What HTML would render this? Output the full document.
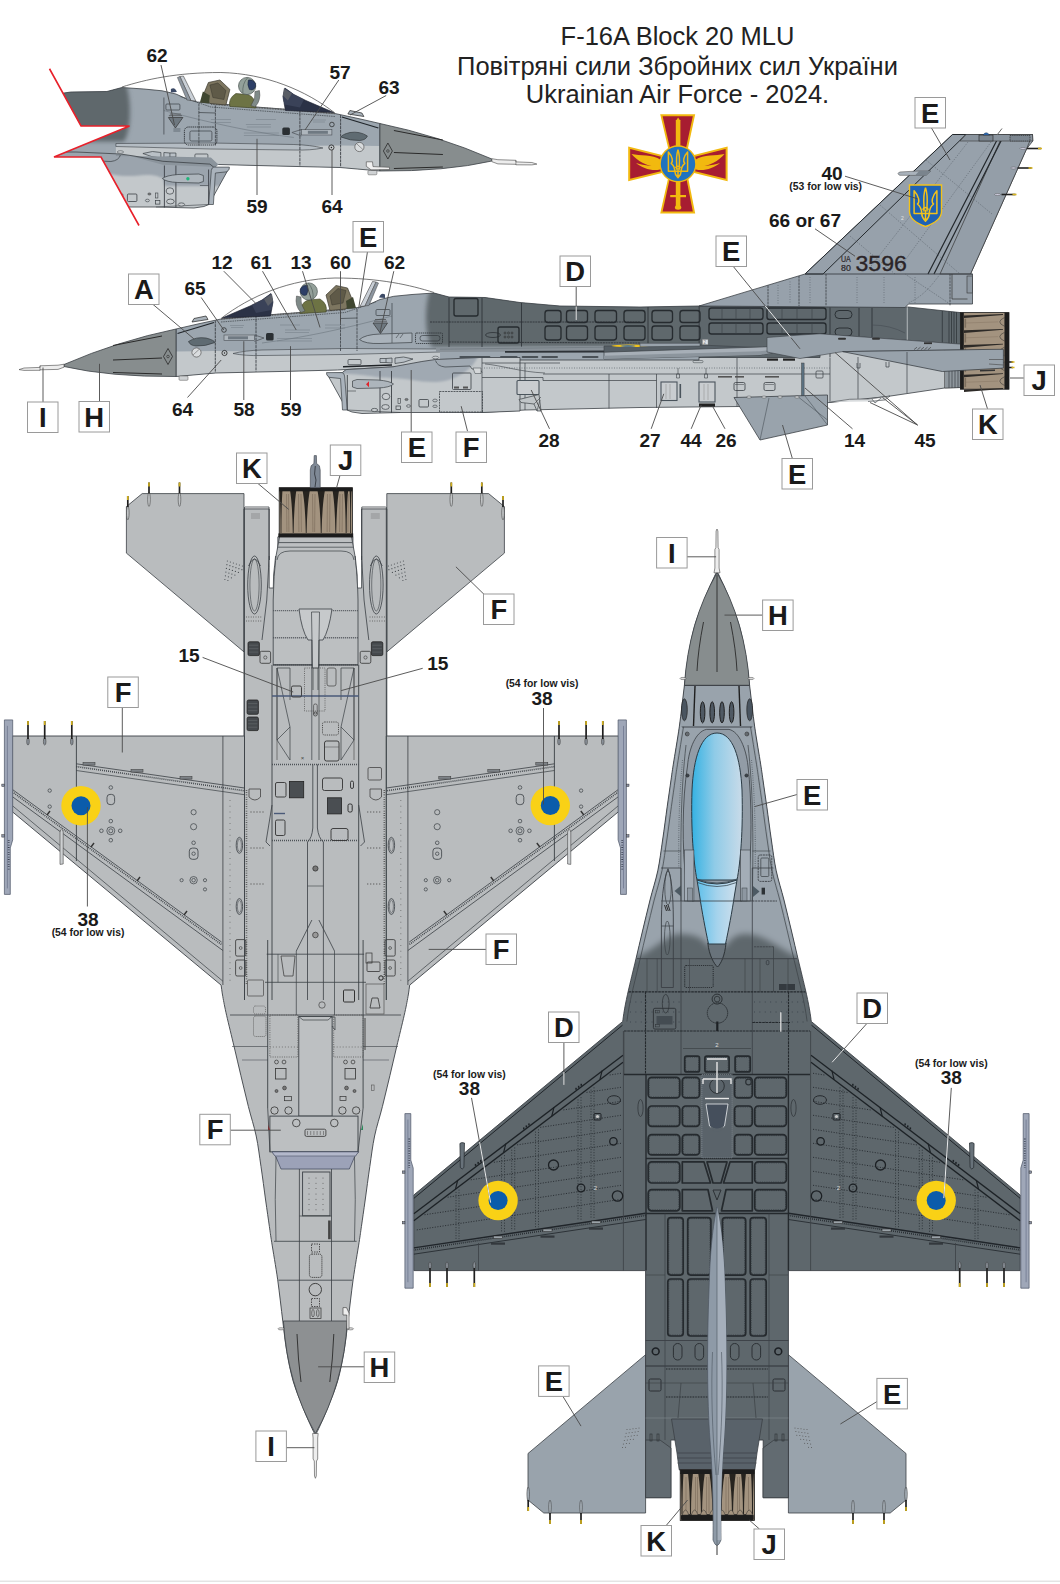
<!DOCTYPE html>
<html><head><meta charset="utf-8"><title>F-16A Block 20 MLU</title>
<style>html,body{margin:0;padding:0;background:#fff}svg{display:block;font-family:"Liberation Sans",sans-serif}</style></head><body>
<svg width="1060" height="1584" viewBox="0 0 1060 1584">
<rect width="1060" height="1584" fill="#fff"/>
<rect x="0" y="1580.6" width="1060" height="1.2" fill="#dedede"/>
<text x="677.5" y="45" font-size="25.5" text-anchor="middle" fill="#222">F-16A Block 20 MLU</text>
<text x="677.5" y="74.8" font-size="25.5" text-anchor="middle" fill="#222">Повітряні сили Збройних сил України</text>
<text x="677.5" y="102.8" font-size="25.5" text-anchor="middle" fill="#222">Ukrainian Air Force - 2024.</text>
<g id="emblem">
<polygon points="660.2,114.3 695.2,114.3 687.6,150.0 668.6,150.0" fill="#f2b90f" stroke="none" stroke-width="0.7" />
<polygon points="662.6,116.3 692.8,116.3 685.6,150.0 670.4,150.0" fill="#a71d31" stroke="none" stroke-width="0.7" />
<polygon points="660.2,213.6 695.2,213.6 688.2,178.0 668.2,178.0" fill="#f2b90f" stroke="none" stroke-width="0.7" />
<polygon points="662.6,211.6 692.8,211.6 686.3,178.0 669.9,178.0" fill="#a71d31" stroke="none" stroke-width="0.7" />
<polygon points="628.2,146.5 628.2,181.2 664.0,172.5 664.0,155.5" fill="#f2b90f" stroke="none" stroke-width="0.7" />
<polygon points="630.2,149.0 630.2,178.7 664.0,170.5 664.0,157.4" fill="#a71d31" stroke="none" stroke-width="0.7" />
<polygon points="727.6,146.5 727.6,181.2 692.0,172.5 692.0,155.5" fill="#f2b90f" stroke="none" stroke-width="0.7" />
<polygon points="725.6,149.0 725.6,178.7 692.0,170.5 692.0,157.4" fill="#a71d31" stroke="none" stroke-width="0.7" />
<rect x="675.8" y="120.0" width="4.6" height="86.0" rx="0" fill="#f2b90f" stroke="none" stroke-width="0.7" />
<polygon points="675.8,121.0 678.1,117.5 680.4,121.0" fill="#f2b90f" stroke="none" stroke-width="0.7" />
<rect x="670.2" y="195.0" width="15.8" height="2.2" rx="0" fill="#f2b90f" stroke="none" stroke-width="0.7" />
<ellipse cx="678.1" cy="207.5" rx="3.2" ry="2.2" fill="#f2b90f" stroke="none" stroke-width="0.7" />
<path d="M660,166 C650,168 638,162 631.5,154 C640,156 652,154 661,160 Z" fill="#f2b90f" stroke="none" stroke-width="0.7" />
<path d="M660,169.5 C652,171.5 642,168 636,163 C645,166 654,166 660,166 Z" fill="#f2b90f" stroke="none" stroke-width="0.7" />
<path d="M696,166 C706,168 718,162 724.5,154 C716,156 704,154 695,160 Z" fill="#f2b90f" stroke="none" stroke-width="0.7" />
<path d="M696,169.5 C704,171.5 714,168 720,163 C711,166 702,166 696,166 Z" fill="#f2b90f" stroke="none" stroke-width="0.7" />
<circle cx="678.0" cy="163.9" r="18.6" fill="#f2b90f" stroke="none" stroke-width="0.7" />
<circle cx="678.0" cy="163.9" r="17.2" fill="#2173bf" stroke="none" stroke-width="0.7" />
<g transform="translate(678.0,163.3) scale(0.8)" fill="none" stroke="#f2b90f" stroke-width="1.88" stroke-linejoin="round">
<path d="M0,-17 C-1.6,-12 -2.2,-6 -1.6,2 L-1.6,8 M0,-17 C1.6,-12 2.2,-6 1.6,2 L1.6,8"/>
<path d="M-12,-14 L-12,10 L-4,10 C-4,5 -6,2 -8.5,0 C-6,-2 -6.5,-8 -12,-14 Z"/>
<path d="M12,-14 L12,10 L4,10 C4,5 6,2 8.5,0 C6,-2 6.5,-8 12,-14 Z"/>
<path d="M-4,10 C-4,14 -2,16 0,18 C2,16 4,14 4,10 M0,6 L0,18 M-5,10 L5,10 M-3,6 C-2,3 2,3 3,6"/>
</g>
</g>
<defs>
<filter id="blur2" x="-30%" y="-30%" width="160%" height="160%"><feGaussianBlur stdDeviation="2.2"/></filter>
<filter id="blur1" x="-30%" y="-30%" width="160%" height="160%"><feGaussianBlur stdDeviation="1.2"/></filter>
<clipPath id="fbody"><path d="M176.0,329.0 L200.0,323.5 L221.0,319.0 L260.0,315.5 L300.0,312.5 L340.0,309.0 L358.5,307.5 L370.0,304.0 L380.0,299.5 L393.8,296.3 L412.0,294.5 L434.0,293.0 L449.0,297.0 L485.0,297.5 L520.0,302.5 L560.0,306.0 L640.0,307.0 L699.0,306.0 L699.0,360.0 L640.0,360.0 L520.0,360.0 L337.5,370.0 L280.0,371.5 L215.8,373.0 L176.0,376.5 Z"/></clipPath>
<g id="sidefront">
<path d="M176.0,329.0 L200.0,323.5 L221.0,319.0 L260.0,315.5 L300.0,312.5 L340.0,309.0 L358.5,307.5 L370.0,304.0 L380.0,299.5 L393.8,296.3 L412.0,294.5 L434.0,293.0 L449.0,297.0 L485.0,297.5 L520.0,302.5 L560.0,306.0 L640.0,307.0 L699.0,306.0 L699.0,360.0 L640.0,360.0 L520.0,360.0 L337.5,370.0 L280.0,371.5 L215.8,373.0 L176.0,376.5 Z" fill="#9ca6af" stroke="none"/>
<g clip-path="url(#fbody)">
<path d="M170,351.5 L215,351 C260,351.5 300,352.5 345,352 L440,351.5 L440,380 L170,380 Z" fill="#c3c8cb"/>
<path d="M432,285 C424,300 424,335 432,347 L705,347 L705,285 Z" fill="#5e676c" filter="url(#blur2)"/>
</g>
<path d="M233,353.5 Q245,350.5 262,350 L345,348.5 L440,349 L440,352 L345,354.5 L262,355.5 Q245,356 233,353.5 Z" fill="#b4bcc3" stroke="#3b4045" stroke-width="0.6"/>
<path d="M176.0,329.0 L200.0,323.5 L221.0,319.0 L260.0,315.5 L300.0,312.5 L340.0,309.0 L358.5,307.5 L370.0,304.0 L380.0,299.5 L393.8,296.3 L412.0,294.5 L434.0,293.0 L449.0,297.0 L485.0,297.5 L520.0,302.5 L560.0,306.0 L640.0,307.0 L699.0,306.0 L699.0,360.0 L640.0,360.0 L520.0,360.0 L337.5,370.0 L280.0,371.5 L215.8,373.0 L176.0,376.5 Z" fill="none" stroke="#3b4045" stroke-width="0.8"/>
<path d="M64,364.5 Q118,341 176,329 L176,376.5 Q110,377 64,366.5 Z" fill="#878d8e" stroke="#3b4045" stroke-width="0.8"/>
<path d="M113,345.5 L162,336" stroke="#2a2a2a" stroke-width="1" fill="none"/>
<path d="M113,360 L162,358" stroke="#2a2a2a" stroke-width="1" fill="none"/>
<path d="M113,372.5 L162,374" stroke="#2a2a2a" stroke-width="1" fill="none"/>
<path d="M163.5,356.5 L168,348.5 L172.5,356.5 L168,364.5 Z" fill="none" stroke="#2a2a2a" stroke-width="0.8"/><circle cx="168" cy="356.5" r="1.3" fill="none" stroke="#2a2a2a" stroke-width="0.6"/>
<path d="M19,369.6 L24,368 L40,367.4 L40,365.8 L58,365.2 L64,364.2 L64,367.2 L58,369.4 L40,369.8 L40,370.3 L24,370.4 Z" fill="#ededed" stroke="#444" stroke-width="0.6"/><path d="M40,365.8 L40,370.3" stroke="#444" stroke-width="0.5"/>
<path d="M177.5,333.5 L214,322.5" stroke="#20252a" stroke-width="1.3" fill="none"/>
<path d="M215.3,320.5 L215.3,372.5 M256,315.5 L256,371.5" stroke="#3b4045" stroke-width="0.9" stroke-dasharray="3,0.7" fill="none"/>
<path d="M192,322 L194,318.5 L206,316 L208,319.5 Z" fill="#aab3bb" stroke="#222" stroke-width="0.7"/>
<path d="M188.5,341.5 Q196,336.5 206,338 Q214,340 215,342.5 Q205,346.5 196,346 Q190,345.5 188.5,341.5 Z" fill="#5f6b72" stroke="#2a2f33" stroke-width="0.6"/>
<circle cx="196.5" cy="352.5" r="4.6" fill="#d9dcde" stroke="#555" stroke-width="0.7"/><path d="M193,355 L199.5,349" stroke="#777" stroke-width="0.7"/>
<rect x="179" y="376" width="9" height="4.3" rx="1" fill="#cfd2d4" stroke="#555" stroke-width="0.5"/>
<circle cx="224" cy="330" r="2.3" fill="none" stroke="#222" stroke-width="0.7"/><circle cx="224.5" cy="353" r="2.6" fill="none" stroke="#222" stroke-width="0.8"/><circle cx="224.5" cy="353" r="0.7" fill="#222"/>
<rect x="224" y="335" width="30.5" height="5.5" fill="#aeb6bd" stroke="#4a4f55" stroke-width="0.6"/><path d="M254.5,335 L264,338 L254.5,341.5" fill="none" stroke="#4a4f55" stroke-width="0.7"/>
<rect x="266" y="333" width="7.6" height="7.6" rx="1.5" fill="#2a2f33"/>
<rect x="228" y="336.3" width="20" height="3" fill="#6f7982"/>
<line x1="230" y1="325.5" x2="244" y2="325.5" stroke="#7e8891" stroke-width="0.7"/>
<line x1="231" y1="327.5" x2="243" y2="327.5" stroke="#7e8891" stroke-width="0.7"/>
<line x1="280" y1="325" x2="300" y2="325" stroke="#7e8891" stroke-width="0.7"/>
<line x1="285" y1="330" x2="310" y2="330" stroke="#7e8891" stroke-width="0.7"/>
<line x1="285" y1="332.5" x2="309" y2="332.5" stroke="#7e8891" stroke-width="0.7"/>
<line x1="277" y1="338.5" x2="312" y2="338.5" stroke="#7e8891" stroke-width="0.7"/>
<line x1="277" y1="341" x2="312" y2="341" stroke="#7e8891" stroke-width="0.7"/>
<line x1="325" y1="325" x2="345" y2="325" stroke="#7e8891" stroke-width="0.7"/>
<line x1="325" y1="328" x2="345" y2="328" stroke="#7e8891" stroke-width="0.7"/>
<path d="M221,322 L345,312.5 L376,302" stroke="#3b4045" stroke-width="0.7" stroke-dasharray="1.5,0.8" fill="none"/>
<path d="M221,319 L345,309.5" stroke="#555" stroke-width="1.6" stroke-dasharray="0.8,0.8" fill="none"/>
<path d="M262,343 C300,338 340,330 392,316" stroke="#6c757d" stroke-width="0.6" fill="none"/>
<path d="M340.5,311 L340.5,351 M357,309 L357,351" stroke="#3b4045" stroke-width="0.8" stroke-dasharray="3,0.7" fill="none"/>
<path d="M340.5,318.5 L357,318 M392,303 L392,340" stroke="#3b4045" stroke-width="0.7" fill="none"/>
<path d="M373,323 L387.5,323 L380.5,333.5 Z" fill="#6e7880" stroke="#333" stroke-width="0.7"/><path d="M375,319.5 L386,319.5 M374,321.2 L387,321.2" stroke="#333" stroke-width="0.6"/>
<rect x="376" y="309.5" width="14" height="6" rx="1" fill="none" stroke="#3b4045" stroke-width="0.7"/>
<path d="M222,318 L250,306 L262,300 L271,293.5 L273,302 L270.5,316 Z" fill="#2b3246" stroke="#1b1f2b" stroke-width="0.6"/>
<path d="M252,305 L262,300 L271,293.5 L273,302 L271.5,310 L256,313 Z" fill="#3a4258" stroke="none"/><path d="M264,299 L272,294 L273,301 L268,306 Z" fill="#5a5e66"/>
<path d="M326,295 L336,285.5 L347.5,288 L352,299 L346,309 L330,310.5 Z" fill="#7d7660" stroke="#3b382e" stroke-width="0.7"/><path d="M330,296 L338,288.5 L346,290.5 L343,303 L332,305 Z" fill="#5f5a48" stroke="#3b382e" stroke-width="0.5"/>
<path d="M346,301 L353,297 L356,308 L347,309 Z" fill="#3f4630"/>
<path d="M300,313.5 Q300,303 308,300 L320,299 Q328,304 326,312 Z" fill="#6d7344" stroke="#3c4024" stroke-width="0.6"/>
<path d="M296.5,296 Q294.5,306 301,312.5 L305,311 Q300,304 301,297 Z" fill="#7f8a88" stroke="#444" stroke-width="0.5"/>
<circle cx="308.8" cy="291.5" r="8.6" fill="#93a09a" stroke="#4b5551" stroke-width="0.7"/><path d="M300.3,289 Q303,284.5 307.5,285.5 Q309,290 306.5,295 Q302,296.5 300.3,292 Z" fill="#2c3e66" stroke="#1c2438" stroke-width="0.5"/>
<path d="M308,283 Q314,289 313,299" stroke="#5d6a66" stroke-width="0.8" fill="none"/>
<path d="M360,306.5 L372.5,281.5 L376,282 L365,306 Z" fill="#c9cfd6" stroke="#444" stroke-width="0.6"/><path d="M365,306 L376,282 L378.5,283 L369,305.5 Z" fill="#8d96a0" stroke="#444" stroke-width="0.5"/>
<path d="M379,297.5 Q381,292 385,294.5 L385,298 Z" fill="#3c4a66"/>
<path d="M221,318.5 C250,296 290,279 335,278 C380,278 410,285 434,292.5" fill="none" stroke="#555" stroke-width="0.8"/>
<rect x="348" y="359.5" width="13" height="5.2" rx="1" fill="none" stroke="#3b4045" stroke-width="0.7"/>
<path d="M380,358.5 L386,358.5 L386,362.5 L380,362.5 Z M386,358.5 L392,358 L392,363 L386,362.5 M395,358 Q403,355.5 413,359 Q404,363 395,363.5 Z" fill="#b9c0c6" stroke="#3b4045" stroke-width="0.7"/>
<path d="M343,366.8 L392,365" stroke="#1f2327" stroke-width="1.6" fill="none"/>
</g>
<clipPath id="iclip"><path d="M327.0,373.8 L342.0,372.8 L346.0,369.6 L393.0,366.8 L421.9,361.5 L435.5,359.5 L480.0,357.5 L520.0,357.5 L520.0,411.0 L482.0,412.5 L400.0,412.5 L362.0,413.5 L352.0,412.0 L347.0,410.0 Z"/></clipPath>
<g id="intakebase2">
<path d="M327.0,373.8 L342.0,372.8 L346.0,369.6 L393.0,366.8 L421.9,361.5 L435.5,359.5 L480.0,357.5 L520.0,357.5 L520.0,411.0 L482.0,412.5 L400.0,412.5 L362.0,413.5 L352.0,412.0 L347.0,410.0 Z" fill="#c3c8cb" stroke="none"/>
<g clip-path="url(#iclip)">
<path d="M320,355 L478,355 C476,364 466,374 450,379.5 C430,386 410,378 392,378 C370,378 360,372 320,374 Z" fill="#a0a9b2" filter="url(#blur1)"/>
</g></g>
<g id="intakebase1">
<path d="M327.0,373.8 L342.0,372.8 L346.0,369.6 L393.0,366.8 L421.9,361.5 L435.5,359.5 L480.0,357.5 L520.0,357.5 L520.0,411.0 L482.0,412.5 L400.0,412.5 L362.0,413.5 L352.0,412.0 L347.0,410.0 Z" fill="#c3c8cb" stroke="none"/>
<g clip-path="url(#iclip)">
<path d="M320,355 L525,355 L525,376 C500,378 470,377 443,380 C430,383 420,381 410,380.5 C400,380 396,383 393,383.5 L391,391.5 L339,391.5 L320,391.5 Z" fill="#9ba4ad" filter="url(#blur1)"/>
</g>
<path d="M337.5,370 L345,363 L392,362 L440,361.5 L440,360 L435.5,360 L421.9,362.5 L393,370.2 L340,372.6 Z" fill="#8b949c" stroke="none"/>
</g>
<g id="sideintake">
<path d="M327.0,373.8 L342.0,372.8 L346.0,369.6 L393.0,366.8 L421.9,361.5 L435.5,359.5 L480.0,357.5 L520.0,357.5 L520.0,411.0 L482.0,412.5 L400.0,412.5 L362.0,413.5 L352.0,412.0 L347.0,410.0 Z" fill="none" stroke="#3b4045" stroke-width="0.8"/>
<path d="M326.5,372.6 L342,372.6 Q344,372.6 344.6,376 L347.3,410 L342.5,410 L340.5,378.5 L329,377.3 Q326,375 326.5,372.6 Z" fill="#aab3bc" stroke="#3b4045" stroke-width="0.7"/>
<path d="M347.3,375 L347.3,410 M380,371 L380,413 M391.5,371 L391.5,413" stroke="#3b4045" stroke-width="0.9" fill="none"/>
<path d="M347.3,391 L356,391 M347.3,410 L400,412.5" stroke="#3b4045" stroke-width="0.6" fill="none"/>
<path d="M352.5,381 L357,379.5 L378,380 Q390,381 393.5,384 Q390,387.5 378,388 L357,388.5 L352.5,387 Z" fill="#adb5bc" stroke="#3b4045" stroke-width="0.7"/>
<ellipse cx="386" cy="396.5" rx="3.8" ry="3.2" fill="#c9cdd0" stroke="#3b4045" stroke-width="0.7"/>
<ellipse cx="385.5" cy="407" rx="3.8" ry="2.4" fill="#c9cdd0" stroke="#3b4045" stroke-width="0.7"/>
<ellipse cx="374.5" cy="410" rx="3.2" ry="1.6" fill="#c9cdd0" stroke="#3b4045" stroke-width="0.7"/>
<rect x="398" y="398.5" width="2.6" height="5" fill="none" stroke="#3b4045" stroke-width="0.6"/><rect x="396" y="406" width="4.5" height="3.6" fill="none" stroke="#3b4045" stroke-width="0.7"/>
<ellipse cx="406.5" cy="399.5" rx="1.6" ry="1.1" fill="#777" stroke="#3b4045" stroke-width="0.5"/><ellipse cx="408.5" cy="406" rx="2" ry="1.3" fill="none" stroke="#3b4045" stroke-width="0.6"/>
<rect x="419" y="399.5" width="9.5" height="7.5" rx="1" fill="none" stroke="#3b4045" stroke-width="0.8"/><ellipse cx="435" cy="400.5" rx="2.2" ry="1.4" fill="none" stroke="#3b4045" stroke-width="0.6"/><ellipse cx="435" cy="406.3" rx="2.2" ry="1.2" fill="none" stroke="#3b4045" stroke-width="0.6"/>
<rect x="439.5" y="391.5" width="43" height="20.5" fill="none" stroke="#3b4045" stroke-width="0.8" stroke-dasharray="2,0.8"/>
<rect x="452.5" y="373" width="18.5" height="16.5" rx="1" fill="none" stroke="#3b4045" stroke-width="0.8"/><rect x="454" y="386.5" width="5" height="2" fill="#555"/><rect x="463" y="386.5" width="5" height="2" fill="#555"/>
<path d="M435.5,360.5 Q437,366 445,367 L470,366 L472,369 L480,369.5 L482,372.5" fill="none" stroke="#3b4045" stroke-width="0.7"/>
<ellipse cx="435.5" cy="357.5" rx="3.2" ry="1.3" fill="#c9cdd0" stroke="#3b4045" stroke-width="0.5"/>
<path d="M473,368 L481,368 L481,373.5 L475,373.5 Z" fill="#d4d7d9" stroke="#3b4045" stroke-width="0.5"/>
</g>
<g id="gunL">
<path d="M359.5,339.5 Q365,334.5 380,334 L412,333 L412,342.5 L380,343.5 Q365,344 359.5,339.5 Z" fill="#aab3bb" stroke="#3b4045" stroke-width="0.7"/>
<path d="M392,334 L392,343 M396,338 L399,334 M400,338 L403,334" stroke="#3b4045" stroke-width="0.6" fill="none"/>
<rect x="415.5" y="333" width="27" height="10.5" rx="1" fill="none" stroke="#2c3135" stroke-width="0.8" stroke-dasharray="1.4,0.7"/><rect x="420" y="335.5" width="20" height="5.5" rx="2.5" fill="none" stroke="#2c3135" stroke-width="0.6"/>
</g>
<g id="panelR">
<rect x="339" y="332.5" width="32.5" height="18" rx="4" fill="none" stroke="#2c3135" stroke-width="0.9" stroke-dasharray="1.4,0.7"/><rect x="344" y="336.5" width="22" height="10" rx="1.5" fill="none" stroke="#3b4045" stroke-width="0.7"/>
<rect x="375.5" y="333.5" width="7" height="4" fill="#7f8992" stroke="none"/>
</g>
</defs>
<g id="view2">
<path d="M482.0,357.5 L560.0,357.5 L700.0,357.5 L700.0,340.0 L960.4,343.0 L960.4,387.5 L944.5,388.0 L888.0,396.4 L830.0,402.5 L740.0,406.5 L640.0,407.5 L525.0,410.0 L482.0,412.5 Z" fill="#c3c8cb" stroke="#3b4045" stroke-width="0.8"/>
<path d="M944.5,350 L960.4,345 L960.4,387.5 L944.5,388 Z" fill="#8f979d" stroke="#333" stroke-width="0.5"/>
<path d="M949,348 L949,388 M952,347 L952,388 M955,346 L955,388 M958,346 L958,388" stroke="#3a4045" stroke-width="0.7"/>
<path d="M699.0,306.0 L908.3,307.0 L960.4,312.6 L960.4,344.3 L820.0,334.0 L820.0,357.5 L699.0,357.5 Z" fill="#5e676c" stroke="#3b4045" stroke-width="0.8"/>
<path d="M699.0,306.0 L805.0,274.0 L952.5,134.5 L1032.5,134.5 L1032.8,141.0 L1026.5,149.0 L970.5,274.0 L972.5,274.0 L972.5,304.0 L967.0,304.0 L908.5,304.0 L905.0,307.5 Z" fill="#97a1ab" stroke="#3b4045" stroke-width="0.8"/>
<path d="M805,274 L952.5,134.5 L966,134.5 L823,274 Z" fill="#96a0aa" stroke="#23282c" stroke-width="1.0"/>
<path d="M1003,134.5 L1032.5,134.5 L1026.5,149 L970.5,274 L940,274 Z" fill="#949ea8" stroke="#333" stroke-width="0.7"/>
<path d="M997,140 L928,274 M1001.5,140 L934,274" stroke="#23282c" stroke-width="1.2" fill="none"/>
<path d="M966,134.5 L1032.5,134.5 L1032.8,141 L960,141 Z" fill="#8a949e" stroke="#333" stroke-width="0.6"/>
<rect x="979" y="135" width="14" height="6" fill="#7b858f" stroke="#222" stroke-width="0.6"/><rect x="1010" y="135.5" width="20" height="5.5" fill="#7b858f" stroke="#222" stroke-width="0.6" stroke-dasharray="1.5,0.6"/>
<path d="M983,135 Q986,130.5 989.5,135 Z" fill="#2d6fc0" stroke="#234" stroke-width="0.5"/><path d="M997,135 L1002,128.5" stroke="#666" stroke-width="1"/>
<path d="M968,142 L868,270" stroke="#5a636b" stroke-width="0.7" stroke-dasharray="1,1.4" fill="none"/>
<path d="M991,142 L898,270" stroke="#5a636b" stroke-width="0.7" stroke-dasharray="1,1.4" fill="none"/>
<path d="M926,160 L992,214" stroke="#5a636b" stroke-width="0.7" stroke-dasharray="1,1.4" fill="none"/>
<path d="M880,205 L960,274" stroke="#5a636b" stroke-width="0.7" stroke-dasharray="1,1.4" fill="none"/>
<path d="M850,236 L895,274" stroke="#5a636b" stroke-width="0.7" stroke-dasharray="1,1.4" fill="none"/>
<path d="M805,274 L972.5,274" stroke="#3b4045" stroke-width="0.9" fill="none"/>
<line x1="768" y1="285.5" x2="768" y2="306" stroke="#3b4045" stroke-width="0.8" stroke-dasharray="2.5,0.7"/>
<line x1="799" y1="276" x2="799" y2="306" stroke="#3b4045" stroke-width="0.8" stroke-dasharray="2.5,0.7"/>
<line x1="826" y1="274" x2="826" y2="306" stroke="#3b4045" stroke-width="0.8" stroke-dasharray="2.5,0.7"/>
<line x1="950" y1="274" x2="950" y2="306" stroke="#3b4045" stroke-width="0.8" stroke-dasharray="2.5,0.7"/>
<line x1="778" y1="285.1" x2="778" y2="304" stroke="#5a636b" stroke-width="0.7" stroke-dasharray="0.9,1.6"/>
<line x1="790" y1="281.5" x2="790" y2="304" stroke="#5a636b" stroke-width="0.7" stroke-dasharray="0.9,1.6"/>
<line x1="810" y1="277.0" x2="810" y2="304" stroke="#5a636b" stroke-width="0.7" stroke-dasharray="0.9,1.6"/>
<line x1="857" y1="277.0" x2="857" y2="304" stroke="#5a636b" stroke-width="0.7" stroke-dasharray="0.9,1.6"/>
<line x1="884" y1="277.0" x2="884" y2="304" stroke="#5a636b" stroke-width="0.7" stroke-dasharray="0.9,1.6"/>
<line x1="915" y1="277.0" x2="915" y2="304" stroke="#5a636b" stroke-width="0.7" stroke-dasharray="0.9,1.6"/>
<path d="M905,274 L950,304 M940,274 Q925,296 908,303" stroke="#5a636b" stroke-width="0.7" stroke-dasharray="1,1.2" fill="none"/>
<path d="M952,274 L952,299 L967.5,299" stroke="#333" stroke-width="0.7" fill="none"/><rect x="967" y="276" width="5.5" height="17" fill="#8e98a2" stroke="#333" stroke-width="0.6"/>
<text x="855.5" y="270.9" font-size="21.4" fill="#2b2528" stroke="#2b2528" stroke-width="0.35" textLength="51.3" lengthAdjust="spacingAndGlyphs">3596</text>
<text x="841" y="261.6" font-size="8.4" fill="#2b2528" stroke="#2b2528" stroke-width="0.2" textLength="9.8" lengthAdjust="spacingAndGlyphs">UA</text><text x="841" y="270.9" font-size="8.4" fill="#2b2528" stroke="#2b2528" stroke-width="0.2" textLength="9.8" lengthAdjust="spacingAndGlyphs">80</text>
<path d="M909.5,185 L941.5,185 L941.5,212 Q941,221 925.5,226.5 Q910,221 909.5,212 Z" fill="#1f62b4" stroke="#f3c21b" stroke-width="1.4"/>
<g transform="translate(925.5,204.0) scale(0.95)" fill="none" stroke="#f3c21b" stroke-width="1.58" stroke-linejoin="round">
<path d="M0,-17 C-1.6,-12 -2.2,-6 -1.6,2 L-1.6,8 M0,-17 C1.6,-12 2.2,-6 1.6,2 L1.6,8"/>
<path d="M-12,-14 L-12,10 L-4,10 C-4,5 -6,2 -8.5,0 C-6,-2 -6.5,-8 -12,-14 Z"/>
<path d="M12,-14 L12,10 L4,10 C4,5 6,2 8.5,0 C6,-2 6.5,-8 12,-14 Z"/>
<path d="M-4,10 C-4,14 -2,16 0,18 C2,16 4,14 4,10 M0,6 L0,18 M-5,10 L5,10 M-3,6 C-2,3 2,3 3,6"/>
</g>
<text x="901" y="220" font-size="5" fill="#e5e5e5">2</text>
<path d="M899.5,175.3 Q896.5,173.5 899.5,172 L918,171 L931,171 L926,175.5 Z" fill="#aab3bc" stroke="#444" stroke-width="0.5"/><path d="M919,171 L931,171 L926,175.5 L915,175.5 Z" fill="#7a848d"/>
<ellipse cx="1023" cy="148.5" rx="3" ry="1" fill="#ccd" stroke="#444" stroke-width="0.4"/><line x1="1027" y1="148.5" x2="1041" y2="148.5" stroke="#222" stroke-width="1.6"/><line x1="1038" y1="148.5" x2="1042" y2="148.5" stroke="#d8b420" stroke-width="1.6"/>
<ellipse cx="1013.5" cy="168" rx="3" ry="1" fill="#ccd" stroke="#444" stroke-width="0.4"/><line x1="1017.5" y1="168" x2="1031.5" y2="168" stroke="#222" stroke-width="1.6"/><line x1="1028.5" y1="168" x2="1032.5" y2="168" stroke="#d8b420" stroke-width="1.6"/>
<ellipse cx="997.5" cy="194.5" rx="3" ry="1" fill="#ccd" stroke="#444" stroke-width="0.4"/><line x1="1001.5" y1="194.5" x2="1015.5" y2="194.5" stroke="#222" stroke-width="1.6"/><line x1="1012.5" y1="194.5" x2="1016.5" y2="194.5" stroke="#d8b420" stroke-width="1.6"/>
<use href="#sidefront"/><use href="#gunL"/><use href="#intakebase2"/><use href="#sideintake"/>
<path d="M369,381.2 L366,384.2 L369,387.2 Z" fill="#e0252c"/>
<rect x="545.0" y="310.5" width="16.0" height="12.0" rx="2.8" fill="none" stroke="#262b2f" stroke-width="1.35"/>
<rect x="545.0" y="326.0" width="16.0" height="14.0" rx="2.8" fill="none" stroke="#262b2f" stroke-width="1.35"/>
<rect x="566.5" y="310.5" width="21.0" height="12.0" rx="2.8" fill="none" stroke="#262b2f" stroke-width="1.35"/>
<rect x="566.5" y="326.0" width="21.0" height="14.0" rx="2.8" fill="none" stroke="#262b2f" stroke-width="1.35"/>
<rect x="595.0" y="310.5" width="21.5" height="12.0" rx="2.8" fill="none" stroke="#262b2f" stroke-width="1.35"/>
<rect x="595.0" y="326.0" width="21.5" height="14.0" rx="2.8" fill="none" stroke="#262b2f" stroke-width="1.35"/>
<rect x="624.0" y="310.5" width="21.0" height="12.0" rx="2.8" fill="none" stroke="#262b2f" stroke-width="1.35"/>
<rect x="624.0" y="326.0" width="21.0" height="14.0" rx="2.8" fill="none" stroke="#262b2f" stroke-width="1.35"/>
<rect x="652.0" y="310.5" width="20.5" height="12.0" rx="2.8" fill="none" stroke="#262b2f" stroke-width="1.35"/>
<rect x="652.0" y="326.0" width="20.5" height="14.0" rx="2.8" fill="none" stroke="#262b2f" stroke-width="1.35"/>
<rect x="680.0" y="310.5" width="20.0" height="12.0" rx="2.8" fill="none" stroke="#262b2f" stroke-width="1.35"/>
<rect x="680.0" y="326.0" width="20.0" height="14.0" rx="2.8" fill="none" stroke="#262b2f" stroke-width="1.35"/>
<rect x="454.0" y="298.5" width="24.0" height="17.5" rx="2" fill="none" stroke="#262b2f" stroke-width="1.35"/>
<rect x="709.0" y="308.0" width="54.0" height="11.5" rx="2.5" fill="none" stroke="#262b2f" stroke-width="1.35"/>
<rect x="709.0" y="323.0" width="54.0" height="11.0" rx="2.5" fill="none" stroke="#262b2f" stroke-width="1.35"/>
<rect x="767.0" y="308.0" width="59.0" height="11.5" rx="2.5" fill="none" stroke="#262b2f" stroke-width="1.35"/>
<rect x="767.0" y="323.0" width="59.0" height="11.0" rx="2.5" fill="none" stroke="#262b2f" stroke-width="1.35"/>
<path d="M722,308 L722,319.5 M722,323 L722,334" stroke="#3a4146" stroke-width="0.6"/>
<path d="M736,308 L736,319.5 M736,323 L736,334" stroke="#3a4146" stroke-width="0.6"/>
<path d="M750,308 L750,319.5 M750,323 L750,334" stroke="#3a4146" stroke-width="0.6"/>
<path d="M782,308 L782,319.5 M782,323 L782,334" stroke="#3a4146" stroke-width="0.6"/>
<path d="M797,308 L797,319.5 M797,323 L797,334" stroke="#3a4146" stroke-width="0.6"/>
<path d="M812,308 L812,319.5 M812,323 L812,334" stroke="#3a4146" stroke-width="0.6"/>
<rect x="835" y="310.5" width="17" height="8" rx="4" fill="none" stroke="#262b2f" stroke-width="0.9"/>
<rect x="835" y="328.0" width="17" height="8" rx="4" fill="none" stroke="#262b2f" stroke-width="0.9"/>
<path d="M449,297.5 L449,347 M482,298 L482,347 M521.5,303 L521.5,347 M648,307 L648,346 M830,307.5 L830,357 M859,308 L859,352 M872,308 L872,350" stroke="#2a2f33" stroke-width="0.8" fill="none"/>
<path d="M430,322 L640,322 M449,342 L640,343" stroke="#2a2f33" stroke-width="0.8" stroke-dasharray="2,0.7" fill="none"/>
<rect x="498.0" y="327.0" width="21.0" height="16.0" rx="2" fill="none" stroke="#262b2f" stroke-width="1.35"/>
<circle cx="505.0" cy="333" r="1" fill="none" stroke="#222" stroke-width="0.5"/>
<circle cx="505.0" cy="337" r="1" fill="none" stroke="#222" stroke-width="0.5"/>
<circle cx="508.5" cy="333" r="1" fill="none" stroke="#222" stroke-width="0.5"/>
<circle cx="508.5" cy="337" r="1" fill="none" stroke="#222" stroke-width="0.5"/>
<circle cx="512.0" cy="333" r="1" fill="none" stroke="#222" stroke-width="0.5"/>
<circle cx="512.0" cy="337" r="1" fill="none" stroke="#222" stroke-width="0.5"/>
<ellipse cx="493" cy="335" rx="7.5" ry="2.5" fill="none" stroke="#262b2f" stroke-width="0.7"/>
<path d="M942.3,311 L942.3,343 M949,311.5 L949,343.5 M951.5,312 L951.5,343.7 M954,312 L954,344 M956.5,312.3 L956.5,344" stroke="#2a2f33" stroke-width="0.7" fill="none"/>
<path d="M872,325 Q890,325 905,333" stroke="#454c52" stroke-width="0.6" fill="none"/>
<rect x="906.8" y="307.2" width="0.8" height="33.5" fill="#c8cdd0"/>
<path d="M436,347.5 L604,346 L604,351.4 L436,352 Z" fill="#899198" stroke="none"/>
<path d="M440,349.2 L520,348.2 L604,347.2" fill="none" stroke="#6a737a" stroke-width="0.6"/>
<path d="M505,350.9 L604,350.5 L604,352.5 L505,352.7 Z" fill="#2e3338"/>
<path d="M604,346 L700,345 L790,349 L790,352.5 L760,351 L604,352.6 Z" fill="#565f66" stroke="#3b4045" stroke-width="0.6"/>
<ellipse cx="630" cy="345.8" rx="18.5" ry="1.3" fill="#f1c31c"/><ellipse cx="628" cy="346" rx="7.5" ry="0.8" fill="#2a62b0"/>
<path d="M604,352.2 L760,347 L776,346.3 L776.6,352 L760,355 L604,359 Z" fill="#a7afb7" stroke="#3b4045" stroke-width="0.7"/>
<path d="M604,355.8 L760,351.2 L776.3,349.4 L776.6,352 L760,355 L604,359 Z" fill="#8c959d"/>
<path d="M640,343.3 L700,343.3 L700,346 L640,346.8 Z" fill="#99a3ac" stroke="#3b4045" stroke-width="0.5"/>
<rect x="459.4" y="356" width="31" height="2" rx="1" fill="#4a5157"/>
<rect x="500" y="356" width="17.6" height="2" rx="1" fill="#4a5157"/>
<rect x="521.7" y="356" width="16.6" height="2" rx="1" fill="#4a5157"/>
<rect x="541.4" y="356" width="16.6" height="2" rx="1" fill="#4a5157"/>
<rect x="582" y="356" width="16.5" height="2" rx="1" fill="#4a5157"/>
<rect x="702.5" y="339.5" width="5.5" height="5" fill="#dfe3e6" stroke="#888" stroke-width="0.4"/><text x="703.6" y="344" font-size="4.6" fill="#888">2</text>
<path d="M767,337.5 L800,335 L820,333.8 L960.4,344.1 L990,346.6 L990,349.5 L842.6,351.6 L800,358.5 L767,352 Z" fill="#98a2ab" stroke="#3b4045" stroke-width="0.6"/>
<rect x="838" y="337.8" width="8" height="2" rx="1" fill="#333"/>
<rect x="872" y="337.8" width="8" height="2" rx="1" fill="#333"/>
<rect x="924" y="342.3" width="8" height="1.8" fill="#333"/>
<rect x="960.4" y="312.6" width="48.6" height="76.6" fill="#a3937f" stroke="#1c1c1c" stroke-width="0.8"/>
<rect x="960.4" y="312.6" width="3.4" height="76.6" fill="#1c1c1c"/><rect x="1004.5" y="312.6" width="4.5" height="76.6" fill="#1c1c1c"/>
<path d="M964,315.5 L1003,314.1 L1003,314.9 L964,318.1 Z" fill="#2d2a27"/>
<path d="M1004.5,317.5 Q995,321.9 1004.5,326.3 Z" fill="#a3937f" stroke="#2a2a2a" stroke-width="0.5"/>
<line x1="966" y1="323.0" x2="998" y2="321.9" stroke="#8b7b68" stroke-width="0.6"/>
<rect x="964.5" y="318.7" width="1.6" height="9" fill="#7d6f5e"/>
<path d="M964,330.3 L1003,328.9 L1003,329.7 L964,332.9 Z" fill="#2d2a27"/>
<path d="M1004.5,332.3 Q995,336.7 1004.5,341.1 Z" fill="#a3937f" stroke="#2a2a2a" stroke-width="0.5"/>
<line x1="966" y1="337.8" x2="998" y2="336.7" stroke="#8b7b68" stroke-width="0.6"/>
<rect x="964.5" y="333.5" width="1.6" height="9" fill="#7d6f5e"/>
<path d="M964,345.1 L1003,343.7 L1003,344.5 L964,347.7 Z" fill="#2d2a27"/>
<path d="M1004.5,347.1 Q995,351.5 1004.5,355.9 Z" fill="#a3937f" stroke="#2a2a2a" stroke-width="0.5"/>
<line x1="966" y1="352.6" x2="998" y2="351.5" stroke="#8b7b68" stroke-width="0.6"/>
<rect x="964.5" y="348.3" width="1.6" height="9" fill="#7d6f5e"/>
<path d="M964,359.9 L1003,358.5 L1003,359.3 L964,362.5 Z" fill="#2d2a27"/>
<path d="M1004.5,361.9 Q995,366.3 1004.5,370.7 Z" fill="#a3937f" stroke="#2a2a2a" stroke-width="0.5"/>
<line x1="966" y1="367.4" x2="998" y2="366.3" stroke="#8b7b68" stroke-width="0.6"/>
<rect x="964.5" y="363.1" width="1.6" height="9" fill="#7d6f5e"/>
<path d="M964,374.7 L1003,373.3 L1003,374.1 L964,377.3 Z" fill="#2d2a27"/>
<path d="M1004.5,376.7 Q995,381.1 1004.5,385.5 Z" fill="#a3937f" stroke="#2a2a2a" stroke-width="0.5"/>
<line x1="966" y1="382.2" x2="998" y2="381.1" stroke="#8b7b68" stroke-width="0.6"/>
<rect x="964.5" y="377.9" width="1.6" height="9" fill="#7d6f5e"/>
<path d="M964,389.5 L1003,388.1 L1003,388.9 L964,392.1 Z" fill="#2d2a27"/>
<path d="M1009,362 L1013,362 M1009,367.5 L1013,367.5" stroke="#222" stroke-width="1.6"/><path d="M1011.5,362 L1014.5,362 M1011.5,367.5 L1014.5,367.5" stroke="#d8b420" stroke-width="1.6"/>
<path d="M842.6,351.6 L990,349.4 L1003.4,349.3 L1003.4,368.1 L942.3,371.5 Z" fill="#98a2ab" stroke="#3b4045" stroke-width="0.8"/>
<path d="M989,359.5 L1003.4,359.5 M989,364 L1003.4,365" stroke="#444" stroke-width="0.6"/>
<line x1="914.0" y1="349.6" x2="917.0" y2="347.2" stroke="#333" stroke-width="0.6"/>
<line x1="917.5" y1="349.6" x2="920.5" y2="347.2" stroke="#333" stroke-width="0.6"/>
<line x1="921.0" y1="349.6" x2="924.0" y2="347.2" stroke="#333" stroke-width="0.6"/>
<line x1="924.5" y1="349.6" x2="927.5" y2="347.2" stroke="#333" stroke-width="0.6"/>
<line x1="928.0" y1="349.6" x2="931.0" y2="347.2" stroke="#333" stroke-width="0.6"/>
<path d="M980,370 L995,369.5 L995,371 L980,371.5 Z" fill="#333"/>
<path d="M482,357.5 L482,412.5 M525,363 L525,410 M609,374 L609,408.5 M656.5,374 L656.5,408 M737,358 L737,406.5 M830,357.5 L830,402.5 M858,357 L858,399.5 M907,352 L907,393" stroke="#3b4045" stroke-width="0.7" fill="none"/>
<path d="M482,377.5 L543,377.5 L543,380.5 L656.5,380.5 M543,374 L830,374 M482,363 L560,363" stroke="#3b4045" stroke-width="0.7" fill="none"/>
<path d="M484,368 L830,368" stroke="#596168" stroke-width="0.7" stroke-dasharray="1,1.5" fill="none"/>
<path d="M485,364 C500,365 520,372 545,373" stroke="#3b4045" stroke-width="0.6" fill="none"/>
<rect x="517" y="380.5" width="22" height="14" rx="1" fill="#c9cdd0" stroke="#4a545c" stroke-width="1.1"/>
<path d="M519,399.5 L539,394.5 L541,411 L537,411 L534,404 L521,402.5 Z" fill="#c0c5c8" stroke="#3b4045" stroke-width="0.7"/><path d="M534,404 L541,397 M537,411 L540,400" stroke="#3b4045" stroke-width="0.6"/>
<rect x="661" y="382" width="16" height="18.5" fill="#c9cdd0" stroke="#4a545c" stroke-width="1.1"/><path d="M666,384 L666,399 M670,384 L670,399" stroke="#888" stroke-width="0.5"/><rect x="679.5" y="384" width="1.6" height="14" fill="#4a545c"/>
<rect x="699" y="382" width="16" height="20" fill="#c9cdd0" stroke="#4a545c" stroke-width="1.1"/><path d="M704,384 L704,400 M708,384 L708,400" stroke="#888" stroke-width="0.5"/><rect x="699" y="403.5" width="16" height="3.2" fill="#222"/>
<rect x="734" y="382.5" width="11" height="8" rx="1.5" fill="none" stroke="#3b4045" stroke-width="0.8"/><line x1="735" y1="384.5" x2="744" y2="384.5" stroke="#3b4045" stroke-width="0.5"/>
<rect x="764" y="382.5" width="11" height="8" rx="1.5" fill="none" stroke="#3b4045" stroke-width="0.8"/><line x1="765" y1="384.5" x2="774" y2="384.5" stroke="#3b4045" stroke-width="0.5"/>
<rect x="816" y="371" width="7" height="7" rx="1" fill="none" stroke="#3b4045" stroke-width="0.7"/>
<path d="M678,368 L678,374 M676.5,374 L679.5,374 L679.5,378 L676.5,378 Z" stroke="#3b4045" stroke-width="0.6" fill="none"/>
<path d="M706,368 L706,374 M704.5,374 L707.5,374 L707.5,378 L704.5,378 Z" stroke="#3b4045" stroke-width="0.6" fill="none"/>
<rect x="693" y="360.5" width="10" height="2.2" rx="1" fill="none" stroke="#3b4045" stroke-width="0.5"/><rect x="718" y="376" width="14" height="1.6" fill="#555"/><rect x="735" y="376" width="9" height="1.6" fill="#555"/><rect x="765" y="376" width="14" height="1.6" fill="#555"/>
<rect x="767" y="358.5" width="11" height="2.2" fill="#222"/><rect x="783" y="358.5" width="12" height="2.2" fill="#222"/>
<rect x="801.5" y="363" width="2.6" height="33" fill="#5a7080" stroke="#333" stroke-width="0.4"/>
<path d="M857,363 L857,368 L860,368 L860,363 M886,362 L886,367 L889,367 L889,362" stroke="#3b4045" stroke-width="0.7" fill="none"/>
<path d="M831,402 Q850,398 868,399 L890,396 L885,400 L868,401.5 M872,399 L875,403 L881,398" stroke="#3b4045" stroke-width="0.6" fill="#d9dcde"/>
<path d="M734,397.5 L827.5,395 L827.5,425 L760,440 Z" fill="#99a3ac" stroke="#3b4045" stroke-width="0.8"/>
<path d="M769,398 L760,440 M805,396 L827.5,425 M797,396 L827.5,420" stroke="#4a5259" stroke-width="0.6" fill="none"/>
<rect x="747" y="396" width="4" height="2.2" rx="1" fill="#c9cdd0" stroke="#444" stroke-width="0.4"/>
<rect x="762" y="396" width="4" height="2.2" rx="1" fill="#c9cdd0" stroke="#444" stroke-width="0.4"/>
<rect x="778" y="396" width="4" height="2.2" rx="1" fill="#c9cdd0" stroke="#444" stroke-width="0.4"/>
<rect x="795" y="396" width="4" height="2.2" rx="1" fill="#c9cdd0" stroke="#444" stroke-width="0.4"/>
</g>
<g id="view1">
<clipPath id="v1clip"><polygon points="49.5,68.75 81,126 129.5,126 54,157 101,157 139,225.5 600,225.5 600,60 49.5,60"/></clipPath>
<g clip-path="url(#v1clip)"><g transform="translate(555.9,-205.5) scale(-1,1)">
<path d="M440,349 L520,347.5 L520,357.5 L482,357.5 L440,353 Z" fill="#7b858d" stroke="#3b4045" stroke-width="0.6"/>
<use href="#sidefront"/><use href="#panelR"/><use href="#intakebase1"/><use href="#sideintake"/>
<circle cx="368" cy="384.2" r="1.7" fill="#1fb57a"/>
</g></g>
<path d="M366.3,161.8 L372.5,161.8 L373,166.6 L389.5,167.3 L389.5,169.6 L371,169.8 L366.3,166.3 Z" fill="#f0f0f0" stroke="#444" stroke-width="0.6"/>
<polyline points="49.5,68.75 81,126 129.5,126 54,157 101,157 139,225.5" fill="none" stroke="#e8202a" stroke-width="1.6" stroke-linejoin="miter"/>
</g>
<g id="bottomview">
<polygon points="788.4,1354.7 906.0,1453.5 906.0,1500.0 890.2,1513.0 788.4,1513.0" fill="#b9bcbe" stroke="#3b4045" stroke-width="0.8" transform="translate(-401.6,2006.6) scale(1,-1)"/>
<polygon points="645.6,1354.7 528.0,1453.5 528.0,1500.0 543.8,1513.0 645.6,1513.0" fill="#b9bcbe" stroke="#3b4045" stroke-width="0.8" transform="translate(-401.6,2006.6) scale(1,-1)"/>
<ellipse cx="127.8" cy="512.9" rx="1.3" ry="7.0" fill="#c3c6c8" stroke="#333" stroke-width="0.5" />
<line x1="127.8" y1="507.0" x2="127.8" y2="496.0" stroke="#1f1f1f" stroke-width="1.7" />
<line x1="127.8" y1="500.0" x2="127.8" y2="496.0" stroke="#cfae1c" stroke-width="1.7" />
<ellipse cx="149.0" cy="499.4" rx="1.3" ry="7.0" fill="#c3c6c8" stroke="#333" stroke-width="0.5" />
<line x1="149.0" y1="493.5" x2="149.0" y2="482.5" stroke="#1f1f1f" stroke-width="1.7" />
<line x1="149.0" y1="486.5" x2="149.0" y2="482.5" stroke="#cfae1c" stroke-width="1.7" />
<ellipse cx="179.5" cy="499.4" rx="1.3" ry="7.0" fill="#c3c6c8" stroke="#333" stroke-width="0.5" />
<line x1="179.5" y1="493.5" x2="179.5" y2="482.5" stroke="#1f1f1f" stroke-width="1.7" />
<line x1="179.5" y1="486.5" x2="179.5" y2="482.5" stroke="#cfae1c" stroke-width="1.7" />
<ellipse cx="503.0" cy="512.9" rx="1.3" ry="7.0" fill="#c3c6c8" stroke="#333" stroke-width="0.5" />
<line x1="503.0" y1="507.0" x2="503.0" y2="496.0" stroke="#1f1f1f" stroke-width="1.7" />
<line x1="503.0" y1="500.0" x2="503.0" y2="496.0" stroke="#cfae1c" stroke-width="1.7" />
<ellipse cx="481.8" cy="499.4" rx="1.3" ry="7.0" fill="#c3c6c8" stroke="#333" stroke-width="0.5" />
<line x1="481.8" y1="493.5" x2="481.8" y2="482.5" stroke="#1f1f1f" stroke-width="1.7" />
<line x1="481.8" y1="486.5" x2="481.8" y2="482.5" stroke="#cfae1c" stroke-width="1.7" />
<ellipse cx="451.3" cy="499.4" rx="1.3" ry="7.0" fill="#c3c6c8" stroke="#333" stroke-width="0.5" />
<line x1="451.3" y1="493.5" x2="451.3" y2="482.5" stroke="#1f1f1f" stroke-width="1.7" />
<line x1="451.3" y1="486.5" x2="451.3" y2="482.5" stroke="#cfae1c" stroke-width="1.7" />
<circle cx="388.4" cy="566.0" r="0.6" fill="#4a4f54" stroke="none" stroke-width="0.7" />
<circle cx="388.9" cy="569.7" r="0.6" fill="#4a4f54" stroke="none" stroke-width="0.7" />
<circle cx="391.4" cy="565.0" r="0.6" fill="#4a4f54" stroke="none" stroke-width="0.7" />
<circle cx="391.9" cy="568.7" r="0.6" fill="#4a4f54" stroke="none" stroke-width="0.7" />
<circle cx="392.4" cy="572.4" r="0.6" fill="#4a4f54" stroke="none" stroke-width="0.7" />
<circle cx="394.4" cy="564.0" r="0.6" fill="#4a4f54" stroke="none" stroke-width="0.7" />
<circle cx="394.9" cy="567.7" r="0.6" fill="#4a4f54" stroke="none" stroke-width="0.7" />
<circle cx="395.4" cy="571.4" r="0.6" fill="#4a4f54" stroke="none" stroke-width="0.7" />
<circle cx="395.9" cy="575.1" r="0.6" fill="#4a4f54" stroke="none" stroke-width="0.7" />
<circle cx="397.4" cy="563.0" r="0.6" fill="#4a4f54" stroke="none" stroke-width="0.7" />
<circle cx="397.9" cy="566.7" r="0.6" fill="#4a4f54" stroke="none" stroke-width="0.7" />
<circle cx="398.4" cy="570.4" r="0.6" fill="#4a4f54" stroke="none" stroke-width="0.7" />
<circle cx="398.9" cy="574.1" r="0.6" fill="#4a4f54" stroke="none" stroke-width="0.7" />
<circle cx="399.4" cy="577.8" r="0.6" fill="#4a4f54" stroke="none" stroke-width="0.7" />
<circle cx="400.4" cy="562.0" r="0.6" fill="#4a4f54" stroke="none" stroke-width="0.7" />
<circle cx="400.9" cy="565.7" r="0.6" fill="#4a4f54" stroke="none" stroke-width="0.7" />
<circle cx="401.4" cy="569.4" r="0.6" fill="#4a4f54" stroke="none" stroke-width="0.7" />
<circle cx="401.9" cy="573.1" r="0.6" fill="#4a4f54" stroke="none" stroke-width="0.7" />
<circle cx="402.4" cy="576.8" r="0.6" fill="#4a4f54" stroke="none" stroke-width="0.7" />
<circle cx="402.9" cy="580.5" r="0.6" fill="#4a4f54" stroke="none" stroke-width="0.7" />
<circle cx="403.4" cy="561.0" r="0.6" fill="#4a4f54" stroke="none" stroke-width="0.7" />
<circle cx="403.9" cy="564.7" r="0.6" fill="#4a4f54" stroke="none" stroke-width="0.7" />
<circle cx="404.4" cy="568.4" r="0.6" fill="#4a4f54" stroke="none" stroke-width="0.7" />
<circle cx="404.9" cy="572.1" r="0.6" fill="#4a4f54" stroke="none" stroke-width="0.7" />
<circle cx="405.4" cy="575.8" r="0.6" fill="#4a4f54" stroke="none" stroke-width="0.7" />
<circle cx="405.9" cy="579.5" r="0.6" fill="#4a4f54" stroke="none" stroke-width="0.7" />
<circle cx="242.4" cy="566.0" r="0.6" fill="#4a4f54" stroke="none" stroke-width="0.7" />
<circle cx="241.9" cy="569.7" r="0.6" fill="#4a4f54" stroke="none" stroke-width="0.7" />
<circle cx="239.4" cy="565.0" r="0.6" fill="#4a4f54" stroke="none" stroke-width="0.7" />
<circle cx="238.9" cy="568.7" r="0.6" fill="#4a4f54" stroke="none" stroke-width="0.7" />
<circle cx="238.4" cy="572.4" r="0.6" fill="#4a4f54" stroke="none" stroke-width="0.7" />
<circle cx="236.4" cy="564.0" r="0.6" fill="#4a4f54" stroke="none" stroke-width="0.7" />
<circle cx="235.9" cy="567.7" r="0.6" fill="#4a4f54" stroke="none" stroke-width="0.7" />
<circle cx="235.4" cy="571.4" r="0.6" fill="#4a4f54" stroke="none" stroke-width="0.7" />
<circle cx="234.9" cy="575.1" r="0.6" fill="#4a4f54" stroke="none" stroke-width="0.7" />
<circle cx="233.4" cy="563.0" r="0.6" fill="#4a4f54" stroke="none" stroke-width="0.7" />
<circle cx="232.9" cy="566.7" r="0.6" fill="#4a4f54" stroke="none" stroke-width="0.7" />
<circle cx="232.4" cy="570.4" r="0.6" fill="#4a4f54" stroke="none" stroke-width="0.7" />
<circle cx="231.9" cy="574.1" r="0.6" fill="#4a4f54" stroke="none" stroke-width="0.7" />
<circle cx="231.4" cy="577.8" r="0.6" fill="#4a4f54" stroke="none" stroke-width="0.7" />
<circle cx="230.4" cy="562.0" r="0.6" fill="#4a4f54" stroke="none" stroke-width="0.7" />
<circle cx="229.9" cy="565.7" r="0.6" fill="#4a4f54" stroke="none" stroke-width="0.7" />
<circle cx="229.4" cy="569.4" r="0.6" fill="#4a4f54" stroke="none" stroke-width="0.7" />
<circle cx="228.9" cy="573.1" r="0.6" fill="#4a4f54" stroke="none" stroke-width="0.7" />
<circle cx="228.4" cy="576.8" r="0.6" fill="#4a4f54" stroke="none" stroke-width="0.7" />
<circle cx="227.9" cy="580.5" r="0.6" fill="#4a4f54" stroke="none" stroke-width="0.7" />
<circle cx="227.4" cy="561.0" r="0.6" fill="#4a4f54" stroke="none" stroke-width="0.7" />
<circle cx="226.9" cy="564.7" r="0.6" fill="#4a4f54" stroke="none" stroke-width="0.7" />
<circle cx="226.4" cy="568.4" r="0.6" fill="#4a4f54" stroke="none" stroke-width="0.7" />
<circle cx="225.9" cy="572.1" r="0.6" fill="#4a4f54" stroke="none" stroke-width="0.7" />
<circle cx="225.4" cy="575.8" r="0.6" fill="#4a4f54" stroke="none" stroke-width="0.7" />
<circle cx="224.9" cy="579.5" r="0.6" fill="#4a4f54" stroke="none" stroke-width="0.7" />
<path d="M717.8,572.8 C718.8,574.8 721.5,580.5 723.5,585.0 C725.5,589.5 727.2,593.2 729.8,600.0 C732.4,606.8 736.7,616.5 739.3,625.7 C741.9,634.9 743.9,645.0 745.6,655.0 C747.3,665.0 748.1,673.4 749.6,685.4 C751.1,697.4 752.9,713.6 754.7,726.8 C756.6,739.9 759.3,755.4 760.7,764.3 C762.1,773.2 762.0,773.0 763.0,780.0 C764.0,787.0 765.4,796.6 766.8,806.6 C768.2,816.6 769.8,829.3 771.4,840.0 C773.0,850.7 774.1,860.6 776.2,870.6 C778.3,880.6 781.5,889.9 784.0,900.0 C786.5,910.1 789.1,921.0 791.5,931.0 C793.9,941.0 795.9,950.0 798.3,960.0 C800.7,970.0 803.9,983.0 805.8,991.3 C807.7,999.6 808.7,1005.0 809.6,1010.0 C810.5,1015.0 811.0,1019.6 811.3,1021.5 L1020.2,1195.0 L1020.2,1270.6 L788.4,1270.6 L788.4,1497.7 L763.2,1497.7 L763.2,1440.0 L754.5,1440.0 L754.5,1469.8 L679.5,1469.8 L679.5,1440.0 L670.8,1440.0 L670.8,1497.7 L645.6,1497.7 L645.6,1270.6 L413.8,1270.6 L413.8,1195.0 L622.7,1021.5 C623.0,1019.6 623.5,1015.0 624.4,1010.0 C625.3,1005.0 626.3,999.6 628.2,991.3 C630.1,983.0 633.3,970.0 635.7,960.0 C638.1,950.0 640.1,941.0 642.5,931.0 C644.9,921.0 647.5,910.1 650.0,900.0 C652.5,889.9 655.7,880.6 657.8,870.6 C659.9,860.6 661.0,850.7 662.6,840.0 C664.2,829.3 665.8,816.6 667.2,806.6 C668.6,796.6 670.0,787.0 671.0,780.0 C672.0,773.0 671.9,773.2 673.3,764.3 C674.7,755.4 677.4,739.9 679.3,726.8 C681.1,713.6 682.9,697.4 684.4,685.4 C685.9,673.4 686.7,665.0 688.4,655.0 C690.1,645.0 692.1,634.9 694.7,625.7 C697.3,616.5 701.6,606.8 704.2,600.0 C706.8,593.2 708.5,589.5 710.5,585.0 C712.5,580.5 715.2,574.8 716.2,572.8 Z" fill="#b9bcbe" stroke="#3b4045" stroke-width="0.9" transform="translate(-401.6,2006.6) scale(1,-1)"/>
<path d="M283.4,1321 L347.4,1321 Q343.5,1384 315.4,1433.5 Q287.3,1384 283.4,1321 Z" fill="#8d9092" stroke="#3b4045" stroke-width="0.8" />
<path d="M297,1334 Q298,1360 301,1382 M333.8,1334 Q332.8,1360 329.8,1382" fill="none" stroke="#2a2a2a" stroke-width="0.9" />
<polygon points="312.6,1433.5 318.2,1433.5 317.7,1438.0 317.7,1459.0 316.5,1461.0 316.3,1476.0 315.4,1478.3 314.5,1476.0 314.3,1461.0 313.1,1459.0 313.1,1438.0" fill="#ededed" stroke="#444" stroke-width="0.6" />
<ellipse cx="281.0" cy="1328.8" rx="3.0" ry="1.1" fill="#ddd" stroke="#444" stroke-width="0.5" />
<ellipse cx="350.5" cy="1328.8" rx="3.0" ry="1.1" fill="#ddd" stroke="#444" stroke-width="0.5" />
<polygon points="343.0,1307.6 346.5,1307.6 349.0,1313.0 349.0,1329.0 346.8,1329.0 346.8,1315.0 343.0,1315.0" fill="#eee" stroke="#333" stroke-width="0.6" />
<line x1="76.4" y1="763.8" x2="244.5" y2="788.0" stroke="#3a3f44" stroke-width="0.8" />
<line x1="76.4" y1="766.6" x2="244.5" y2="790.8" stroke="#3d4247" stroke-width="1.6" stroke-dasharray="0.9,1.1"/>
<line x1="76.4" y1="770.5" x2="244.5" y2="794.7" stroke="#3a3f44" stroke-width="0.7" />
<line x1="76.4" y1="736.0" x2="76.4" y2="861.0" stroke="#3a3f44" stroke-width="0.9" />
<line x1="222.9" y1="736.0" x2="222.9" y2="985.0" stroke="#3a3f44" stroke-width="0.8" />
<line x1="244.5" y1="736.0" x2="244.5" y2="1000.0" stroke="#3a3f44" stroke-width="0.8" />
<line x1="12.2" y1="789.3" x2="221.6" y2="942.1" stroke="#3a3f44" stroke-width="0.8" />
<line x1="12.2" y1="791.8" x2="221.6" y2="944.6" stroke="#3d4247" stroke-width="1.6" stroke-dasharray="0.9,1.1"/>
<line x1="12.2" y1="796.5" x2="222.9" y2="950.5" stroke="#3a3f44" stroke-width="0.8" />
<line x1="12.2" y1="805.5" x2="222.9" y2="981.2" stroke="#3a3f44" stroke-width="0.7" />
<rect x="83.0" y="762.5" width="12.0" height="2.6" rx="0" fill="#7d8287" stroke="#333" stroke-width="0.5" />
<rect x="131.0" y="769.5" width="12.0" height="2.6" rx="0" fill="#7d8287" stroke="#333" stroke-width="0.5" />
<rect x="180.0" y="776.5" width="12.0" height="2.6" rx="0" fill="#7d8287" stroke="#333" stroke-width="0.5" />
<line x1="47.0" y1="815.0" x2="50.0" y2="811.0" stroke="#333" stroke-width="1.4" />
<line x1="91.0" y1="847.0" x2="94.0" y2="843.0" stroke="#333" stroke-width="1.4" />
<line x1="137.0" y1="881.0" x2="140.0" y2="877.0" stroke="#333" stroke-width="1.4" />
<line x1="184.0" y1="915.0" x2="187.0" y2="911.0" stroke="#333" stroke-width="1.4" />
<circle cx="110.8" cy="787.5" r="1.8" fill="none" stroke="#3a3f44" stroke-width="0.7" />
<circle cx="110.8" cy="821.1" r="1.8" fill="none" stroke="#3a3f44" stroke-width="0.7" />
<circle cx="101.4" cy="830.8" r="1.8" fill="none" stroke="#3a3f44" stroke-width="0.7" />
<circle cx="120.2" cy="830.8" r="1.8" fill="none" stroke="#3a3f44" stroke-width="0.7" />
<circle cx="110.8" cy="840.2" r="1.8" fill="none" stroke="#3a3f44" stroke-width="0.7" />
<circle cx="110.8" cy="830.8" r="4.0" fill="none" stroke="#3a3f44" stroke-width="0.7" />
<circle cx="110.8" cy="830.8" r="2.0" fill="none" stroke="#3a3f44" stroke-width="0.7" />
<circle cx="193.6" cy="812.2" r="2.6" fill="none" stroke="#3a3f44" stroke-width="0.7" />
<circle cx="193.6" cy="826.7" r="3.1" fill="none" stroke="#3a3f44" stroke-width="0.7" />
<circle cx="193.6" cy="842.8" r="1.8" fill="none" stroke="#3a3f44" stroke-width="0.7" />
<circle cx="193.6" cy="880.2" r="3.7" fill="none" stroke="#3a3f44" stroke-width="0.7" />
<circle cx="193.6" cy="880.2" r="1.8" fill="none" stroke="#3a3f44" stroke-width="0.7" />
<circle cx="181.6" cy="880.2" r="1.6" fill="none" stroke="#3a3f44" stroke-width="0.7" />
<circle cx="205.0" cy="880.2" r="1.6" fill="none" stroke="#3a3f44" stroke-width="0.7" />
<circle cx="205.0" cy="889.4" r="1.6" fill="none" stroke="#3a3f44" stroke-width="0.7" />
<circle cx="49.7" cy="790.6" r="1.7" fill="none" stroke="#3a3f44" stroke-width="0.7" />
<circle cx="49.7" cy="806.6" r="1.7" fill="none" stroke="#3a3f44" stroke-width="0.7" />
<circle cx="193.6" cy="853.7" r="1.7" fill="none" stroke="#3a3f44" stroke-width="0.7" />
<rect x="107.0" y="794.4" width="7.6" height="10.2" rx="3" fill="none" stroke="#3a3f44" stroke-width="0.8" />
<rect x="189.3" y="848.1" width="8.7" height="11.2" rx="3" fill="none" stroke="#3a3f44" stroke-width="0.8" />
<ellipse cx="239.4" cy="845.3" rx="3.2" ry="8.0" fill="none" stroke="#3a3f44" stroke-width="0.8" />
<ellipse cx="239.4" cy="845.3" rx="2.0" ry="6.3" fill="none" stroke="#3a3f44" stroke-width="0.5" />
<ellipse cx="239.4" cy="906.5" rx="3.2" ry="8.0" fill="none" stroke="#3a3f44" stroke-width="0.8" />
<ellipse cx="239.4" cy="906.5" rx="2.0" ry="6.3" fill="none" stroke="#3a3f44" stroke-width="0.5" />
<line x1="230.0" y1="800.0" x2="230.0" y2="985.0" stroke="#555" stroke-width="0.8" stroke-dasharray="0.8,5"/>
<line x1="246.5" y1="790.0" x2="246.5" y2="985.0" stroke="#444" stroke-width="1.6" stroke-dasharray="0.7,1.6"/>
<path d="M60.0,832 Q61.6,826 63.2,832 L63.2,864 L60.0,864.4 Z" fill="#cdd0d2" stroke="#444" stroke-width="0.6" />
<rect x="235.6" y="939.6" width="10.2" height="16.5" rx="1.5" fill="none" stroke="#333" stroke-width="0.8" />
<rect x="235.6" y="960.0" width="10.2" height="16.0" rx="1.5" fill="none" stroke="#333" stroke-width="0.8" />
<circle cx="240.7" cy="948.0" r="1.4" fill="none" stroke="#333" stroke-width="0.6" />
<circle cx="240.7" cy="968.0" r="1.4" fill="none" stroke="#333" stroke-width="0.6" />
<polygon points="4.4,719.9 12.7,719.9 12.7,839.9 10.3,847.9 10.3,894.4 4.4,894.4" fill="#9fa7b8" stroke="#4c5566" stroke-width="0.7" />
<line x1="7.4" y1="725.9" x2="7.4" y2="888.4" stroke="#68718a" stroke-width="0.7" />
<line x1="8.7" y1="839.9" x2="8.7" y2="869.4" stroke="#3b4252" stroke-width="1.8" stroke-dasharray="0.8,1.6"/>
<rect x="1.8" y="784.1" width="2.6" height="2.4" rx="0" fill="#8a92a6" stroke="#333" stroke-width="0.5" />
<rect x="1.8" y="834.7" width="2.6" height="2.4" rx="0" fill="#8a92a6" stroke="#333" stroke-width="0.5" />
<ellipse cx="28.0" cy="741.5" rx="1.3" ry="3.6" fill="#8a9199" stroke="#333" stroke-width="0.5" />
<line x1="28.0" y1="739.0" x2="28.0" y2="721.0" stroke="#1f1f1f" stroke-width="1.7" />
<line x1="28.0" y1="725.0" x2="28.0" y2="721.0" stroke="#cfae1c" stroke-width="1.7" />
<ellipse cx="44.7" cy="741.5" rx="1.3" ry="3.6" fill="#8a9199" stroke="#333" stroke-width="0.5" />
<line x1="44.7" y1="739.0" x2="44.7" y2="721.0" stroke="#1f1f1f" stroke-width="1.7" />
<line x1="44.7" y1="725.0" x2="44.7" y2="721.0" stroke="#cfae1c" stroke-width="1.7" />
<ellipse cx="71.8" cy="741.5" rx="1.3" ry="3.6" fill="#8a9199" stroke="#333" stroke-width="0.5" />
<line x1="71.8" y1="739.0" x2="71.8" y2="721.0" stroke="#1f1f1f" stroke-width="1.7" />
<line x1="71.8" y1="725.0" x2="71.8" y2="721.0" stroke="#cfae1c" stroke-width="1.7" />
<line x1="554.4" y1="763.8" x2="386.3" y2="788.0" stroke="#3a3f44" stroke-width="0.8" />
<line x1="554.4" y1="766.6" x2="386.3" y2="790.8" stroke="#3d4247" stroke-width="1.6" stroke-dasharray="0.9,1.1"/>
<line x1="554.4" y1="770.5" x2="386.3" y2="794.7" stroke="#3a3f44" stroke-width="0.7" />
<line x1="554.4" y1="736.0" x2="554.4" y2="861.0" stroke="#3a3f44" stroke-width="0.9" />
<line x1="407.9" y1="736.0" x2="407.9" y2="985.0" stroke="#3a3f44" stroke-width="0.8" />
<line x1="386.3" y1="736.0" x2="386.3" y2="1000.0" stroke="#3a3f44" stroke-width="0.8" />
<line x1="618.6" y1="789.3" x2="409.2" y2="942.1" stroke="#3a3f44" stroke-width="0.8" />
<line x1="618.6" y1="791.8" x2="409.2" y2="944.6" stroke="#3d4247" stroke-width="1.6" stroke-dasharray="0.9,1.1"/>
<line x1="618.6" y1="796.5" x2="407.9" y2="950.5" stroke="#3a3f44" stroke-width="0.8" />
<line x1="618.6" y1="805.5" x2="407.9" y2="981.2" stroke="#3a3f44" stroke-width="0.7" />
<rect x="535.8" y="762.5" width="12.0" height="2.6" rx="0" fill="#7d8287" stroke="#333" stroke-width="0.5" />
<rect x="487.8" y="769.5" width="12.0" height="2.6" rx="0" fill="#7d8287" stroke="#333" stroke-width="0.5" />
<rect x="438.8" y="776.5" width="12.0" height="2.6" rx="0" fill="#7d8287" stroke="#333" stroke-width="0.5" />
<line x1="583.8" y1="815.0" x2="580.8" y2="811.0" stroke="#333" stroke-width="1.4" />
<line x1="539.8" y1="847.0" x2="536.8" y2="843.0" stroke="#333" stroke-width="1.4" />
<line x1="493.8" y1="881.0" x2="490.8" y2="877.0" stroke="#333" stroke-width="1.4" />
<line x1="446.8" y1="915.0" x2="443.8" y2="911.0" stroke="#333" stroke-width="1.4" />
<circle cx="520.0" cy="787.5" r="1.8" fill="none" stroke="#3a3f44" stroke-width="0.7" />
<circle cx="520.0" cy="821.1" r="1.8" fill="none" stroke="#3a3f44" stroke-width="0.7" />
<circle cx="529.4" cy="830.8" r="1.8" fill="none" stroke="#3a3f44" stroke-width="0.7" />
<circle cx="510.6" cy="830.8" r="1.8" fill="none" stroke="#3a3f44" stroke-width="0.7" />
<circle cx="520.0" cy="840.2" r="1.8" fill="none" stroke="#3a3f44" stroke-width="0.7" />
<circle cx="520.0" cy="830.8" r="4.0" fill="none" stroke="#3a3f44" stroke-width="0.7" />
<circle cx="520.0" cy="830.8" r="2.0" fill="none" stroke="#3a3f44" stroke-width="0.7" />
<circle cx="437.2" cy="812.2" r="2.6" fill="none" stroke="#3a3f44" stroke-width="0.7" />
<circle cx="437.2" cy="826.7" r="3.1" fill="none" stroke="#3a3f44" stroke-width="0.7" />
<circle cx="437.2" cy="842.8" r="1.8" fill="none" stroke="#3a3f44" stroke-width="0.7" />
<circle cx="437.2" cy="880.2" r="3.7" fill="none" stroke="#3a3f44" stroke-width="0.7" />
<circle cx="437.2" cy="880.2" r="1.8" fill="none" stroke="#3a3f44" stroke-width="0.7" />
<circle cx="449.2" cy="880.2" r="1.6" fill="none" stroke="#3a3f44" stroke-width="0.7" />
<circle cx="425.8" cy="880.2" r="1.6" fill="none" stroke="#3a3f44" stroke-width="0.7" />
<circle cx="425.8" cy="889.4" r="1.6" fill="none" stroke="#3a3f44" stroke-width="0.7" />
<circle cx="581.1" cy="790.6" r="1.7" fill="none" stroke="#3a3f44" stroke-width="0.7" />
<circle cx="581.1" cy="806.6" r="1.7" fill="none" stroke="#3a3f44" stroke-width="0.7" />
<circle cx="437.2" cy="853.7" r="1.7" fill="none" stroke="#3a3f44" stroke-width="0.7" />
<rect x="516.2" y="794.4" width="7.6" height="10.2" rx="3" fill="none" stroke="#3a3f44" stroke-width="0.8" />
<rect x="432.9" y="848.1" width="8.7" height="11.2" rx="3" fill="none" stroke="#3a3f44" stroke-width="0.8" />
<ellipse cx="391.4" cy="845.3" rx="3.2" ry="8.0" fill="none" stroke="#3a3f44" stroke-width="0.8" />
<ellipse cx="391.4" cy="845.3" rx="2.0" ry="6.3" fill="none" stroke="#3a3f44" stroke-width="0.5" />
<ellipse cx="391.4" cy="906.5" rx="3.2" ry="8.0" fill="none" stroke="#3a3f44" stroke-width="0.8" />
<ellipse cx="391.4" cy="906.5" rx="2.0" ry="6.3" fill="none" stroke="#3a3f44" stroke-width="0.5" />
<line x1="400.8" y1="800.0" x2="400.8" y2="985.0" stroke="#555" stroke-width="0.8" stroke-dasharray="0.8,5"/>
<line x1="384.3" y1="790.0" x2="384.3" y2="985.0" stroke="#444" stroke-width="1.6" stroke-dasharray="0.7,1.6"/>
<path d="M570.8,832 Q569.2,826 567.6,832 L567.6,864 L570.8,864.4 Z" fill="#cdd0d2" stroke="#444" stroke-width="0.6" />
<rect x="385.0" y="939.6" width="10.2" height="16.5" rx="1.5" fill="none" stroke="#333" stroke-width="0.8" />
<rect x="385.0" y="960.0" width="10.2" height="16.0" rx="1.5" fill="none" stroke="#333" stroke-width="0.8" />
<circle cx="390.1" cy="948.0" r="1.4" fill="none" stroke="#333" stroke-width="0.6" />
<circle cx="390.1" cy="968.0" r="1.4" fill="none" stroke="#333" stroke-width="0.6" />
<polygon points="626.4,719.9 618.1,719.9 618.1,839.9 620.5,847.9 620.5,894.4 626.4,894.4" fill="#9fa7b8" stroke="#4c5566" stroke-width="0.7" />
<line x1="623.5" y1="725.9" x2="623.5" y2="888.4" stroke="#68718a" stroke-width="0.7" />
<line x1="622.2" y1="839.9" x2="622.2" y2="869.4" stroke="#3b4252" stroke-width="1.8" stroke-dasharray="0.8,1.6"/>
<rect x="626.4" y="784.1" width="2.6" height="2.4" rx="0" fill="#8a92a6" stroke="#333" stroke-width="0.5" />
<rect x="626.4" y="834.7" width="2.6" height="2.4" rx="0" fill="#8a92a6" stroke="#333" stroke-width="0.5" />
<ellipse cx="602.8" cy="741.5" rx="1.3" ry="3.6" fill="#8a9199" stroke="#333" stroke-width="0.5" />
<line x1="602.8" y1="739.0" x2="602.8" y2="721.0" stroke="#1f1f1f" stroke-width="1.7" />
<line x1="602.8" y1="725.0" x2="602.8" y2="721.0" stroke="#cfae1c" stroke-width="1.7" />
<ellipse cx="586.1" cy="741.5" rx="1.3" ry="3.6" fill="#8a9199" stroke="#333" stroke-width="0.5" />
<line x1="586.1" y1="739.0" x2="586.1" y2="721.0" stroke="#1f1f1f" stroke-width="1.7" />
<line x1="586.1" y1="725.0" x2="586.1" y2="721.0" stroke="#cfae1c" stroke-width="1.7" />
<ellipse cx="559.0" cy="741.5" rx="1.3" ry="3.6" fill="#8a9199" stroke="#333" stroke-width="0.5" />
<line x1="559.0" y1="739.0" x2="559.0" y2="721.0" stroke="#1f1f1f" stroke-width="1.7" />
<line x1="559.0" y1="725.0" x2="559.0" y2="721.0" stroke="#cfae1c" stroke-width="1.7" />
<circle cx="81.0" cy="805.8" r="19.7" fill="#f9d116" stroke="none" stroke-width="0.7" />
<circle cx="81.0" cy="805.8" r="9.5" fill="#0b5cab" stroke="none" stroke-width="0.7" />
<circle cx="550.3" cy="805.5" r="19.7" fill="#f9d116" stroke="none" stroke-width="0.7" />
<circle cx="550.3" cy="805.5" r="9.5" fill="#0b5cab" stroke="none" stroke-width="0.7" />
<line x1="244.5" y1="507.0" x2="244.5" y2="1000.0" stroke="#3a3f44" stroke-width="0.8" />
<line x1="386.3" y1="507.0" x2="386.3" y2="1000.0" stroke="#3a3f44" stroke-width="0.8" />
<path d="M245.0,507 L269.0,507 L269.0,560 Q268.0,600 262.0,640" fill="none" stroke="#3a3f44" stroke-width="0.8" />
<ellipse cx="254.5" cy="585.0" rx="6.8" ry="29.0" fill="none" stroke="#3a3f44" stroke-width="0.8" />
<ellipse cx="254.5" cy="585.0" rx="4.6" ry="26.0" fill="none" stroke="#3a3f44" stroke-width="0.6" />
<path d="M248.5,566 Q254.5,552 260.5,566" fill="none" stroke="#3a3f44" stroke-width="0.8" />
<line x1="251.0" y1="514.0" x2="260.0" y2="514.0" stroke="#666" stroke-width="0.5" />
<line x1="251.0" y1="516.0" x2="260.0" y2="516.0" stroke="#666" stroke-width="0.5" />
<line x1="251.0" y1="518.0" x2="260.0" y2="518.0" stroke="#666" stroke-width="0.5" />
<line x1="246.0" y1="617.0" x2="262.0" y2="617.0" stroke="#555" stroke-width="1.2" stroke-dasharray="0.8,1.6"/>
<line x1="246.0" y1="621.0" x2="262.0" y2="621.0" stroke="#555" stroke-width="1.2" stroke-dasharray="0.8,1.6"/>
<rect x="248.0" y="641.8" width="11.4" height="13.8" rx="1.5" fill="#45494d" stroke="#222" stroke-width="0.8" />
<line x1="249.0" y1="645.2" x2="258.4" y2="645.2" stroke="#7a7e82" stroke-width="0.4" />
<line x1="249.0" y1="648.7" x2="258.4" y2="648.7" stroke="#7a7e82" stroke-width="0.4" />
<line x1="249.0" y1="652.1" x2="258.4" y2="652.1" stroke="#7a7e82" stroke-width="0.4" />
<rect x="260.0" y="651.3" width="10.6" height="12.0" rx="1.5" fill="none" stroke="#333" stroke-width="0.8" />
<circle cx="265.3" cy="657.5" r="1.6" fill="none" stroke="#333" stroke-width="0.6" />
<path d="M385.8,507 L361.8,507 L361.8,560 Q362.8,600 368.8,640" fill="none" stroke="#3a3f44" stroke-width="0.8" />
<ellipse cx="376.3" cy="585.0" rx="6.8" ry="29.0" fill="none" stroke="#3a3f44" stroke-width="0.8" />
<ellipse cx="376.3" cy="585.0" rx="4.6" ry="26.0" fill="none" stroke="#3a3f44" stroke-width="0.6" />
<path d="M382.3,566 Q376.3,552 370.3,566" fill="none" stroke="#3a3f44" stroke-width="0.8" />
<line x1="379.8" y1="514.0" x2="370.8" y2="514.0" stroke="#666" stroke-width="0.5" />
<line x1="379.8" y1="516.0" x2="370.8" y2="516.0" stroke="#666" stroke-width="0.5" />
<line x1="379.8" y1="518.0" x2="370.8" y2="518.0" stroke="#666" stroke-width="0.5" />
<line x1="384.8" y1="617.0" x2="368.8" y2="617.0" stroke="#555" stroke-width="1.2" stroke-dasharray="0.8,1.6"/>
<line x1="384.8" y1="621.0" x2="368.8" y2="621.0" stroke="#555" stroke-width="1.2" stroke-dasharray="0.8,1.6"/>
<rect x="371.4" y="641.8" width="11.4" height="13.8" rx="1.5" fill="#45494d" stroke="#222" stroke-width="0.8" />
<line x1="372.4" y1="645.2" x2="381.8" y2="645.2" stroke="#7a7e82" stroke-width="0.4" />
<line x1="372.4" y1="648.7" x2="381.8" y2="648.7" stroke="#7a7e82" stroke-width="0.4" />
<line x1="372.4" y1="652.1" x2="381.8" y2="652.1" stroke="#7a7e82" stroke-width="0.4" />
<rect x="360.2" y="651.3" width="10.6" height="12.0" rx="1.5" fill="none" stroke="#333" stroke-width="0.8" />
<circle cx="365.5" cy="657.5" r="1.6" fill="none" stroke="#333" stroke-width="0.6" />
<rect x="247.1" y="700.0" width="11.3" height="14.3" rx="1.5" fill="#45494d" stroke="#222" stroke-width="0.8" />
<line x1="248.1" y1="703.6" x2="257.4" y2="703.6" stroke="#7a7e82" stroke-width="0.4" />
<line x1="248.1" y1="707.1" x2="257.4" y2="707.1" stroke="#7a7e82" stroke-width="0.4" />
<line x1="248.1" y1="710.7" x2="257.4" y2="710.7" stroke="#7a7e82" stroke-width="0.4" />
<rect x="247.1" y="717.0" width="11.3" height="13.6" rx="1.5" fill="#45494d" stroke="#222" stroke-width="0.8" />
<line x1="248.1" y1="720.4" x2="257.4" y2="720.4" stroke="#7a7e82" stroke-width="0.4" />
<line x1="248.1" y1="723.8" x2="257.4" y2="723.8" stroke="#7a7e82" stroke-width="0.4" />
<line x1="248.1" y1="727.2" x2="257.4" y2="727.2" stroke="#7a7e82" stroke-width="0.4" />
<path d="M279.6,536.6 L351.5,536.6 L355,556 Q357.6,575 358,600 L358,664.9 L273.2,664.9 L273.2,600 Q273.6,575 276,556 Z" fill="#bcbfc1" stroke="#3a3f44" stroke-width="0.8" />
<line x1="279.0" y1="542.6" x2="352.0" y2="542.6" stroke="#3a3f44" stroke-width="0.8" />
<line x1="278.0" y1="547.2" x2="353.0" y2="547.2" stroke="#3a3f44" stroke-width="0.7" />
<path d="M277,560 Q278,551 290,551 L341,551 Q353,551 354,560" fill="none" stroke="#3a3f44" stroke-width="0.7" />
<line x1="273.2" y1="610.6" x2="358.0" y2="610.6" stroke="#4d5257" stroke-width="1.4" stroke-dasharray="1,1"/>
<line x1="273.2" y1="637.7" x2="358.0" y2="637.7" stroke="#4d5257" stroke-width="1.4" stroke-dasharray="1,1"/>
<line x1="273.2" y1="664.9" x2="358.0" y2="664.9" stroke="#4d5257" stroke-width="1.4" stroke-dasharray="1,1"/>
<line x1="273.2" y1="664.9" x2="358.0" y2="664.9" stroke="#3a3f44" stroke-width="0.8" />
<polygon points="269.2,560.0 275.2,560.0 273.6,575.0 273.3,588.0 269.2,588.0" fill="#fff" stroke="none" stroke-width="0.7" />
<polyline points="275.6,556.0 273.6,575.0 273.3,588.0 269.2,588.0 269.2,556.0" fill="none" stroke="#3a3f44" stroke-width="0.8" />
<polygon points="361.6,560.0 355.6,560.0 357.2,575.0 357.5,588.0 361.6,588.0" fill="#fff" stroke="none" stroke-width="0.7" />
<polyline points="355.2,556.0 357.2,575.0 357.5,588.0 361.6,588.0 361.6,556.0" fill="none" stroke="#3a3f44" stroke-width="0.8" />
<path d="M299,609 L332,609 Q329,630 323,640 L319,640 L318.6,668 L312.4,668 L312,640 L308,640 Q301.5,630 299,609 Z" fill="#c6c9cb" stroke="#3a3f44" stroke-width="0.8" />
<path d="M312,640 L311.5,612 L319.5,612 L319,640" fill="none" stroke="#3a3f44" stroke-width="0.7" />
<line x1="313.0" y1="668.0" x2="313.0" y2="690.0" stroke="#3a3f44" stroke-width="0.7" />
<line x1="318.0" y1="668.0" x2="318.0" y2="690.0" stroke="#3a3f44" stroke-width="0.7" />
<line x1="272.0" y1="664.9" x2="272.0" y2="1000.0" stroke="#3a3f44" stroke-width="0.9" />
<line x1="358.7" y1="664.9" x2="358.7" y2="1000.0" stroke="#3a3f44" stroke-width="0.9" />
<path d="M277,668 L277,760 M354,668 L354,760" fill="none" stroke="#555" stroke-width="0.7" />
<path d="M277,668 L290,668 L290,700 M341,700 L341,668 L354,668" fill="none" stroke="#3a3f44" stroke-width="0.7" />
<path d="M277,668 L290,727 L290,760 L277,740 Z M354,668 L341,727 L341,760 L354,740 Z" fill="none" stroke="#3a3f44" stroke-width="0.7" />
<path d="M277,740 L290,727 M354,740 L341,727" fill="none" stroke="#3a3f44" stroke-width="0.7" />
<rect x="304.5" y="668.0" width="20.5" height="43.0" rx="0" fill="none" stroke="#555" stroke-width="0.8" stroke-dasharray="1,1.2"/>
<line x1="272.0" y1="696.0" x2="358.7" y2="696.0" stroke="#4a5a78" stroke-width="1.3" />
<rect x="291.5" y="686.0" width="10.0" height="11.0" rx="1.5" fill="none" stroke="#333" stroke-width="0.9" />
<rect x="327.0" y="668.0" width="9.0" height="18.0" rx="2" fill="none" stroke="#444" stroke-width="0.7" />
<path d="M311.8,640 L311.8,760 M319,640 L319,760" fill="none" stroke="#3a3f44" stroke-width="0.7" />
<circle cx="315.4" cy="714.0" r="2.0" fill="none" stroke="#333" stroke-width="0.7" />
<rect x="313.6" y="704.0" width="3.6" height="10.0" rx="1.5" fill="none" stroke="#333" stroke-width="0.6" />
<rect x="322.5" y="722.0" width="16.0" height="13.0" rx="2" fill="none" stroke="#444" stroke-width="0.9" stroke-dasharray="1.2,1"/>
<rect x="324.5" y="741.0" width="14.5" height="20.0" rx="2" fill="none" stroke="#333" stroke-width="0.9" />
<line x1="324.5" y1="747.0" x2="339.0" y2="747.0" stroke="#444" stroke-width="0.5" />
<text x="302.5" y="760" font-size="6" fill="#444" text-anchor="middle">×</text>
<line x1="272.0" y1="764.5" x2="358.7" y2="764.5" stroke="#4d5257" stroke-width="1.5" stroke-dasharray="1,1"/>
<line x1="272.0" y1="840.4" x2="358.7" y2="840.4" stroke="#4d5257" stroke-width="1.5" stroke-dasharray="1,1"/>
<path d="M312.8,764.5 L312.8,828 Q312,838 307.5,842 L307.5,1000 M317.4,764.5 L317.4,828 Q318.5,838 323.4,842 L323.4,1000" fill="none" stroke="#3a3f44" stroke-width="0.8" />
<rect x="289.4" y="781.5" width="14.3" height="16.3" rx="0" fill="#4a4e52" stroke="#222" stroke-width="0.8" />
<rect x="327.5" y="797.8" width="14.0" height="16.1" rx="0" fill="#4a4e52" stroke="#222" stroke-width="0.8" />
<rect x="275.5" y="782.5" width="10.5" height="14.5" rx="1.5" fill="none" stroke="#333" stroke-width="0.9" />
<rect x="275.5" y="820.0" width="9.5" height="15.5" rx="1.5" fill="none" stroke="#333" stroke-width="0.9" />
<rect x="322.5" y="778.0" width="20.0" height="12.5" rx="2" fill="none" stroke="#333" stroke-width="0.9" />
<rect x="331.0" y="828.5" width="17.0" height="12.0" rx="2" fill="none" stroke="#333" stroke-width="0.9" />
<rect x="350.5" y="781.0" width="3.0" height="7.5" rx="1.5" fill="none" stroke="#222" stroke-width="0.8" />
<rect x="348.0" y="804.0" width="4.2" height="8.0" rx="1.5" fill="none" stroke="#222" stroke-width="0.9" />
<rect x="368.0" y="767.5" width="13.5" height="12.5" rx="1.5" fill="none" stroke="#444" stroke-width="0.8" />
<line x1="274.0" y1="813.5" x2="285.0" y2="813.5" stroke="#4a5a78" stroke-width="1.4" />
<path d="M249,789 L260.5,789 L260.5,797 Q255,803 249,797 Z M370,789 L381.5,789 L381.5,797 Q376,803 370,797 Z" fill="none" stroke="#444" stroke-width="0.8" />
<path d="M272,805 L266,842 L270,846 M358.7,805 L364.5,842 L360.5,846" fill="none" stroke="#3a3f44" stroke-width="0.8" />
<line x1="263.4" y1="812.0" x2="249.4" y2="812.0" stroke="#555" stroke-width="1.6" stroke-dasharray="0.8,2.2"/>
<line x1="367.4" y1="812.0" x2="381.4" y2="812.0" stroke="#555" stroke-width="1.6" stroke-dasharray="0.8,2.2"/>
<line x1="263.4" y1="848.0" x2="249.4" y2="848.0" stroke="#555" stroke-width="1.6" stroke-dasharray="0.8,2.2"/>
<line x1="367.4" y1="848.0" x2="381.4" y2="848.0" stroke="#555" stroke-width="1.6" stroke-dasharray="0.8,2.2"/>
<line x1="263.4" y1="884.0" x2="249.4" y2="884.0" stroke="#555" stroke-width="1.6" stroke-dasharray="0.8,2.2"/>
<line x1="367.4" y1="884.0" x2="381.4" y2="884.0" stroke="#555" stroke-width="1.6" stroke-dasharray="0.8,2.2"/>
<circle cx="315.4" cy="868.5" r="2.6" fill="#777" stroke="#333" stroke-width="0.8" />
<circle cx="315.4" cy="935.0" r="2.8" fill="#999" stroke="#333" stroke-width="0.7" />
<line x1="307.5" y1="886.0" x2="323.4" y2="886.0" stroke="#3a3f44" stroke-width="0.6" />
<path d="M311.9,920 L296.3,951 M318.9,920 L334.5,951" fill="none" stroke="#3a3f44" stroke-width="0.8" />
<line x1="266.7" y1="954.2" x2="364.1" y2="954.2" stroke="#3a3f44" stroke-width="0.8" />
<line x1="265.0" y1="982.3" x2="366.0" y2="982.3" stroke="#3a3f44" stroke-width="0.8" />
<line x1="230.0" y1="1015.0" x2="401.0" y2="1015.0" stroke="#3a3f44" stroke-width="0.8" />
<path d="M267.7,940 L267.7,1108 M363.1,940 L363.1,1108" fill="none" stroke="#3a3f44" stroke-width="0.9" />
<line x1="296.3" y1="951.0" x2="296.3" y2="1015.0" stroke="#3a3f44" stroke-width="0.7" />
<line x1="334.5" y1="951.0" x2="334.5" y2="1015.0" stroke="#3a3f44" stroke-width="0.7" />
<line x1="278.0" y1="954.2" x2="278.0" y2="982.3" stroke="#3a3f44" stroke-width="0.6" />
<path d="M281,956 L295,956 L293,976 L284,976 Z" fill="none" stroke="#444" stroke-width="0.8" />
<rect x="247.5" y="980.0" width="16.0" height="16.0" rx="1" fill="none" stroke="#555" stroke-width="0.8" />
<rect x="343.5" y="990.0" width="11.0" height="12.0" rx="1" fill="none" stroke="#333" stroke-width="1.0" />
<rect x="366.0" y="984.0" width="18.0" height="30.0" rx="0" fill="none" stroke="#555" stroke-width="0.7" />
<path d="M370,1008 L372,998 L378,998 L380,1008 Z" fill="none" stroke="#333" stroke-width="0.8" />
<circle cx="322.0" cy="1005.0" r="3.2" fill="none" stroke="#444" stroke-width="0.7" />
<circle cx="381.0" cy="978.0" r="2.2" fill="none" stroke="#222" stroke-width="1.0" />
<rect x="366.0" y="953.0" width="6.0" height="10.0" rx="0" fill="none" stroke="#333" stroke-width="0.7" />
<rect x="367.0" y="962.0" width="13.0" height="9.5" rx="1" fill="none" stroke="#333" stroke-width="0.8" />
<rect x="298.8" y="1016.5" width="33.3" height="99.6" rx="0" fill="#bdc0c2" stroke="#3a3f44" stroke-width="0.9" />
<path d="M298.8,1016.5 L303,1020 L328,1020 L332.1,1016.5 M330,1017 L335,1017 L335,1030 L332,1026" fill="none" stroke="#3a3f44" stroke-width="0.7" />
<rect x="269.9" y="1015.0" width="28.0" height="42.0" rx="0" fill="none" stroke="#555" stroke-width="0.8" stroke-dasharray="1,1.3"/>
<rect x="333.7" y="1015.0" width="29.4" height="42.0" rx="0" fill="none" stroke="#555" stroke-width="0.8" stroke-dasharray="1,1.3"/>
<line x1="269.9" y1="1047.0" x2="297.9" y2="1047.0" stroke="#666" stroke-width="0.8" stroke-dasharray="1,2"/>
<line x1="333.7" y1="1047.0" x2="363.0" y2="1047.0" stroke="#666" stroke-width="0.8" stroke-dasharray="1,2"/>
<rect x="253.5" y="1006.0" width="12.0" height="8.0" rx="2" fill="none" stroke="#555" stroke-width="0.7" stroke-dasharray="1,1"/>
<rect x="253.5" y="1016.0" width="12.5" height="20.5" rx="2" fill="none" stroke="#555" stroke-width="0.8" stroke-dasharray="1,1"/>
<line x1="232.0" y1="1046.5" x2="268.0" y2="1046.5" stroke="#3a3f44" stroke-width="0.6" />
<line x1="363.0" y1="1046.5" x2="398.0" y2="1046.5" stroke="#3a3f44" stroke-width="0.6" />
<line x1="365.0" y1="1018.0" x2="365.0" y2="1050.0" stroke="#444" stroke-width="1.0" />
<circle cx="276.5" cy="1062.0" r="1.9" fill="none" stroke="#333" stroke-width="0.7" />
<circle cx="284.0" cy="1062.0" r="1.9" fill="none" stroke="#333" stroke-width="0.7" />
<circle cx="345.5" cy="1062.0" r="1.9" fill="none" stroke="#333" stroke-width="0.7" />
<circle cx="353.0" cy="1062.0" r="1.9" fill="none" stroke="#333" stroke-width="0.7" />
<rect x="275.5" y="1068.5" width="10.5" height="10.5" rx="0" fill="none" stroke="#333" stroke-width="0.8" />
<rect x="345.0" y="1068.5" width="10.5" height="10.5" rx="0" fill="none" stroke="#333" stroke-width="0.8" />
<circle cx="284.5" cy="1088.0" r="1.9" fill="#777" stroke="#333" stroke-width="0.6" />
<circle cx="276.5" cy="1091.0" r="1.5" fill="#777" stroke="#333" stroke-width="0.6" />
<circle cx="346.5" cy="1088.0" r="1.9" fill="#777" stroke="#333" stroke-width="0.6" />
<circle cx="354.5" cy="1091.0" r="1.5" fill="#777" stroke="#333" stroke-width="0.6" />
<rect x="284.5" y="1096.5" width="7.0" height="4.2" rx="0" fill="none" stroke="#333" stroke-width="0.7" />
<rect x="340.0" y="1096.5" width="6.0" height="4.0" rx="0" fill="none" stroke="#333" stroke-width="0.7" />
<rect x="371.5" y="1085.0" width="2.6" height="5.5" rx="0" fill="none" stroke="#555" stroke-width="0.6" />
<line x1="242.0" y1="1060.0" x2="268.0" y2="1060.0" stroke="#3a3f44" stroke-width="0.5" />
<line x1="363.0" y1="1060.0" x2="389.0" y2="1060.0" stroke="#3a3f44" stroke-width="0.5" />
<rect x="269.9" y="1116.1" width="88.1" height="35.8" rx="0" fill="#bcbfc1" stroke="#3a3f44" stroke-width="0.9" />
<circle cx="274.5" cy="1110.5" r="3.7" fill="none" stroke="#333" stroke-width="0.8" />
<circle cx="288.5" cy="1110.5" r="3.7" fill="none" stroke="#333" stroke-width="0.8" />
<circle cx="342.4" cy="1110.5" r="3.7" fill="none" stroke="#333" stroke-width="0.8" />
<circle cx="356.1" cy="1110.5" r="3.7" fill="none" stroke="#333" stroke-width="0.8" />
<circle cx="296.3" cy="1123.0" r="3.8" fill="none" stroke="#333" stroke-width="0.8" />
<circle cx="334.3" cy="1123.0" r="3.8" fill="none" stroke="#333" stroke-width="0.8" />
<rect x="305.0" y="1129.2" width="20.9" height="7.2" rx="1.5" fill="none" stroke="#333" stroke-width="0.8" />
<line x1="307.5" y1="1131.0" x2="307.5" y2="1135.0" stroke="#555" stroke-width="0.6" />
<line x1="310.7" y1="1131.0" x2="310.7" y2="1135.0" stroke="#555" stroke-width="0.6" />
<line x1="313.9" y1="1131.0" x2="313.9" y2="1135.0" stroke="#555" stroke-width="0.6" />
<line x1="317.1" y1="1131.0" x2="317.1" y2="1135.0" stroke="#555" stroke-width="0.6" />
<line x1="320.3" y1="1131.0" x2="320.3" y2="1135.0" stroke="#555" stroke-width="0.6" />
<line x1="323.5" y1="1131.0" x2="323.5" y2="1135.0" stroke="#555" stroke-width="0.6" />
<polygon points="268.0,1124.0 270.0,1130.0 268.0,1130.0" fill="#c22" stroke="none" stroke-width="0.7" />
<polygon points="363.0,1124.0 361.0,1130.0 363.0,1130.0" fill="#2a8a5a" stroke="none" stroke-width="0.7" />
<path d="M267.7,1108 L270,1151.9 M363.1,1108 L358,1151.9" fill="none" stroke="#3a3f44" stroke-width="0.8" />
<polygon points="272.0,1151.9 358.5,1151.9 354.5,1157.0 349.3,1169.0 281.0,1169.0 276.0,1157.0" fill="#9ca2b8" stroke="#4a5064" stroke-width="0.8" />
<polygon points="272.0,1151.9 358.5,1151.9 355.5,1156.0 275.0,1156.0" fill="#b3b8cb" stroke="#4a5064" stroke-width="0.6" />
<path d="M276,1157 Q274.5,1200 276,1241 M354.5,1157 Q356,1200 354.5,1241" fill="none" stroke="#3a3f44" stroke-width="0.7" />
<rect x="302.6" y="1172.0" width="27.4" height="43.8" rx="0" fill="none" stroke="#3a3f44" stroke-width="0.9" />
<circle cx="309.0" cy="1178.0" r="0.5" fill="#555" stroke="none" stroke-width="0.7" />
<circle cx="309.0" cy="1183.3" r="0.5" fill="#555" stroke="none" stroke-width="0.7" />
<circle cx="309.0" cy="1188.6" r="0.5" fill="#555" stroke="none" stroke-width="0.7" />
<circle cx="309.0" cy="1193.9" r="0.5" fill="#555" stroke="none" stroke-width="0.7" />
<circle cx="309.0" cy="1199.2" r="0.5" fill="#555" stroke="none" stroke-width="0.7" />
<circle cx="309.0" cy="1204.5" r="0.5" fill="#555" stroke="none" stroke-width="0.7" />
<circle cx="309.0" cy="1209.8" r="0.5" fill="#555" stroke="none" stroke-width="0.7" />
<circle cx="316.0" cy="1178.0" r="0.5" fill="#555" stroke="none" stroke-width="0.7" />
<circle cx="316.0" cy="1183.3" r="0.5" fill="#555" stroke="none" stroke-width="0.7" />
<circle cx="316.0" cy="1188.6" r="0.5" fill="#555" stroke="none" stroke-width="0.7" />
<circle cx="316.0" cy="1193.9" r="0.5" fill="#555" stroke="none" stroke-width="0.7" />
<circle cx="316.0" cy="1199.2" r="0.5" fill="#555" stroke="none" stroke-width="0.7" />
<circle cx="316.0" cy="1204.5" r="0.5" fill="#555" stroke="none" stroke-width="0.7" />
<circle cx="316.0" cy="1209.8" r="0.5" fill="#555" stroke="none" stroke-width="0.7" />
<circle cx="323.0" cy="1178.0" r="0.5" fill="#555" stroke="none" stroke-width="0.7" />
<circle cx="323.0" cy="1183.3" r="0.5" fill="#555" stroke="none" stroke-width="0.7" />
<circle cx="323.0" cy="1188.6" r="0.5" fill="#555" stroke="none" stroke-width="0.7" />
<circle cx="323.0" cy="1193.9" r="0.5" fill="#555" stroke="none" stroke-width="0.7" />
<circle cx="323.0" cy="1199.2" r="0.5" fill="#555" stroke="none" stroke-width="0.7" />
<circle cx="323.0" cy="1204.5" r="0.5" fill="#555" stroke="none" stroke-width="0.7" />
<circle cx="323.0" cy="1209.8" r="0.5" fill="#555" stroke="none" stroke-width="0.7" />
<line x1="299.4" y1="1169.0" x2="299.4" y2="1321.0" stroke="#3a3f44" stroke-width="0.8" />
<line x1="331.5" y1="1169.0" x2="331.5" y2="1321.0" stroke="#3a3f44" stroke-width="0.8" />
<line x1="299.4" y1="1216.0" x2="331.5" y2="1216.0" stroke="#3a3f44" stroke-width="0.7" />
<line x1="274.0" y1="1241.3" x2="356.6" y2="1241.3" stroke="#3a3f44" stroke-width="0.8" />
<line x1="278.5" y1="1280.2" x2="352.2" y2="1280.2" stroke="#3a3f44" stroke-width="0.8" />
<rect x="328.1" y="1220.5" width="2.6" height="18.7" rx="0" fill="#444" stroke="none" stroke-width="0.7" />
<rect x="311.5" y="1244.0" width="8.0" height="8.0" rx="0" fill="none" stroke="#333" stroke-width="0.8" stroke-dasharray="1.5,1"/>
<rect x="309.4" y="1254.1" width="12.5" height="23.3" rx="2.5" fill="none" stroke="#333" stroke-width="0.9" stroke-dasharray="1.2,0.8"/>
<circle cx="315.3" cy="1289.6" r="6.2" fill="none" stroke="#333" stroke-width="0.9" />
<rect x="311.5" y="1298.5" width="8.0" height="8.0" rx="0" fill="none" stroke="#333" stroke-width="0.8" stroke-dasharray="1.5,1"/>
<rect x="310.0" y="1308.0" width="11.0" height="10.5" rx="0" fill="none" stroke="#333" stroke-width="0.7" />
<ellipse cx="313.0" cy="1313.2" rx="1.3" ry="3.8" fill="none" stroke="#333" stroke-width="0.6" />
<ellipse cx="317.8" cy="1313.2" rx="1.3" ry="3.8" fill="none" stroke="#333" stroke-width="0.6" />
<rect x="279.2" y="487.7" width="73.2" height="49.3" rx="0" fill="#a3937f" stroke="#1c1c1c" stroke-width="0.8" />
<path d="M279.5,490 Q280.6,505 280.6,533 L281.4,533 Q281.4,505 282.5,490 Z" fill="#26231f" stroke="none" stroke-width="0.7" />
<path d="M290.0,490 Q292.4,505 292.8,533 L293.6,533 Q294.0,505 296.4,490 Z" fill="#26231f" stroke="none" stroke-width="0.7" />
<path d="M302.5,490 Q305.3,505 305.8,533 L306.6,533 Q307.1,505 309.9,490 Z" fill="#26231f" stroke="none" stroke-width="0.7" />
<path d="M317.4,490 Q320.3,505 320.8,533 L321.6,533 Q322.1,505 325.0,490 Z" fill="#26231f" stroke="none" stroke-width="0.7" />
<path d="M332.5,490 Q335.0,505 335.4,533 L336.2,533 Q336.6,505 339.1,490 Z" fill="#26231f" stroke="none" stroke-width="0.7" />
<path d="M344.0,490 Q345.6,505 345.7,533 L346.6,533 Q346.6,505 348.2,490 Z" fill="#26231f" stroke="none" stroke-width="0.7" />
<path d="M349.6,490 Q350.4,505 350.2,533 L351.1,533 Q350.8,505 351.6,490 Z" fill="#26231f" stroke="none" stroke-width="0.7" />
<line x1="286.5" y1="494.0" x2="286.9" y2="532.0" stroke="#7f705e" stroke-width="0.7" />
<line x1="288.5" y1="494.0" x2="288.9" y2="532.0" stroke="#7f705e" stroke-width="0.7" />
<line x1="298.5" y1="494.0" x2="298.9" y2="532.0" stroke="#7f705e" stroke-width="0.7" />
<line x1="301.0" y1="494.0" x2="301.4" y2="532.0" stroke="#7f705e" stroke-width="0.7" />
<line x1="312.5" y1="494.0" x2="312.9" y2="532.0" stroke="#7f705e" stroke-width="0.7" />
<line x1="315.0" y1="494.0" x2="314.6" y2="532.0" stroke="#7f705e" stroke-width="0.7" />
<line x1="327.5" y1="494.0" x2="327.1" y2="532.0" stroke="#7f705e" stroke-width="0.7" />
<line x1="330.0" y1="494.0" x2="329.6" y2="532.0" stroke="#7f705e" stroke-width="0.7" />
<line x1="340.0" y1="494.0" x2="339.6" y2="532.0" stroke="#7f705e" stroke-width="0.7" />
<line x1="342.5" y1="494.0" x2="342.1" y2="532.0" stroke="#7f705e" stroke-width="0.7" />
<line x1="348.3" y1="494.0" x2="347.9" y2="532.0" stroke="#7f705e" stroke-width="0.7" />
<rect x="279.2" y="487.7" width="73.2" height="3.6" rx="0" fill="#1c1c1c" stroke="none" stroke-width="0.7" />
<rect x="278.4" y="533.4" width="74.8" height="3.6" rx="0" fill="#1c1c1c" stroke="none" stroke-width="0.7" />
<polygon points="314.2,455.6 316.4,455.6 316.6,463.5 319.4,465.8 320.2,470.0 320.2,487.7 310.3,487.7 310.3,470.0 311.1,465.8 313.9,463.5" fill="#7f8996" stroke="#3a3f48" stroke-width="0.6" />
<path d="M315.3,466 L314.6,474 L316,480 L315,487" fill="none" stroke="#2a2d33" stroke-width="0.8" />
</g>
<g id="topview">
<defs>
    <linearGradient id="can1" x1="0" x2="1" y1="0" y2="0"><stop offset="0" stop-color="#35b2e3"/><stop offset="0.45" stop-color="#8fcbe7"/><stop offset="1" stop-color="#c9dbe9"/></linearGradient>
    <linearGradient id="can2" x1="0" x2="1" y1="0" y2="0"><stop offset="0" stop-color="#5fc0ea"/><stop offset="0.5" stop-color="#a5d3ec"/><stop offset="1" stop-color="#cfdfec"/></linearGradient>
    <filter id="blur3" x="-20%" y="-20%" width="140%" height="140%"><feGaussianBlur stdDeviation="3"/></filter>
    <clipPath id="topclip"><path d="M717.8,572.8 C718.8,574.8 721.5,580.5 723.5,585.0 C725.5,589.5 727.2,593.2 729.8,600.0 C732.4,606.8 736.7,616.5 739.3,625.7 C741.9,634.9 743.9,645.0 745.6,655.0 C747.3,665.0 748.1,673.4 749.6,685.4 C751.1,697.4 752.9,713.6 754.7,726.8 C756.6,739.9 759.3,755.4 760.7,764.3 C762.1,773.2 762.0,773.0 763.0,780.0 C764.0,787.0 765.4,796.6 766.8,806.6 C768.2,816.6 769.8,829.3 771.4,840.0 C773.0,850.7 774.1,860.6 776.2,870.6 C778.3,880.6 781.5,889.9 784.0,900.0 C786.5,910.1 789.1,921.0 791.5,931.0 C793.9,941.0 795.9,950.0 798.3,960.0 C800.7,970.0 803.9,983.0 805.8,991.3 C807.7,999.6 808.7,1005.0 809.6,1010.0 C810.5,1015.0 811.0,1019.6 811.3,1021.5 L1020.2,1195.0 L1020.2,1270.6 L788.4,1270.6 L788.4,1497.7 L763.2,1497.7 L763.2,1440.0 L754.5,1440.0 L754.5,1469.8 L679.5,1469.8 L679.5,1440.0 L670.8,1440.0 L670.8,1497.7 L645.6,1497.7 L645.6,1270.6 L413.8,1270.6 L413.8,1195.0 L622.7,1021.5 C623.0,1019.6 623.5,1015.0 624.4,1010.0 C625.3,1005.0 626.3,999.6 628.2,991.3 C630.1,983.0 633.3,970.0 635.7,960.0 C638.1,950.0 640.1,941.0 642.5,931.0 C644.9,921.0 647.5,910.1 650.0,900.0 C652.5,889.9 655.7,880.6 657.8,870.6 C659.9,860.6 661.0,850.7 662.6,840.0 C664.2,829.3 665.8,816.6 667.2,806.6 C668.6,796.6 670.0,787.0 671.0,780.0 C672.0,773.0 671.9,773.2 673.3,764.3 C674.7,755.4 677.4,739.9 679.3,726.8 C681.1,713.6 682.9,697.4 684.4,685.4 C685.9,673.4 686.7,665.0 688.4,655.0 C690.1,645.0 692.1,634.9 694.7,625.7 C697.3,616.5 701.6,606.8 704.2,600.0 C706.8,593.2 708.5,589.5 710.5,585.0 C712.5,580.5 715.2,574.8 716.2,572.8 Z"/></clipPath>
    </defs>
<polygon points="788.4,1354.7 906.0,1453.5 906.0,1500.0 890.2,1513.0 788.4,1513.0" fill="#99a3ac" stroke="#3b4045" stroke-width="0.8" />
<polygon points="645.6,1354.7 528.0,1453.5 528.0,1500.0 543.8,1513.0 645.6,1513.0" fill="#99a3ac" stroke="#3b4045" stroke-width="0.8" />
<circle cx="795.0" cy="1428.0" r="0.5" fill="#555" stroke="none" stroke-width="0.7" />
<circle cx="795.9" cy="1431.6" r="0.5" fill="#555" stroke="none" stroke-width="0.7" />
<circle cx="796.8" cy="1435.2" r="0.5" fill="#555" stroke="none" stroke-width="0.7" />
<circle cx="798.0" cy="1428.4" r="0.5" fill="#555" stroke="none" stroke-width="0.7" />
<circle cx="798.9" cy="1432.0" r="0.5" fill="#555" stroke="none" stroke-width="0.7" />
<circle cx="799.8" cy="1435.6" r="0.5" fill="#555" stroke="none" stroke-width="0.7" />
<circle cx="800.7" cy="1439.2" r="0.5" fill="#555" stroke="none" stroke-width="0.7" />
<circle cx="801.0" cy="1428.8" r="0.5" fill="#555" stroke="none" stroke-width="0.7" />
<circle cx="801.9" cy="1432.4" r="0.5" fill="#555" stroke="none" stroke-width="0.7" />
<circle cx="802.8" cy="1436.0" r="0.5" fill="#555" stroke="none" stroke-width="0.7" />
<circle cx="803.7" cy="1439.6" r="0.5" fill="#555" stroke="none" stroke-width="0.7" />
<circle cx="804.6" cy="1443.2" r="0.5" fill="#555" stroke="none" stroke-width="0.7" />
<circle cx="804.0" cy="1429.2" r="0.5" fill="#555" stroke="none" stroke-width="0.7" />
<circle cx="804.9" cy="1432.8" r="0.5" fill="#555" stroke="none" stroke-width="0.7" />
<circle cx="805.8" cy="1436.4" r="0.5" fill="#555" stroke="none" stroke-width="0.7" />
<circle cx="806.7" cy="1440.0" r="0.5" fill="#555" stroke="none" stroke-width="0.7" />
<circle cx="807.6" cy="1443.6" r="0.5" fill="#555" stroke="none" stroke-width="0.7" />
<circle cx="808.5" cy="1447.2" r="0.5" fill="#555" stroke="none" stroke-width="0.7" />
<circle cx="807.0" cy="1429.6" r="0.5" fill="#555" stroke="none" stroke-width="0.7" />
<circle cx="807.9" cy="1433.2" r="0.5" fill="#555" stroke="none" stroke-width="0.7" />
<circle cx="808.8" cy="1436.8" r="0.5" fill="#555" stroke="none" stroke-width="0.7" />
<circle cx="809.7" cy="1440.4" r="0.5" fill="#555" stroke="none" stroke-width="0.7" />
<circle cx="810.6" cy="1444.0" r="0.5" fill="#555" stroke="none" stroke-width="0.7" />
<circle cx="811.5" cy="1447.6" r="0.5" fill="#555" stroke="none" stroke-width="0.7" />
<circle cx="639.0" cy="1428.0" r="0.5" fill="#555" stroke="none" stroke-width="0.7" />
<circle cx="638.1" cy="1431.6" r="0.5" fill="#555" stroke="none" stroke-width="0.7" />
<circle cx="637.2" cy="1435.2" r="0.5" fill="#555" stroke="none" stroke-width="0.7" />
<circle cx="636.0" cy="1428.4" r="0.5" fill="#555" stroke="none" stroke-width="0.7" />
<circle cx="635.1" cy="1432.0" r="0.5" fill="#555" stroke="none" stroke-width="0.7" />
<circle cx="634.2" cy="1435.6" r="0.5" fill="#555" stroke="none" stroke-width="0.7" />
<circle cx="633.3" cy="1439.2" r="0.5" fill="#555" stroke="none" stroke-width="0.7" />
<circle cx="633.0" cy="1428.8" r="0.5" fill="#555" stroke="none" stroke-width="0.7" />
<circle cx="632.1" cy="1432.4" r="0.5" fill="#555" stroke="none" stroke-width="0.7" />
<circle cx="631.2" cy="1436.0" r="0.5" fill="#555" stroke="none" stroke-width="0.7" />
<circle cx="630.3" cy="1439.6" r="0.5" fill="#555" stroke="none" stroke-width="0.7" />
<circle cx="629.4" cy="1443.2" r="0.5" fill="#555" stroke="none" stroke-width="0.7" />
<circle cx="630.0" cy="1429.2" r="0.5" fill="#555" stroke="none" stroke-width="0.7" />
<circle cx="629.1" cy="1432.8" r="0.5" fill="#555" stroke="none" stroke-width="0.7" />
<circle cx="628.2" cy="1436.4" r="0.5" fill="#555" stroke="none" stroke-width="0.7" />
<circle cx="627.3" cy="1440.0" r="0.5" fill="#555" stroke="none" stroke-width="0.7" />
<circle cx="626.4" cy="1443.6" r="0.5" fill="#555" stroke="none" stroke-width="0.7" />
<circle cx="625.5" cy="1447.2" r="0.5" fill="#555" stroke="none" stroke-width="0.7" />
<circle cx="627.0" cy="1429.6" r="0.5" fill="#555" stroke="none" stroke-width="0.7" />
<circle cx="626.1" cy="1433.2" r="0.5" fill="#555" stroke="none" stroke-width="0.7" />
<circle cx="625.2" cy="1436.8" r="0.5" fill="#555" stroke="none" stroke-width="0.7" />
<circle cx="624.3" cy="1440.4" r="0.5" fill="#555" stroke="none" stroke-width="0.7" />
<circle cx="623.4" cy="1444.0" r="0.5" fill="#555" stroke="none" stroke-width="0.7" />
<circle cx="622.5" cy="1447.6" r="0.5" fill="#555" stroke="none" stroke-width="0.7" />
<ellipse cx="528.2" cy="1494.1" rx="1.3" ry="7.0" fill="#a7b0b8" stroke="#333" stroke-width="0.5" />
<line x1="528.2" y1="1500.0" x2="528.2" y2="1511.0" stroke="#1f1f1f" stroke-width="1.7" />
<line x1="528.2" y1="1507.0" x2="528.2" y2="1511.0" stroke="#cfae1c" stroke-width="1.7" />
<ellipse cx="550.0" cy="1507.1" rx="1.3" ry="7.0" fill="#a7b0b8" stroke="#333" stroke-width="0.5" />
<line x1="550.0" y1="1513.0" x2="550.0" y2="1524.0" stroke="#1f1f1f" stroke-width="1.7" />
<line x1="550.0" y1="1520.0" x2="550.0" y2="1524.0" stroke="#cfae1c" stroke-width="1.7" />
<ellipse cx="581.0" cy="1507.1" rx="1.3" ry="7.0" fill="#a7b0b8" stroke="#333" stroke-width="0.5" />
<line x1="581.0" y1="1513.0" x2="581.0" y2="1524.0" stroke="#1f1f1f" stroke-width="1.7" />
<line x1="581.0" y1="1520.0" x2="581.0" y2="1524.0" stroke="#cfae1c" stroke-width="1.7" />
<ellipse cx="906.0" cy="1494.1" rx="1.3" ry="7.0" fill="#a7b0b8" stroke="#333" stroke-width="0.5" />
<line x1="906.0" y1="1500.0" x2="906.0" y2="1511.0" stroke="#1f1f1f" stroke-width="1.7" />
<line x1="906.0" y1="1507.0" x2="906.0" y2="1511.0" stroke="#cfae1c" stroke-width="1.7" />
<ellipse cx="884.0" cy="1507.1" rx="1.3" ry="7.0" fill="#a7b0b8" stroke="#333" stroke-width="0.5" />
<line x1="884.0" y1="1513.0" x2="884.0" y2="1524.0" stroke="#1f1f1f" stroke-width="1.7" />
<line x1="884.0" y1="1520.0" x2="884.0" y2="1524.0" stroke="#cfae1c" stroke-width="1.7" />
<ellipse cx="853.0" cy="1507.1" rx="1.3" ry="7.0" fill="#a7b0b8" stroke="#333" stroke-width="0.5" />
<line x1="853.0" y1="1513.0" x2="853.0" y2="1524.0" stroke="#1f1f1f" stroke-width="1.7" />
<line x1="853.0" y1="1520.0" x2="853.0" y2="1524.0" stroke="#cfae1c" stroke-width="1.7" />
<path d="M717.8,572.8 C718.8,574.8 721.5,580.5 723.5,585.0 C725.5,589.5 727.2,593.2 729.8,600.0 C732.4,606.8 736.7,616.5 739.3,625.7 C741.9,634.9 743.9,645.0 745.6,655.0 C747.3,665.0 748.1,673.4 749.6,685.4 C751.1,697.4 752.9,713.6 754.7,726.8 C756.6,739.9 759.3,755.4 760.7,764.3 C762.1,773.2 762.0,773.0 763.0,780.0 C764.0,787.0 765.4,796.6 766.8,806.6 C768.2,816.6 769.8,829.3 771.4,840.0 C773.0,850.7 774.1,860.6 776.2,870.6 C778.3,880.6 781.5,889.9 784.0,900.0 C786.5,910.1 789.1,921.0 791.5,931.0 C793.9,941.0 795.9,950.0 798.3,960.0 C800.7,970.0 803.9,983.0 805.8,991.3 C807.7,999.6 808.7,1005.0 809.6,1010.0 C810.5,1015.0 811.0,1019.6 811.3,1021.5 L1020.2,1195.0 L1020.2,1270.6 L788.4,1270.6 L788.4,1497.7 L763.2,1497.7 L763.2,1440.0 L754.5,1440.0 L754.5,1469.8 L679.5,1469.8 L679.5,1440.0 L670.8,1440.0 L670.8,1497.7 L645.6,1497.7 L645.6,1270.6 L413.8,1270.6 L413.8,1195.0 L622.7,1021.5 C623.0,1019.6 623.5,1015.0 624.4,1010.0 C625.3,1005.0 626.3,999.6 628.2,991.3 C630.1,983.0 633.3,970.0 635.7,960.0 C638.1,950.0 640.1,941.0 642.5,931.0 C644.9,921.0 647.5,910.1 650.0,900.0 C652.5,889.9 655.7,880.6 657.8,870.6 C659.9,860.6 661.0,850.7 662.6,840.0 C664.2,829.3 665.8,816.6 667.2,806.6 C668.6,796.6 670.0,787.0 671.0,780.0 C672.0,773.0 671.9,773.2 673.3,764.3 C674.7,755.4 677.4,739.9 679.3,726.8 C681.1,713.6 682.9,697.4 684.4,685.4 C685.9,673.4 686.7,665.0 688.4,655.0 C690.1,645.0 692.1,634.9 694.7,625.7 C697.3,616.5 701.6,606.8 704.2,600.0 C706.8,593.2 708.5,589.5 710.5,585.0 C712.5,580.5 715.2,574.8 716.2,572.8 Z" fill="#5e676c" stroke="none" stroke-width="0.7" />
<g clip-path="url(#topclip)">
<path d="M600,560 L840,560 L840,960 L800,958 C780,950 765,934 745.5,934 C735,934 730,940 726,946 L708,946 C704,940 699,934 677.3,934 C669,934 654,950 634,958 L594,960 Z" fill="#99a3ac" stroke="none" stroke-width="0.7" filter="url(#blur3)"/>
</g>
<path d="M717.8,572.8 C718.8,574.8 721.5,580.5 723.5,585.0 C725.5,589.5 727.2,593.2 729.8,600.0 C732.4,606.8 736.7,616.5 739.3,625.7 C741.9,634.9 743.9,645.0 745.6,655.0 C747.3,665.0 748.1,673.4 749.6,685.4 C751.1,697.4 752.9,713.6 754.7,726.8 C756.6,739.9 759.3,755.4 760.7,764.3 C762.1,773.2 762.0,773.0 763.0,780.0 C764.0,787.0 765.4,796.6 766.8,806.6 C768.2,816.6 769.8,829.3 771.4,840.0 C773.0,850.7 774.1,860.6 776.2,870.6 C778.3,880.6 781.5,889.9 784.0,900.0 C786.5,910.1 789.1,921.0 791.5,931.0 C793.9,941.0 795.9,950.0 798.3,960.0 C800.7,970.0 803.9,983.0 805.8,991.3 C807.7,999.6 808.7,1005.0 809.6,1010.0 C810.5,1015.0 811.0,1019.6 811.3,1021.5 L1020.2,1195.0 L1020.2,1270.6 L788.4,1270.6 L788.4,1497.7 L763.2,1497.7 L763.2,1440.0 L754.5,1440.0 L754.5,1469.8 L679.5,1469.8 L679.5,1440.0 L670.8,1440.0 L670.8,1497.7 L645.6,1497.7 L645.6,1270.6 L413.8,1270.6 L413.8,1195.0 L622.7,1021.5 C623.0,1019.6 623.5,1015.0 624.4,1010.0 C625.3,1005.0 626.3,999.6 628.2,991.3 C630.1,983.0 633.3,970.0 635.7,960.0 C638.1,950.0 640.1,941.0 642.5,931.0 C644.9,921.0 647.5,910.1 650.0,900.0 C652.5,889.9 655.7,880.6 657.8,870.6 C659.9,860.6 661.0,850.7 662.6,840.0 C664.2,829.3 665.8,816.6 667.2,806.6 C668.6,796.6 670.0,787.0 671.0,780.0 C672.0,773.0 671.9,773.2 673.3,764.3 C674.7,755.4 677.4,739.9 679.3,726.8 C681.1,713.6 682.9,697.4 684.4,685.4 C685.9,673.4 686.7,665.0 688.4,655.0 C690.1,645.0 692.1,634.9 694.7,625.7 C697.3,616.5 701.6,606.8 704.2,600.0 C706.8,593.2 708.5,589.5 710.5,585.0 C712.5,580.5 715.2,574.8 716.2,572.8 Z" fill="none" stroke="#3b4045" stroke-width="0.9" />
<path d="M717,572.8 Q745.5,622 749.6,685.4 L684.4,685.4 Q688.5,622 717,572.8 Z" fill="#878d8e" stroke="#3b4045" stroke-width="0.8" />
<line x1="717.0" y1="575.0" x2="717.0" y2="672.0" stroke="#2a2a2a" stroke-width="0.9" />
<path d="M703.5,622 Q698,650 697,671" fill="none" stroke="#2a2a2a" stroke-width="0.9" />
<path d="M730.5,622 Q736,650 737,671" fill="none" stroke="#2a2a2a" stroke-width="0.9" />
<polygon points="717.0,529.0 717.9,531.0 718.1,547.5 719.1,549.5 719.1,568.0 720.0,572.8 714.0,572.8 714.9,568.0 714.9,549.5 715.9,547.5 716.1,531.0" fill="#ededed" stroke="#444" stroke-width="0.6" />
<ellipse cx="683.0" cy="678.5" rx="3.0" ry="1.1" fill="#ddd" stroke="#444" stroke-width="0.5" />
<ellipse cx="751.0" cy="678.5" rx="3.0" ry="1.1" fill="#ddd" stroke="#444" stroke-width="0.5" />
<line x1="684.4" y1="685.4" x2="749.6" y2="685.4" stroke="#3b4045" stroke-width="0.9" />
<line x1="695.0" y1="686.0" x2="693.5" y2="726.0" stroke="#1f1f1f" stroke-width="1.4" />
<line x1="739.0" y1="686.0" x2="740.5" y2="726.0" stroke="#1f1f1f" stroke-width="1.4" />
<ellipse cx="702.6" cy="712.3" rx="2.3" ry="10.6" fill="#4f5963" stroke="#1f1f1f" stroke-width="1.0" />
<ellipse cx="712.2" cy="712.3" rx="2.3" ry="10.6" fill="#4f5963" stroke="#1f1f1f" stroke-width="1.0" />
<ellipse cx="722.0" cy="712.3" rx="2.3" ry="10.6" fill="#4f5963" stroke="#1f1f1f" stroke-width="1.0" />
<ellipse cx="731.6" cy="712.3" rx="2.3" ry="10.6" fill="#4f5963" stroke="#1f1f1f" stroke-width="1.0" />
<ellipse cx="684.4" cy="709.8" rx="2.9" ry="11.0" fill="#4a5560" stroke="#222" stroke-width="0.7" />
<ellipse cx="749.7" cy="709.8" rx="2.9" ry="11.0" fill="#4a5560" stroke="#222" stroke-width="0.7" />
<path d="M681.5,727 L752.5,727" fill="none" stroke="#3b4045" stroke-width="0.9" />
<path d="M687.5,766 C689,748 696,731.5 706.4,729.4 L729,729.4 C739,731.5 746,748 748,766 C752,800 752,850 748,880 L742,901 L692,901 L686,880 C682,850 682,800 687.5,766 Z" fill="#929ca6" stroke="#3b4045" stroke-width="0.8" />
<path d="M717,733 C701,733 693.5,758 692,790 C690.8,830 693.5,862 697,880 L737,880 C740.5,862 743.2,830 742,790 C740.5,758 733,733 717,733 Z" fill="url(#can1)" stroke="#2a3a44" stroke-width="1" />
<path d="M707.8,943 L726,943 C725,955 721,964 717.5,967 C714,964 709,955 707.8,943 Z" fill="#69737b" stroke="#262b2f" stroke-width="0.9" />
<path d="M697,880 Q717,888 737,880 L734.5,895 C732,912 728.5,930 725.5,944 L708.5,944 C705.5,930 702,912 699.5,895 Z" fill="url(#can2)" stroke="#2a3a44" stroke-width="1" />
<path d="M697,879 Q717,887 737,879 M697.5,882.5 Q717,890.5 736.5,882.5" fill="none" stroke="#3a4a54" stroke-width="0.8" />
<circle cx="687.2" cy="734.0" r="1.9" fill="none" stroke="#222" stroke-width="0.7" />
<circle cx="746.9" cy="734.0" r="1.9" fill="none" stroke="#222" stroke-width="0.7" />
<circle cx="687.2" cy="734.0" r="0.8" fill="none" stroke="#222" stroke-width="0.5" />
<circle cx="746.9" cy="734.0" r="0.8" fill="none" stroke="#222" stroke-width="0.5" />
<path d="M750.5,726.8 C751.5,733.0 755.1,755.4 756.5,764.3 C757.9,773.2 757.8,773.0 758.8,780.0 C759.8,787.0 761.2,796.6 762.6,806.6 C764.0,816.6 765.6,829.3 767.2,840.0 C768.8,850.7 769.9,860.6 772.0,870.6 C774.1,880.6 777.2,889.9 779.8,900.0 C782.3,910.1 784.9,921.0 787.3,931.0 C789.7,941.0 791.7,950.0 794.1,960.0 C796.5,970.0 799.7,983.0 801.6,991.3 C803.5,999.6 804.5,1005.0 805.4,1010.0 C806.3,1015.0 806.8,1019.6 807.1,1021.5" fill="none" stroke="#3b4045" stroke-width="0.7" />
<path d="M752.7,726.8 C753.7,733.0 757.3,755.4 758.7,764.3 C760.1,773.2 760.0,773.0 761.0,780.0 C762.0,787.0 763.4,796.6 764.8,806.6 C766.2,816.6 767.8,829.3 769.4,840.0 C771.0,850.7 772.1,860.6 774.2,870.6 C776.3,880.6 779.5,889.9 782.0,900.0 C784.5,910.1 788.2,925.8 789.5,931.0" fill="none" stroke="#a8b1ba" stroke-width="1.0" />
<path d="M683.5,726.8 C682.5,733.0 678.9,755.4 677.5,764.3 C676.1,773.2 676.2,773.0 675.2,780.0 C674.2,787.0 672.8,796.6 671.4,806.6 C670.0,816.6 668.4,829.3 666.8,840.0 C665.2,850.7 664.1,860.6 662.0,870.6 C659.9,880.6 656.8,889.9 654.2,900.0 C651.7,910.1 649.1,921.0 646.7,931.0 C644.3,941.0 642.3,950.0 639.9,960.0 C637.5,970.0 634.3,983.0 632.4,991.3 C630.5,999.6 629.5,1005.0 628.6,1010.0 C627.7,1015.0 627.2,1019.6 626.9,1021.5" fill="none" stroke="#3b4045" stroke-width="0.7" />
<path d="M681.3,726.8 C680.3,733.0 676.7,755.4 675.3,764.3 C673.9,773.2 674.0,773.0 673.0,780.0 C672.0,787.0 670.6,796.6 669.2,806.6 C667.8,816.6 666.2,829.3 664.6,840.0 C663.0,850.7 661.9,860.6 659.8,870.6 C657.7,880.6 654.5,889.9 652.0,900.0 C649.5,910.1 645.8,925.8 644.5,931.0" fill="none" stroke="#a8b1ba" stroke-width="1.0" />
<path d="M686,745 C681,790 680.5,830 681,901" fill="none" stroke="#3b4045" stroke-width="0.7" />
<path d="M748,745 C753,790 753.5,830 752.3,901" fill="none" stroke="#3b4045" stroke-width="0.7" />
<path d="M682.5,760 C679,800 678.5,830 678.8,868" fill="none" stroke="#5b646c" stroke-width="1.1" stroke-dasharray="0.8,1.4"/>
<path d="M751.5,760 C755,800 755.5,830 755.2,868" fill="none" stroke="#5b646c" stroke-width="1.1" stroke-dasharray="0.8,1.4"/>
<circle cx="746.5" cy="775.5" r="1.6" fill="#3b444c" stroke="#222" stroke-width="0.6" />
<circle cx="687.5" cy="775.5" r="1.6" fill="#3b444c" stroke="#222" stroke-width="0.6" />
<line x1="661.0" y1="868.0" x2="681.0" y2="868.0" stroke="#3b4045" stroke-width="0.8" />
<line x1="752.3" y1="868.0" x2="773.5" y2="868.0" stroke="#3b4045" stroke-width="0.8" />
<line x1="663.5" y1="851.0" x2="681.0" y2="851.0" stroke="#3b4045" stroke-width="0.6" />
<line x1="752.3" y1="851.0" x2="770.5" y2="851.0" stroke="#3b4045" stroke-width="0.6" />
<rect x="684.3" y="850.0" width="9.6" height="51.0" rx="0" fill="#a3adb7" stroke="#3b4045" stroke-width="0.6" />
<rect x="740.6" y="850.0" width="9.6" height="51.0" rx="0" fill="#a3adb7" stroke="#3b4045" stroke-width="0.6" />
<rect x="687.5" y="888.0" width="5.0" height="13.0" rx="0" fill="#8d97a1" stroke="#3b4045" stroke-width="0.5" />
<rect x="742.0" y="888.0" width="5.0" height="13.0" rx="0" fill="#8d97a1" stroke="#3b4045" stroke-width="0.5" />
<rect x="758.2" y="855.0" width="13.6" height="26.4" rx="2" fill="none" stroke="#3b4045" stroke-width="0.9" stroke-dasharray="2,0.7"/>
<rect x="760.8" y="858.0" width="8.0" height="18.5" rx="1" fill="none" stroke="#3b4045" stroke-width="0.7" />
<polygon points="674.5,891.0 681.0,885.5 681.0,896.5" fill="#4d5a63" stroke="none" stroke-width="0.7" />
<polygon points="759.5,891.6 753.0,886.0 753.0,897.0" fill="#4d5a63" stroke="none" stroke-width="0.7" />
<rect x="761.6" y="887.7" width="3.4" height="6.8" rx="0" fill="#2d3236" stroke="none" stroke-width="0.7" />
<line x1="681.0" y1="901.0" x2="752.3" y2="901.0" stroke="#3b4045" stroke-width="0.8" />
<line x1="752.3" y1="901.0" x2="777.0" y2="901.0" stroke="#3b4045" stroke-width="0.9" stroke-dasharray="2.2,0.7"/>
<line x1="661.0" y1="901.0" x2="681.0" y2="901.0" stroke="#3b4045" stroke-width="0.7" />
<line x1="681.0" y1="868.0" x2="681.0" y2="1075.0" stroke="#3b4045" stroke-width="0.8" />
<line x1="752.3" y1="868.0" x2="752.3" y2="1075.0" stroke="#3b4045" stroke-width="0.8" />
<path d="M661.4,926 L661.4,987.5 L673.3,987.5 L673.3,926 C673.5,905 672.5,880 668,868.7 C663,880 661.2,905 661.4,926 Z" fill="none" stroke="#3b4045" stroke-width="0.9" />
<ellipse cx="668.0" cy="888.0" rx="3.2" ry="17.0" fill="none" stroke="#3b4045" stroke-width="0.7" />
<ellipse cx="667.3" cy="938.0" rx="2.8" ry="17.0" fill="none" stroke="#3b4045" stroke-width="0.7" />
<line x1="661.4" y1="926.0" x2="673.3" y2="926.0" stroke="#3b4045" stroke-width="0.7" />
<line x1="664.5" y1="905.0" x2="666.5" y2="911.0" stroke="#222" stroke-width="0.9" />
<line x1="666.3" y1="905.0" x2="668.3" y2="911.0" stroke="#222" stroke-width="0.9" />
<line x1="668.1" y1="905.0" x2="670.1" y2="911.0" stroke="#222" stroke-width="0.9" />
<line x1="637.0" y1="958.7" x2="797.0" y2="958.7" stroke="#3b4045" stroke-width="0.9" />
<line x1="628.5" y1="991.8" x2="805.5" y2="991.8" stroke="#252a2e" stroke-width="1.3" stroke-dasharray="2.6,0.7"/>
<line x1="624.0" y1="1031.0" x2="810.0" y2="1031.0" stroke="#252a2e" stroke-width="1.2" stroke-dasharray="2.6,0.7"/>
<rect x="684.7" y="965.5" width="28.5" height="22.0" rx="1.5" fill="none" stroke="#2c3135" stroke-width="1.1" stroke-dasharray="1.2,0.9"/>
<line x1="647.0" y1="958.7" x2="647.0" y2="991.8" stroke="#3b4045" stroke-width="0.6" />
<line x1="657.2" y1="958.7" x2="657.2" y2="991.8" stroke="#3b4045" stroke-width="0.6" />
<line x1="689.5" y1="958.7" x2="689.5" y2="991.8" stroke="#3b4045" stroke-width="0.6" />
<line x1="745.0" y1="958.7" x2="745.0" y2="991.8" stroke="#3b4045" stroke-width="0.6" />
<line x1="760.0" y1="958.7" x2="760.0" y2="991.8" stroke="#3b4045" stroke-width="0.6" />
<line x1="788.0" y1="958.7" x2="788.0" y2="991.8" stroke="#3b4045" stroke-width="0.6" />
<line x1="773.5" y1="946.8" x2="773.5" y2="991.8" stroke="#3b4045" stroke-width="0.7" />
<line x1="754.0" y1="946.8" x2="773.5" y2="946.8" stroke="#3b4045" stroke-width="0.8" stroke-dasharray="2.2,0.7"/>
<rect x="766.3" y="960.5" width="2.6" height="4.2" rx="1" fill="none" stroke="#2c3135" stroke-width="0.6" />
<rect x="779.0" y="984.0" width="16.0" height="6.0" rx="0" fill="#343a3f" stroke="none" stroke-width="0.7" />
<line x1="787.0" y1="984.0" x2="787.0" y2="990.0" stroke="#59626a" stroke-width="0.6" />
<line x1="645.5" y1="991.8" x2="645.5" y2="1074.5" stroke="#252a2e" stroke-width="1.1" stroke-dasharray="2.6,0.7"/>
<line x1="788.5" y1="991.8" x2="788.5" y2="1074.5" stroke="#252a2e" stroke-width="1.1" stroke-dasharray="2.6,0.7"/>
<line x1="624.0" y1="1031.0" x2="624.0" y2="1075.0" stroke="#3b4045" stroke-width="0.6" />
<line x1="630.0" y1="1002.0" x2="680.0" y2="1002.0" stroke="#39414a" stroke-width="0.9" stroke-dasharray="0.9,4.5"/>
<line x1="754.0" y1="1002.0" x2="805.0" y2="1002.0" stroke="#39414a" stroke-width="0.9" stroke-dasharray="0.9,4.5"/>
<line x1="630.0" y1="1012.0" x2="680.0" y2="1012.0" stroke="#39414a" stroke-width="0.9" stroke-dasharray="0.9,4.5"/>
<line x1="754.0" y1="1012.0" x2="805.0" y2="1012.0" stroke="#39414a" stroke-width="0.9" stroke-dasharray="0.9,4.5"/>
<line x1="630.0" y1="1022.0" x2="680.0" y2="1022.0" stroke="#39414a" stroke-width="0.9" stroke-dasharray="0.9,4.5"/>
<line x1="754.0" y1="1022.0" x2="805.0" y2="1022.0" stroke="#39414a" stroke-width="0.9" stroke-dasharray="0.9,4.5"/>
<line x1="752.3" y1="1022.5" x2="790.0" y2="1022.5" stroke="#252a2e" stroke-width="1.2" stroke-dasharray="2.6,0.7"/>
<circle cx="717.5" cy="1013.0" r="10.2" fill="none" stroke="#2c3135" stroke-width="1.0" stroke-dasharray="1.6,0.5"/>
<circle cx="717.1" cy="999.1" r="5.0" fill="none" stroke="#2c3135" stroke-width="1.0" />
<circle cx="717.1" cy="999.1" r="2.8" fill="none" stroke="#2c3135" stroke-width="0.8" />
<line x1="717.3" y1="1021.5" x2="717.3" y2="1031.0" stroke="#1d2125" stroke-width="2.2" />
<rect x="653.4" y="1008.3" width="22.4" height="20.8" rx="1.5" fill="none" stroke="#2c3135" stroke-width="0.9" />
<ellipse cx="665.7" cy="1003.7" rx="3.4" ry="9.3" fill="none" stroke="#2c3135" stroke-width="0.7" />
<rect x="656.5" y="1016.0" width="16.0" height="8.5" rx="0" fill="#444c52" stroke="none" stroke-width="0.7" />
<rect x="655.5" y="1010.5" width="4.0" height="2.4" rx="0" fill="none" stroke="#2c3135" stroke-width="0.5" />
<rect x="655.5" y="1024.5" width="4.0" height="2.4" rx="0" fill="none" stroke="#2c3135" stroke-width="0.5" />
<line x1="780.8" y1="1012.2" x2="780.8" y2="1031.7" stroke="#e8e8e8" stroke-width="1.2" />
<text x="717" y="1046.5" font-size="6" fill="#ddd" text-anchor="middle">2</text>
<line x1="683.0" y1="1048.5" x2="751.0" y2="1048.5" stroke="#3b4045" stroke-width="0.7" />
<line x1="624.0" y1="1074.5" x2="810.0" y2="1074.5" stroke="#252a2e" stroke-width="1.3" />
<rect x="684.7" y="1056.2" width="14.8" height="15.7" rx="2" fill="none" stroke="#252a2e" stroke-width="1.7" />
<rect x="685.6" y="1057.1" width="13.0" height="13.9" rx="1.2" fill="none" stroke="#2e3439" stroke-width="1.0" stroke-dasharray="0.7,1.1"/>
<rect x="704.9" y="1056.2" width="24.2" height="15.7" rx="2" fill="none" stroke="#252a2e" stroke-width="1.7" />
<rect x="705.8" y="1057.1" width="22.4" height="13.9" rx="1.2" fill="none" stroke="#2e3439" stroke-width="1.0" stroke-dasharray="0.7,1.1"/>
<rect x="735.1" y="1056.2" width="15.1" height="15.7" rx="2" fill="none" stroke="#252a2e" stroke-width="1.7" />
<rect x="736.0" y="1057.1" width="13.3" height="13.9" rx="1.2" fill="none" stroke="#2e3439" stroke-width="1.0" stroke-dasharray="0.7,1.1"/>
<rect x="648.2" y="1077.4" width="31.6" height="20.5" rx="3.5" fill="none" stroke="#252a2e" stroke-width="1.7" />
<rect x="649.1" y="1078.3" width="29.8" height="18.7" rx="2.7" fill="none" stroke="#2e3439" stroke-width="1.0" stroke-dasharray="0.7,1.1"/>
<rect x="682.3" y="1077.4" width="17.2" height="20.5" rx="3.5" fill="none" stroke="#252a2e" stroke-width="1.7" />
<rect x="683.2" y="1078.3" width="15.4" height="18.7" rx="2.7" fill="none" stroke="#2e3439" stroke-width="1.0" stroke-dasharray="0.7,1.1"/>
<rect x="734.5" y="1077.4" width="17.8" height="20.5" rx="3.5" fill="none" stroke="#252a2e" stroke-width="1.7" />
<rect x="735.4" y="1078.3" width="16.0" height="18.7" rx="2.7" fill="none" stroke="#2e3439" stroke-width="1.0" stroke-dasharray="0.7,1.1"/>
<rect x="754.7" y="1077.4" width="31.7" height="20.5" rx="3.5" fill="none" stroke="#252a2e" stroke-width="1.7" />
<rect x="755.6" y="1078.3" width="29.9" height="18.7" rx="2.7" fill="none" stroke="#2e3439" stroke-width="1.0" stroke-dasharray="0.7,1.1"/>
<rect x="648.2" y="1106.0" width="31.6" height="20.3" rx="3.5" fill="none" stroke="#252a2e" stroke-width="1.7" />
<rect x="649.1" y="1106.9" width="29.8" height="18.5" rx="2.7" fill="none" stroke="#2e3439" stroke-width="1.0" stroke-dasharray="0.7,1.1"/>
<rect x="682.3" y="1106.0" width="17.2" height="20.3" rx="3.5" fill="none" stroke="#252a2e" stroke-width="1.7" />
<rect x="683.2" y="1106.9" width="15.4" height="18.5" rx="2.7" fill="none" stroke="#2e3439" stroke-width="1.0" stroke-dasharray="0.7,1.1"/>
<rect x="734.5" y="1106.0" width="17.8" height="20.3" rx="3.5" fill="none" stroke="#252a2e" stroke-width="1.7" />
<rect x="735.4" y="1106.9" width="16.0" height="18.5" rx="2.7" fill="none" stroke="#2e3439" stroke-width="1.0" stroke-dasharray="0.7,1.1"/>
<rect x="754.7" y="1106.0" width="31.7" height="20.3" rx="3.5" fill="none" stroke="#252a2e" stroke-width="1.7" />
<rect x="755.6" y="1106.9" width="29.9" height="18.5" rx="2.7" fill="none" stroke="#2e3439" stroke-width="1.0" stroke-dasharray="0.7,1.1"/>
<rect x="648.2" y="1134.7" width="31.6" height="20.2" rx="3.5" fill="none" stroke="#252a2e" stroke-width="1.7" />
<rect x="649.1" y="1135.6" width="29.8" height="18.4" rx="2.7" fill="none" stroke="#2e3439" stroke-width="1.0" stroke-dasharray="0.7,1.1"/>
<rect x="682.3" y="1134.7" width="17.2" height="20.2" rx="3.5" fill="none" stroke="#252a2e" stroke-width="1.7" />
<rect x="683.2" y="1135.6" width="15.4" height="18.4" rx="2.7" fill="none" stroke="#2e3439" stroke-width="1.0" stroke-dasharray="0.7,1.1"/>
<rect x="734.5" y="1134.7" width="17.8" height="20.2" rx="3.5" fill="none" stroke="#252a2e" stroke-width="1.7" />
<rect x="735.4" y="1135.6" width="16.0" height="18.4" rx="2.7" fill="none" stroke="#2e3439" stroke-width="1.0" stroke-dasharray="0.7,1.1"/>
<rect x="754.7" y="1134.7" width="31.7" height="20.2" rx="3.5" fill="none" stroke="#252a2e" stroke-width="1.7" />
<rect x="755.6" y="1135.6" width="29.9" height="18.4" rx="2.7" fill="none" stroke="#2e3439" stroke-width="1.0" stroke-dasharray="0.7,1.1"/>
<rect x="648.2" y="1161.9" width="31.6" height="21.1" rx="3.5" fill="none" stroke="#252a2e" stroke-width="1.7" />
<rect x="649.1" y="1162.8" width="29.8" height="19.3" rx="2.7" fill="none" stroke="#2e3439" stroke-width="1.0" stroke-dasharray="0.7,1.1"/>
<rect x="754.7" y="1161.9" width="31.7" height="21.1" rx="3.5" fill="none" stroke="#252a2e" stroke-width="1.7" />
<rect x="755.6" y="1162.8" width="29.9" height="19.3" rx="2.7" fill="none" stroke="#2e3439" stroke-width="1.0" stroke-dasharray="0.7,1.1"/>
<rect x="648.2" y="1189.7" width="31.6" height="21.1" rx="3.5" fill="none" stroke="#252a2e" stroke-width="1.7" />
<rect x="649.1" y="1190.6" width="29.8" height="19.3" rx="2.7" fill="none" stroke="#2e3439" stroke-width="1.0" stroke-dasharray="0.7,1.1"/>
<rect x="754.7" y="1189.7" width="31.7" height="21.1" rx="3.5" fill="none" stroke="#252a2e" stroke-width="1.7" />
<rect x="755.6" y="1190.6" width="29.9" height="19.3" rx="2.7" fill="none" stroke="#2e3439" stroke-width="1.0" stroke-dasharray="0.7,1.1"/>
<polygon points="682.3,1161.9 704.0,1161.9 710.5,1183.0 682.3,1183.0" fill="none" stroke="#252a2e" stroke-width="1.7" stroke-linejoin="round"/>
<polygon points="752.3,1161.9 730.0,1161.9 723.5,1183.0 752.3,1183.0" fill="none" stroke="#252a2e" stroke-width="1.7" stroke-linejoin="round"/>
<polygon points="707.0,1161.9 727.0,1161.9 721.0,1183.0 713.0,1183.0" fill="none" stroke="#252a2e" stroke-width="1.7" stroke-linejoin="round"/>
<polygon points="682.3,1189.7 708.0,1189.7 712.5,1210.8 682.3,1210.8" fill="none" stroke="#252a2e" stroke-width="1.7" stroke-linejoin="round"/>
<polygon points="752.3,1189.7 726.0,1189.7 721.5,1210.8 752.3,1210.8" fill="none" stroke="#252a2e" stroke-width="1.7" stroke-linejoin="round"/>
<polygon points="713.0,1190.0 721.0,1190.0 717.0,1200.0" fill="none" stroke="#2c3135" stroke-width="1.0" />
<line x1="646.0" y1="1158.5" x2="788.0" y2="1158.5" stroke="#252a2e" stroke-width="1.3" />
<rect x="701.9" y="1074.5" width="30.2" height="83.5" rx="0" fill="#5a636a" stroke="#8f979d" stroke-width="0.6" stroke-dasharray="1,1"/>
<circle cx="717.0" cy="1086.0" r="7.3" fill="none" stroke="#2c3135" stroke-width="1.0" />
<path d="M703,1079 L731,1079 L731,1084 M703,1079 L703,1084 M717,1062 L717,1093 M707,1059 L727,1059" fill="none" stroke="#e6e6e6" stroke-width="1.4" />
<path d="M705,1098.5 L729,1098.5" fill="none" stroke="#e6e6e6" stroke-width="1.4" />
<circle cx="748.5" cy="1082.0" r="2.8" fill="none" stroke="#2c3135" stroke-width="1.2" />
<path d="M706,1104 L728,1104 L724.5,1126 Q717,1134 709.5,1126 Z" fill="#454f5c" stroke="#d9dde0" stroke-width="0.9" />
<path d="M710.5,1126 Q717,1131 723.5,1126 L722,1130 Q717,1134 712,1130 Z" fill="#5a636a" stroke="none" stroke-width="0.7" />
<ellipse cx="640.5" cy="1108.0" rx="2.6" ry="8.5" fill="none" stroke="#2c3135" stroke-width="0.7" />
<ellipse cx="793.5" cy="1108.0" rx="2.6" ry="8.5" fill="none" stroke="#2c3135" stroke-width="0.7" />
<line x1="646.0" y1="1074.5" x2="646.0" y2="1270.6" stroke="#252a2e" stroke-width="1.4" />
<line x1="788.4" y1="1074.5" x2="788.4" y2="1270.6" stroke="#252a2e" stroke-width="1.4" />
<line x1="646.0" y1="1213.5" x2="788.0" y2="1213.5" stroke="#252a2e" stroke-width="1.6" />
<rect x="667.8" y="1217.7" width="15.4" height="57.4" rx="3" fill="none" stroke="#252a2e" stroke-width="1.7" />
<rect x="668.7" y="1218.6" width="13.6" height="55.6" rx="2.2" fill="none" stroke="#2e3439" stroke-width="1.0" stroke-dasharray="0.7,1.1"/>
<rect x="667.8" y="1279.0" width="15.4" height="57.0" rx="3" fill="none" stroke="#252a2e" stroke-width="1.7" />
<rect x="668.7" y="1279.9" width="13.6" height="55.2" rx="2.2" fill="none" stroke="#2e3439" stroke-width="1.0" stroke-dasharray="0.7,1.1"/>
<rect x="687.7" y="1217.7" width="23.2" height="57.4" rx="3" fill="none" stroke="#252a2e" stroke-width="1.7" />
<rect x="688.6" y="1218.6" width="21.4" height="55.6" rx="2.2" fill="none" stroke="#2e3439" stroke-width="1.0" stroke-dasharray="0.7,1.1"/>
<rect x="687.7" y="1279.0" width="23.2" height="57.0" rx="3" fill="none" stroke="#252a2e" stroke-width="1.7" />
<rect x="688.6" y="1279.9" width="21.4" height="55.2" rx="2.2" fill="none" stroke="#2e3439" stroke-width="1.0" stroke-dasharray="0.7,1.1"/>
<rect x="722.4" y="1217.7" width="23.3" height="57.4" rx="3" fill="none" stroke="#252a2e" stroke-width="1.7" />
<rect x="723.3" y="1218.6" width="21.5" height="55.6" rx="2.2" fill="none" stroke="#2e3439" stroke-width="1.0" stroke-dasharray="0.7,1.1"/>
<rect x="722.4" y="1279.0" width="23.3" height="57.0" rx="3" fill="none" stroke="#252a2e" stroke-width="1.7" />
<rect x="723.3" y="1279.9" width="21.5" height="55.2" rx="2.2" fill="none" stroke="#2e3439" stroke-width="1.0" stroke-dasharray="0.7,1.1"/>
<rect x="750.2" y="1217.7" width="16.0" height="57.4" rx="3" fill="none" stroke="#252a2e" stroke-width="1.7" />
<rect x="751.1" y="1218.6" width="14.2" height="55.6" rx="2.2" fill="none" stroke="#2e3439" stroke-width="1.0" stroke-dasharray="0.7,1.1"/>
<rect x="750.2" y="1279.0" width="16.0" height="57.0" rx="3" fill="none" stroke="#252a2e" stroke-width="1.7" />
<rect x="751.1" y="1279.9" width="14.2" height="55.2" rx="2.2" fill="none" stroke="#2e3439" stroke-width="1.0" stroke-dasharray="0.7,1.1"/>
<line x1="665.0" y1="1213.5" x2="665.0" y2="1340.0" stroke="#3b4045" stroke-width="0.7" />
<line x1="769.0" y1="1213.5" x2="769.0" y2="1340.0" stroke="#3b4045" stroke-width="0.7" />
<line x1="646.0" y1="1275.0" x2="665.0" y2="1275.0" stroke="#3b4045" stroke-width="0.6" />
<line x1="769.0" y1="1275.0" x2="788.0" y2="1275.0" stroke="#3b4045" stroke-width="0.6" />
<line x1="645.6" y1="1340.5" x2="788.4" y2="1340.5" stroke="#3b4045" stroke-width="0.9" />
<line x1="645.6" y1="1366.0" x2="788.4" y2="1366.0" stroke="#3b4045" stroke-width="0.9" />
<circle cx="655.7" cy="1351.4" r="3.4" fill="none" stroke="#1d2125" stroke-width="1.6" />
<circle cx="778.3" cy="1351.4" r="3.4" fill="none" stroke="#1d2125" stroke-width="1.6" />
<rect x="673.4" y="1343.5" width="8.6" height="16.5" rx="4.2" fill="none" stroke="#2c3135" stroke-width="1.0" />
<rect x="695.0" y="1343.5" width="8.6" height="16.5" rx="4.2" fill="none" stroke="#2c3135" stroke-width="1.0" />
<rect x="730.4" y="1343.5" width="8.6" height="16.5" rx="4.2" fill="none" stroke="#2c3135" stroke-width="1.0" />
<rect x="752.0" y="1343.5" width="8.6" height="16.5" rx="4.2" fill="none" stroke="#2c3135" stroke-width="1.0" />
<line x1="665.0" y1="1340.5" x2="665.0" y2="1440.0" stroke="#3b4045" stroke-width="0.7" />
<line x1="769.0" y1="1340.5" x2="769.0" y2="1440.0" stroke="#3b4045" stroke-width="0.7" />
<line x1="666.0" y1="1369.0" x2="768.0" y2="1369.0" stroke="#2e3338" stroke-width="1.6" stroke-dasharray="0.8,0.8"/>
<line x1="666.0" y1="1397.0" x2="768.0" y2="1397.0" stroke="#2e3338" stroke-width="1.6" stroke-dasharray="0.8,0.8"/>
<line x1="645.6" y1="1366.0" x2="788.4" y2="1366.0" stroke="#3b4045" stroke-width="0.7" />
<rect x="649.0" y="1379.0" width="12.0" height="12.0" rx="1.5" fill="none" stroke="#2c3135" stroke-width="1.0" />
<rect x="773.0" y="1379.0" width="12.0" height="12.0" rx="1.5" fill="none" stroke="#2c3135" stroke-width="1.0" />
<line x1="645.6" y1="1383.0" x2="788.4" y2="1383.0" stroke="#3b4045" stroke-width="0.6" />
<line x1="645.6" y1="1418.0" x2="788.4" y2="1418.0" stroke="#7d858b" stroke-width="0.7" />
<path d="M681,1383 L678,1418 M753,1383 L756,1418" fill="none" stroke="#3b4045" stroke-width="0.7" />
<polygon points="671.5,1419.0 762.5,1419.0 757.0,1453.0 754.8,1469.8 679.2,1469.8 677.0,1453.0" fill="#59626a" stroke="#3b4045" stroke-width="0.8" />
<line x1="677.5" y1="1453.0" x2="756.5" y2="1453.0" stroke="#3b4045" stroke-width="0.7" />
<line x1="677.5" y1="1458.0" x2="756.5" y2="1458.0" stroke="#3b4045" stroke-width="0.7" />
<line x1="677.5" y1="1463.0" x2="756.5" y2="1463.0" stroke="#3b4045" stroke-width="0.7" />
<polygon points="645.6,1440.0 660.0,1440.0 671.0,1448.0 671.0,1497.7 645.6,1497.7" fill="#626b71" stroke="#3b4045" stroke-width="0.8" />
<polygon points="788.4,1440.0 774.0,1440.0 763.0,1448.0 763.0,1497.7 788.4,1497.7" fill="#626b71" stroke="#3b4045" stroke-width="0.8" />
<rect x="650.0" y="1434.0" width="2.0" height="7.0" rx="0" fill="none" stroke="#2c3135" stroke-width="0.6" />
<rect x="657.0" y="1434.0" width="2.0" height="7.0" rx="0" fill="none" stroke="#2c3135" stroke-width="0.6" />
<rect x="775.0" y="1434.0" width="2.0" height="7.0" rx="0" fill="none" stroke="#2c3135" stroke-width="0.6" />
<rect x="782.0" y="1434.0" width="2.0" height="7.0" rx="0" fill="none" stroke="#2c3135" stroke-width="0.6" />
<rect x="680.2" y="1469.8" width="74.3" height="50.6" rx="0" fill="#a3937f" stroke="#1c1c1c" stroke-width="0.8" />
<path d="M680.5,1473 Q681.6,1490 681.5,1514 L682.5,1514 Q682.4,1490 683.5,1473 Z" fill="#26231f" stroke="none" stroke-width="0.7" />
<path d="M688.0,1473 Q689.9,1490 690.0,1514 L691.0,1514 Q691.1,1490 693.0,1473 Z" fill="#26231f" stroke="none" stroke-width="0.7" />
<path d="M698.2,1473 Q700.7,1490 701.0,1514 L702.0,1514 Q702.3,1490 704.8,1473 Z" fill="#26231f" stroke="none" stroke-width="0.7" />
<path d="M709.4,1473 Q712.1,1490 712.5,1514 L713.5,1514 Q713.9,1490 716.6,1473 Z" fill="#26231f" stroke="none" stroke-width="0.7" />
<path d="M717.4,1473 Q720.1,1490 720.5,1514 L721.5,1514 Q721.9,1490 724.6,1473 Z" fill="#26231f" stroke="none" stroke-width="0.7" />
<path d="M729.2,1473 Q731.7,1490 732.0,1514 L733.0,1514 Q733.3,1490 735.8,1473 Z" fill="#26231f" stroke="none" stroke-width="0.7" />
<path d="M741.0,1473 Q742.9,1490 743.0,1514 L744.0,1514 Q744.1,1490 746.0,1473 Z" fill="#26231f" stroke="none" stroke-width="0.7" />
<path d="M751.0,1473 Q752.1,1490 752.0,1514 L753.0,1514 Q752.9,1490 754.0,1473 Z" fill="#26231f" stroke="none" stroke-width="0.7" />
<line x1="686.0" y1="1477.0" x2="686.0" y2="1513.0" stroke="#7f705e" stroke-width="0.7" />
<line x1="695.5" y1="1477.0" x2="695.5" y2="1513.0" stroke="#7f705e" stroke-width="0.7" />
<line x1="697.5" y1="1477.0" x2="697.5" y2="1513.0" stroke="#7f705e" stroke-width="0.7" />
<line x1="706.5" y1="1477.0" x2="706.5" y2="1513.0" stroke="#7f705e" stroke-width="0.7" />
<line x1="709.0" y1="1477.0" x2="709.0" y2="1513.0" stroke="#7f705e" stroke-width="0.7" />
<line x1="726.0" y1="1477.0" x2="726.0" y2="1513.0" stroke="#7f705e" stroke-width="0.7" />
<line x1="728.5" y1="1477.0" x2="728.5" y2="1513.0" stroke="#7f705e" stroke-width="0.7" />
<line x1="737.5" y1="1477.0" x2="737.5" y2="1513.0" stroke="#7f705e" stroke-width="0.7" />
<line x1="739.5" y1="1477.0" x2="739.5" y2="1513.0" stroke="#7f705e" stroke-width="0.7" />
<line x1="748.5" y1="1477.0" x2="748.5" y2="1513.0" stroke="#7f705e" stroke-width="0.7" />
<rect x="680.2" y="1469.8" width="74.3" height="4.2" rx="0" fill="#1c1c1c" stroke="none" stroke-width="0.7" />
<rect x="681.0" y="1514.2" width="72.7" height="6.4" rx="1.5" fill="#1c1c1c" stroke="none" stroke-width="0.7" />
<path d="M682.1,1515 Q685.5,1505 688.9,1515 Z" fill="#a3937f" stroke="#2a2a2a" stroke-width="0.5" />
<path d="M691.2,1515 Q694.6,1505 698.0,1515 Z" fill="#a3937f" stroke="#2a2a2a" stroke-width="0.5" />
<path d="M700.3,1515 Q703.7,1505 707.1,1515 Z" fill="#a3937f" stroke="#2a2a2a" stroke-width="0.5" />
<path d="M709.4,1515 Q712.8,1505 716.2,1515 Z" fill="#a3937f" stroke="#2a2a2a" stroke-width="0.5" />
<path d="M718.5,1515 Q721.9,1505 725.3,1515 Z" fill="#a3937f" stroke="#2a2a2a" stroke-width="0.5" />
<path d="M727.6,1515 Q731.0,1505 734.4,1515 Z" fill="#a3937f" stroke="#2a2a2a" stroke-width="0.5" />
<path d="M736.7,1515 Q740.1,1505 743.5,1515 Z" fill="#a3937f" stroke="#2a2a2a" stroke-width="0.5" />
<path d="M745.8,1515 Q749.2,1505 752.6,1515 Z" fill="#a3937f" stroke="#2a2a2a" stroke-width="0.5" />
<path d="M717,1207 C713,1225 710,1250 709,1290 C707,1340 707,1400 710,1440 C712,1465 713.5,1500 713,1540 Q717,1551 721,1540 C720.5,1500 722,1465 724,1440 C727,1400 727,1340 725,1290 C724,1250 721,1225 717,1207 Z" fill="#8e9aa7" stroke="#4c5560" stroke-width="0.7" />
<path d="M717,1207 C721,1225 724,1250 725,1290 C727,1340 727,1400 724,1440 C722,1465 720.5,1500 721,1540 L717,1540 Z" fill="#a5afbb" stroke="none" stroke-width="0.7" />
<line x1="717.0" y1="1210.0" x2="717.0" y2="1545.0" stroke="#4c5560" stroke-width="0.6" />
<path d="M712.5,1352 C711,1390 712,1430 716,1475 M721.5,1352 C723,1390 722,1430 718,1475" fill="none" stroke="#4c5560" stroke-width="0.6" />
<line x1="717.0" y1="1545.0" x2="717.0" y2="1555.0" stroke="#555" stroke-width="1.2" />
<line x1="811.5" y1="1025.2" x2="1020.2" y2="1198.4" stroke="#20252a" stroke-width="1.0" />
<line x1="811.0" y1="1055.3" x2="1020.2" y2="1213.8" stroke="#1d2226" stroke-width="1.3" />
<line x1="811.0" y1="1062.3" x2="1020.2" y2="1220.8" stroke="#1d2226" stroke-width="1.3" />
<line x1="831.9" y1="1070.6" x2="834.1" y2="1079.7" stroke="#1d2226" stroke-width="1.2" />
<line x1="880.0" y1="1107.1" x2="882.2" y2="1116.2" stroke="#1d2226" stroke-width="1.2" />
<line x1="928.2" y1="1143.6" x2="930.4" y2="1152.7" stroke="#1d2226" stroke-width="1.2" />
<line x1="976.3" y1="1180.0" x2="978.5" y2="1189.1" stroke="#1d2226" stroke-width="1.2" />
<rect x="852.1" y="1083.8" width="1.5" height="2.0" rx="0" fill="#1d2226" stroke="none" stroke-width="0.7" />
<rect x="854.7" y="1085.8" width="1.5" height="2.0" rx="0" fill="#1d2226" stroke="none" stroke-width="0.7" />
<rect x="857.3" y="1087.8" width="1.5" height="2.0" rx="0" fill="#1d2226" stroke="none" stroke-width="0.7" />
<rect x="904.4" y="1123.4" width="1.5" height="2.0" rx="0" fill="#1d2226" stroke="none" stroke-width="0.7" />
<rect x="907.0" y="1125.4" width="1.5" height="2.0" rx="0" fill="#1d2226" stroke="none" stroke-width="0.7" />
<rect x="909.6" y="1127.4" width="1.5" height="2.0" rx="0" fill="#1d2226" stroke="none" stroke-width="0.7" />
<rect x="952.6" y="1159.9" width="1.5" height="2.0" rx="0" fill="#1d2226" stroke="none" stroke-width="0.7" />
<rect x="955.2" y="1161.9" width="1.5" height="2.0" rx="0" fill="#1d2226" stroke="none" stroke-width="0.7" />
<rect x="957.8" y="1163.9" width="1.5" height="2.0" rx="0" fill="#1d2226" stroke="none" stroke-width="0.7" />
<line x1="788.4" y1="1213.2" x2="1020.2" y2="1247.9" stroke="#20252a" stroke-width="1.4" />
<line x1="788.4" y1="1215.4" x2="1020.2" y2="1250.1" stroke="#20252a" stroke-width="1.6" stroke-dasharray="0.8,1.2"/>
<line x1="788.4" y1="1219.5" x2="1020.2" y2="1254.2" stroke="#20252a" stroke-width="0.8" />
<line x1="955.5" y1="1243.0" x2="955.5" y2="1270.6" stroke="#3b4045" stroke-width="0.8" />
<line x1="810.6" y1="1031.0" x2="810.6" y2="1270.6" stroke="#3b4045" stroke-width="0.8" />
<line x1="813.0" y1="1199.3" x2="1018.5" y2="1230.1" stroke="#2b3035" stroke-width="1.0" stroke-dasharray="1.1,1.5"/>
<line x1="813.0" y1="1185.3" x2="1009.8" y2="1214.8" stroke="#2b3035" stroke-width="1.0" stroke-dasharray="1.1,1.5"/>
<line x1="813.0" y1="1171.3" x2="986.8" y2="1197.3" stroke="#2b3035" stroke-width="1.0" stroke-dasharray="1.1,1.5"/>
<line x1="813.0" y1="1157.3" x2="963.8" y2="1179.9" stroke="#2b3035" stroke-width="1.0" stroke-dasharray="1.1,1.5"/>
<line x1="813.0" y1="1143.3" x2="940.7" y2="1162.4" stroke="#2b3035" stroke-width="1.0" stroke-dasharray="1.1,1.5"/>
<line x1="813.0" y1="1129.3" x2="917.7" y2="1145.0" stroke="#2b3035" stroke-width="1.0" stroke-dasharray="1.1,1.5"/>
<line x1="813.0" y1="1115.3" x2="894.7" y2="1127.5" stroke="#2b3035" stroke-width="1.0" stroke-dasharray="1.1,1.5"/>
<line x1="813.0" y1="1101.3" x2="871.7" y2="1110.1" stroke="#2b3035" stroke-width="1.0" stroke-dasharray="1.1,1.5"/>
<line x1="813.0" y1="1087.3" x2="848.6" y2="1092.6" stroke="#2b3035" stroke-width="1.0" stroke-dasharray="1.1,1.5"/>
<line x1="813.0" y1="1073.3" x2="825.6" y2="1075.2" stroke="#2b3035" stroke-width="1.0" stroke-dasharray="1.1,1.5"/>
<line x1="840.0" y1="1087.3" x2="840.0" y2="1218.9" stroke="#2f353a" stroke-width="0.9" stroke-dasharray="1.1,1.6"/>
<line x1="843.0" y1="1089.6" x2="843.0" y2="1218.9" stroke="#2f353a" stroke-width="0.9" stroke-dasharray="1.1,1.6"/>
<line x1="853.0" y1="1097.1" x2="853.0" y2="1220.9" stroke="#2f353a" stroke-width="0.9" stroke-dasharray="1.1,1.6"/>
<line x1="856.0" y1="1099.4" x2="856.0" y2="1220.9" stroke="#2f353a" stroke-width="0.9" stroke-dasharray="1.1,1.6"/>
<line x1="895.5" y1="1129.3" x2="895.5" y2="1227.2" stroke="#2f353a" stroke-width="0.9" stroke-dasharray="1.1,1.6"/>
<line x1="898.5" y1="1131.6" x2="898.5" y2="1227.2" stroke="#2f353a" stroke-width="0.9" stroke-dasharray="1.1,1.6"/>
<line x1="919.3" y1="1147.4" x2="919.3" y2="1230.8" stroke="#2f353a" stroke-width="0.9" stroke-dasharray="1.1,1.6"/>
<line x1="922.3" y1="1149.7" x2="922.3" y2="1230.8" stroke="#2f353a" stroke-width="0.9" stroke-dasharray="1.1,1.6"/>
<line x1="929.5" y1="1155.1" x2="929.5" y2="1232.3" stroke="#2f353a" stroke-width="0.9" stroke-dasharray="1.1,1.6"/>
<line x1="932.5" y1="1157.4" x2="932.5" y2="1232.3" stroke="#2f353a" stroke-width="0.9" stroke-dasharray="1.1,1.6"/>
<line x1="975.0" y1="1189.6" x2="975.0" y2="1239.1" stroke="#2f353a" stroke-width="0.9" stroke-dasharray="1.1,1.6"/>
<line x1="978.0" y1="1191.9" x2="978.0" y2="1239.1" stroke="#2f353a" stroke-width="0.9" stroke-dasharray="1.1,1.6"/>
<circle cx="820.6" cy="1141.4" r="3.7" fill="none" stroke="#1c2024" stroke-width="1.3" />
<circle cx="816.5" cy="1196.0" r="5.2" fill="none" stroke="#1c2024" stroke-width="1.3" />
<circle cx="853.0" cy="1188.0" r="3.8" fill="none" stroke="#1c2024" stroke-width="1.3" />
<circle cx="880.5" cy="1165.0" r="5.0" fill="none" stroke="#1c2024" stroke-width="1.3" />
<ellipse cx="820.0" cy="1100.0" rx="6.5" ry="4.3" fill="none" stroke="#1f2327" stroke-width="0.9" />
<rect x="833.0" y="1113.5" width="7.0" height="6.5" rx="1" fill="none" stroke="#1f2327" stroke-width="1.0" />
<circle cx="836.5" cy="1116.5" r="1.6" fill="#c9c9c9" stroke="none" stroke-width="0.7" />
<text x="838.5" y="1189.5" font-size="6" fill="#ddd" text-anchor="middle">2</text>
<rect x="833.5" y="1221.0" width="9.0" height="2.6" rx="0" fill="#9aa2a8" stroke="#222" stroke-width="0.5" />
<rect x="831.0" y="1227.5" width="14.0" height="2.2" rx="0" fill="#33383d" stroke="none" stroke-width="0.7" />
<rect x="882.0" y="1229.0" width="9.0" height="2.6" rx="0" fill="#9aa2a8" stroke="#222" stroke-width="0.5" />
<rect x="879.5" y="1235.5" width="14.0" height="2.2" rx="0" fill="#33383d" stroke="none" stroke-width="0.7" />
<rect x="931.5" y="1236.0" width="9.0" height="2.6" rx="0" fill="#9aa2a8" stroke="#222" stroke-width="0.5" />
<rect x="929.0" y="1242.5" width="14.0" height="2.2" rx="0" fill="#33383d" stroke="none" stroke-width="0.7" />
<path d="M969.5,1143 q3.2,-1 4.6,0.5 l-0.4,24 q-2.0,3 -3.6,0 Z" fill="#68727a" stroke="#20252a" stroke-width="0.7" />
<polygon points="1029.1,1113.6 1023.2,1113.6 1023.2,1160.1 1020.8,1168.1 1020.8,1288.2 1029.1,1288.2" fill="#9fa7b8" stroke="#4c5566" stroke-width="0.7" />
<line x1="1026.1" y1="1119.6" x2="1026.1" y2="1282.2" stroke="#68718a" stroke-width="0.7" />
<line x1="1024.8" y1="1138.6" x2="1024.8" y2="1168.1" stroke="#3b4252" stroke-width="1.8" stroke-dasharray="0.8,1.6"/>
<rect x="1029.1" y="1170.9" width="2.6" height="2.4" rx="0" fill="#8a92a6" stroke="#333" stroke-width="0.5" />
<rect x="1029.1" y="1221.5" width="2.6" height="2.4" rx="0" fill="#8a92a6" stroke="#333" stroke-width="0.5" />
<ellipse cx="959.7" cy="1265.5" rx="1.3" ry="3.6" fill="#8a9199" stroke="#333" stroke-width="0.5" />
<line x1="959.7" y1="1268.0" x2="959.7" y2="1287.0" stroke="#1f1f1f" stroke-width="1.7" />
<line x1="959.7" y1="1283.0" x2="959.7" y2="1287.0" stroke="#cfae1c" stroke-width="1.7" />
<ellipse cx="987.0" cy="1265.5" rx="1.3" ry="3.6" fill="#8a9199" stroke="#333" stroke-width="0.5" />
<line x1="987.0" y1="1268.0" x2="987.0" y2="1287.0" stroke="#1f1f1f" stroke-width="1.7" />
<line x1="987.0" y1="1283.0" x2="987.0" y2="1287.0" stroke="#cfae1c" stroke-width="1.7" />
<ellipse cx="1004.0" cy="1265.5" rx="1.3" ry="3.6" fill="#8a9199" stroke="#333" stroke-width="0.5" />
<line x1="1004.0" y1="1268.0" x2="1004.0" y2="1287.0" stroke="#1f1f1f" stroke-width="1.7" />
<line x1="1004.0" y1="1283.0" x2="1004.0" y2="1287.0" stroke="#cfae1c" stroke-width="1.7" />
<line x1="622.5" y1="1025.2" x2="413.8" y2="1198.4" stroke="#20252a" stroke-width="1.0" />
<line x1="623.0" y1="1055.3" x2="413.8" y2="1213.8" stroke="#1d2226" stroke-width="1.3" />
<line x1="623.0" y1="1062.3" x2="413.8" y2="1220.8" stroke="#1d2226" stroke-width="1.3" />
<line x1="602.1" y1="1070.6" x2="599.9" y2="1079.7" stroke="#1d2226" stroke-width="1.2" />
<line x1="554.0" y1="1107.1" x2="551.8" y2="1116.2" stroke="#1d2226" stroke-width="1.2" />
<line x1="505.8" y1="1143.6" x2="503.6" y2="1152.7" stroke="#1d2226" stroke-width="1.2" />
<line x1="457.7" y1="1180.0" x2="455.5" y2="1189.1" stroke="#1d2226" stroke-width="1.2" />
<rect x="580.5" y="1083.8" width="1.5" height="2.0" rx="0" fill="#1d2226" stroke="none" stroke-width="0.7" />
<rect x="577.9" y="1085.8" width="1.5" height="2.0" rx="0" fill="#1d2226" stroke="none" stroke-width="0.7" />
<rect x="575.3" y="1087.8" width="1.5" height="2.0" rx="0" fill="#1d2226" stroke="none" stroke-width="0.7" />
<rect x="528.2" y="1123.4" width="1.5" height="2.0" rx="0" fill="#1d2226" stroke="none" stroke-width="0.7" />
<rect x="525.6" y="1125.4" width="1.5" height="2.0" rx="0" fill="#1d2226" stroke="none" stroke-width="0.7" />
<rect x="523.0" y="1127.4" width="1.5" height="2.0" rx="0" fill="#1d2226" stroke="none" stroke-width="0.7" />
<rect x="480.0" y="1159.9" width="1.5" height="2.0" rx="0" fill="#1d2226" stroke="none" stroke-width="0.7" />
<rect x="477.4" y="1161.9" width="1.5" height="2.0" rx="0" fill="#1d2226" stroke="none" stroke-width="0.7" />
<rect x="474.8" y="1163.9" width="1.5" height="2.0" rx="0" fill="#1d2226" stroke="none" stroke-width="0.7" />
<line x1="645.6" y1="1213.2" x2="413.8" y2="1247.9" stroke="#20252a" stroke-width="1.4" />
<line x1="645.6" y1="1215.4" x2="413.8" y2="1250.1" stroke="#20252a" stroke-width="1.6" stroke-dasharray="0.8,1.2"/>
<line x1="645.6" y1="1219.5" x2="413.8" y2="1254.2" stroke="#20252a" stroke-width="0.8" />
<line x1="478.5" y1="1243.0" x2="478.5" y2="1270.6" stroke="#3b4045" stroke-width="0.8" />
<line x1="623.4" y1="1031.0" x2="623.4" y2="1270.6" stroke="#3b4045" stroke-width="0.8" />
<line x1="621.0" y1="1199.3" x2="415.5" y2="1230.1" stroke="#2b3035" stroke-width="1.0" stroke-dasharray="1.1,1.5"/>
<line x1="621.0" y1="1185.3" x2="424.2" y2="1214.8" stroke="#2b3035" stroke-width="1.0" stroke-dasharray="1.1,1.5"/>
<line x1="621.0" y1="1171.3" x2="447.2" y2="1197.3" stroke="#2b3035" stroke-width="1.0" stroke-dasharray="1.1,1.5"/>
<line x1="621.0" y1="1157.3" x2="470.2" y2="1179.9" stroke="#2b3035" stroke-width="1.0" stroke-dasharray="1.1,1.5"/>
<line x1="621.0" y1="1143.3" x2="493.3" y2="1162.4" stroke="#2b3035" stroke-width="1.0" stroke-dasharray="1.1,1.5"/>
<line x1="621.0" y1="1129.3" x2="516.3" y2="1145.0" stroke="#2b3035" stroke-width="1.0" stroke-dasharray="1.1,1.5"/>
<line x1="621.0" y1="1115.3" x2="539.3" y2="1127.5" stroke="#2b3035" stroke-width="1.0" stroke-dasharray="1.1,1.5"/>
<line x1="621.0" y1="1101.3" x2="562.3" y2="1110.1" stroke="#2b3035" stroke-width="1.0" stroke-dasharray="1.1,1.5"/>
<line x1="621.0" y1="1087.3" x2="585.4" y2="1092.6" stroke="#2b3035" stroke-width="1.0" stroke-dasharray="1.1,1.5"/>
<line x1="621.0" y1="1073.3" x2="608.4" y2="1075.2" stroke="#2b3035" stroke-width="1.0" stroke-dasharray="1.1,1.5"/>
<line x1="594.0" y1="1087.3" x2="594.0" y2="1218.9" stroke="#2f353a" stroke-width="0.9" stroke-dasharray="1.1,1.6"/>
<line x1="591.0" y1="1089.6" x2="591.0" y2="1218.9" stroke="#2f353a" stroke-width="0.9" stroke-dasharray="1.1,1.6"/>
<line x1="581.0" y1="1097.1" x2="581.0" y2="1220.9" stroke="#2f353a" stroke-width="0.9" stroke-dasharray="1.1,1.6"/>
<line x1="578.0" y1="1099.4" x2="578.0" y2="1220.9" stroke="#2f353a" stroke-width="0.9" stroke-dasharray="1.1,1.6"/>
<line x1="538.5" y1="1129.3" x2="538.5" y2="1227.2" stroke="#2f353a" stroke-width="0.9" stroke-dasharray="1.1,1.6"/>
<line x1="535.5" y1="1131.6" x2="535.5" y2="1227.2" stroke="#2f353a" stroke-width="0.9" stroke-dasharray="1.1,1.6"/>
<line x1="514.7" y1="1147.4" x2="514.7" y2="1230.8" stroke="#2f353a" stroke-width="0.9" stroke-dasharray="1.1,1.6"/>
<line x1="511.7" y1="1149.7" x2="511.7" y2="1230.8" stroke="#2f353a" stroke-width="0.9" stroke-dasharray="1.1,1.6"/>
<line x1="504.5" y1="1155.1" x2="504.5" y2="1232.3" stroke="#2f353a" stroke-width="0.9" stroke-dasharray="1.1,1.6"/>
<line x1="501.5" y1="1157.4" x2="501.5" y2="1232.3" stroke="#2f353a" stroke-width="0.9" stroke-dasharray="1.1,1.6"/>
<line x1="459.0" y1="1189.6" x2="459.0" y2="1239.1" stroke="#2f353a" stroke-width="0.9" stroke-dasharray="1.1,1.6"/>
<line x1="456.0" y1="1191.9" x2="456.0" y2="1239.1" stroke="#2f353a" stroke-width="0.9" stroke-dasharray="1.1,1.6"/>
<circle cx="613.4" cy="1141.4" r="3.7" fill="none" stroke="#1c2024" stroke-width="1.3" />
<circle cx="617.5" cy="1196.0" r="5.2" fill="none" stroke="#1c2024" stroke-width="1.3" />
<circle cx="581.0" cy="1188.0" r="3.8" fill="none" stroke="#1c2024" stroke-width="1.3" />
<circle cx="553.5" cy="1165.0" r="5.0" fill="none" stroke="#1c2024" stroke-width="1.3" />
<ellipse cx="614.0" cy="1100.0" rx="6.5" ry="4.3" fill="none" stroke="#1f2327" stroke-width="0.9" />
<rect x="594.0" y="1113.5" width="7.0" height="6.5" rx="1" fill="none" stroke="#1f2327" stroke-width="1.0" />
<circle cx="597.5" cy="1116.5" r="1.6" fill="#c9c9c9" stroke="none" stroke-width="0.7" />
<text x="595.5" y="1189.5" font-size="6" fill="#ddd" text-anchor="middle">2</text>
<rect x="591.5" y="1221.0" width="9.0" height="2.6" rx="0" fill="#9aa2a8" stroke="#222" stroke-width="0.5" />
<rect x="589.0" y="1227.5" width="14.0" height="2.2" rx="0" fill="#33383d" stroke="none" stroke-width="0.7" />
<rect x="543.0" y="1229.0" width="9.0" height="2.6" rx="0" fill="#9aa2a8" stroke="#222" stroke-width="0.5" />
<rect x="540.5" y="1235.5" width="14.0" height="2.2" rx="0" fill="#33383d" stroke="none" stroke-width="0.7" />
<rect x="493.5" y="1236.0" width="9.0" height="2.6" rx="0" fill="#9aa2a8" stroke="#222" stroke-width="0.5" />
<rect x="491.0" y="1242.5" width="14.0" height="2.2" rx="0" fill="#33383d" stroke="none" stroke-width="0.7" />
<path d="M464.5,1143 q-3.2,-1 -4.6,0.5 l0.4,24 q2.0,3 3.6,0 Z" fill="#68727a" stroke="#20252a" stroke-width="0.7" />
<polygon points="404.9,1113.6 410.8,1113.6 410.8,1160.1 413.2,1168.1 413.2,1288.2 404.9,1288.2" fill="#9fa7b8" stroke="#4c5566" stroke-width="0.7" />
<line x1="407.9" y1="1119.6" x2="407.9" y2="1282.2" stroke="#68718a" stroke-width="0.7" />
<line x1="409.2" y1="1138.6" x2="409.2" y2="1168.1" stroke="#3b4252" stroke-width="1.8" stroke-dasharray="0.8,1.6"/>
<rect x="402.3" y="1170.9" width="2.6" height="2.4" rx="0" fill="#8a92a6" stroke="#333" stroke-width="0.5" />
<rect x="402.3" y="1221.5" width="2.6" height="2.4" rx="0" fill="#8a92a6" stroke="#333" stroke-width="0.5" />
<ellipse cx="474.3" cy="1265.5" rx="1.3" ry="3.6" fill="#8a9199" stroke="#333" stroke-width="0.5" />
<line x1="474.3" y1="1268.0" x2="474.3" y2="1287.0" stroke="#1f1f1f" stroke-width="1.7" />
<line x1="474.3" y1="1283.0" x2="474.3" y2="1287.0" stroke="#cfae1c" stroke-width="1.7" />
<ellipse cx="447.0" cy="1265.5" rx="1.3" ry="3.6" fill="#8a9199" stroke="#333" stroke-width="0.5" />
<line x1="447.0" y1="1268.0" x2="447.0" y2="1287.0" stroke="#1f1f1f" stroke-width="1.7" />
<line x1="447.0" y1="1283.0" x2="447.0" y2="1287.0" stroke="#cfae1c" stroke-width="1.7" />
<ellipse cx="430.0" cy="1265.5" rx="1.3" ry="3.6" fill="#8a9199" stroke="#333" stroke-width="0.5" />
<line x1="430.0" y1="1268.0" x2="430.0" y2="1287.0" stroke="#1f1f1f" stroke-width="1.7" />
<line x1="430.0" y1="1283.0" x2="430.0" y2="1287.0" stroke="#cfae1c" stroke-width="1.7" />
<circle cx="498.1" cy="1200.5" r="19.7" fill="#f9d116" stroke="none" stroke-width="0.7" />
<circle cx="498.1" cy="1200.5" r="9.5" fill="#0b5cab" stroke="none" stroke-width="0.7" />
<circle cx="936.2" cy="1200.5" r="19.7" fill="#f9d116" stroke="none" stroke-width="0.7" />
<circle cx="936.2" cy="1200.5" r="9.5" fill="#0b5cab" stroke="none" stroke-width="0.7" />
</g>
<g id="labels">
<line x1="161.0" y1="65.0" x2="174.5" y2="125.0" stroke="#4a4a4a" stroke-width="0.9" />
<line x1="338.8" y1="80.0" x2="305.0" y2="130.0" stroke="#4a4a4a" stroke-width="0.9" />
<line x1="386.2" y1="95.5" x2="350.0" y2="115.0" stroke="#4a4a4a" stroke-width="0.9" />
<line x1="257.0" y1="138.8" x2="257.0" y2="195.0" stroke="#4a4a4a" stroke-width="0.9" />
<line x1="332.0" y1="150.0" x2="332.0" y2="195.0" stroke="#4a4a4a" stroke-width="0.9" />
<line x1="367.5" y1="251.5" x2="358.8" y2="307.5" stroke="#4a4a4a" stroke-width="0.9" />
<line x1="152.5" y1="304.0" x2="193.8" y2="338.8" stroke="#4a4a4a" stroke-width="0.9" />
<line x1="43.0" y1="367.5" x2="43.0" y2="402.0" stroke="#4a4a4a" stroke-width="0.9" />
<line x1="99.5" y1="363.8" x2="99.5" y2="401.5" stroke="#4a4a4a" stroke-width="0.9" />
<line x1="201.2" y1="297.5" x2="223.8" y2="330.0" stroke="#4a4a4a" stroke-width="0.9" />
<line x1="223.8" y1="271.2" x2="256.2" y2="303.8" stroke="#4a4a4a" stroke-width="0.9" />
<line x1="262.5" y1="271.2" x2="296.2" y2="330.0" stroke="#4a4a4a" stroke-width="0.9" />
<line x1="302.5" y1="271.2" x2="320.0" y2="327.5" stroke="#4a4a4a" stroke-width="0.9" />
<line x1="340.5" y1="271.2" x2="340.5" y2="322.5" stroke="#4a4a4a" stroke-width="0.9" />
<line x1="393.8" y1="271.2" x2="380.0" y2="332.5" stroke="#4a4a4a" stroke-width="0.9" />
<line x1="187.5" y1="397.5" x2="221.2" y2="360.0" stroke="#4a4a4a" stroke-width="0.9" />
<line x1="243.8" y1="400.0" x2="243.8" y2="341.2" stroke="#4a4a4a" stroke-width="0.9" />
<line x1="290.5" y1="400.0" x2="290.5" y2="346.2" stroke="#4a4a4a" stroke-width="0.9" />
<line x1="411.2" y1="370.0" x2="411.2" y2="432.5" stroke="#4a4a4a" stroke-width="0.9" />
<line x1="461.2" y1="406.2" x2="467.5" y2="431.2" stroke="#4a4a4a" stroke-width="0.9" />
<line x1="531.2" y1="390.0" x2="549.5" y2="428.8" stroke="#4a4a4a" stroke-width="0.9" />
<line x1="663.8" y1="393.8" x2="651.2" y2="428.8" stroke="#4a4a4a" stroke-width="0.9" />
<line x1="576.2" y1="286.2" x2="576.2" y2="320.0" stroke="#4a4a4a" stroke-width="0.9" />
<line x1="732.5" y1="265.5" x2="800.0" y2="348.8" stroke="#4a4a4a" stroke-width="0.9" />
<line x1="691.2" y1="428.8" x2="701.2" y2="405.0" stroke="#4a4a4a" stroke-width="0.9" />
<line x1="725.0" y1="428.8" x2="712.5" y2="406.2" stroke="#4a4a4a" stroke-width="0.9" />
<line x1="852.5" y1="428.8" x2="805.0" y2="388.0" stroke="#4a4a4a" stroke-width="0.9" />
<line x1="917.5" y1="425.0" x2="835.0" y2="352.5" stroke="#4a4a4a" stroke-width="0.9" />
<line x1="917.5" y1="425.0" x2="870.0" y2="402.5" stroke="#4a4a4a" stroke-width="0.9" />
<line x1="917.5" y1="425.0" x2="882.5" y2="397.5" stroke="#4a4a4a" stroke-width="0.9" />
<line x1="987.5" y1="408.8" x2="980.0" y2="385.0" stroke="#4a4a4a" stroke-width="0.9" />
<line x1="1023.8" y1="378.0" x2="1010.0" y2="378.0" stroke="#4a4a4a" stroke-width="0.9" />
<line x1="782.5" y1="425.0" x2="792.5" y2="459.0" stroke="#4a4a4a" stroke-width="0.9" />
<line x1="931.2" y1="127.5" x2="950.0" y2="160.0" stroke="#4a4a4a" stroke-width="0.9" />
<line x1="845.0" y1="176.2" x2="917.5" y2="198.8" stroke="#4a4a4a" stroke-width="0.9" />
<line x1="815.0" y1="228.8" x2="855.0" y2="256.2" stroke="#4a4a4a" stroke-width="0.9" />
<line x1="257.6" y1="483.2" x2="288.7" y2="509.4" stroke="#4a4a4a" stroke-width="0.9" />
<line x1="340.0" y1="475.3" x2="336.4" y2="488.3" stroke="#4a4a4a" stroke-width="0.9" />
<line x1="455.9" y1="566.8" x2="484.9" y2="595.2" stroke="#4a4a4a" stroke-width="0.9" />
<line x1="202.6" y1="657.4" x2="293.2" y2="692.0" stroke="#4a4a4a" stroke-width="0.9" />
<line x1="422.7" y1="668.3" x2="341.2" y2="690.6" stroke="#4a4a4a" stroke-width="0.9" />
<line x1="122.3" y1="707.2" x2="122.3" y2="752.5" stroke="#4a4a4a" stroke-width="0.9" />
<line x1="543.5" y1="708.0" x2="543.5" y2="804.5" stroke="#4a4a4a" stroke-width="0.9" />
<line x1="87.4" y1="807.1" x2="87.4" y2="906.5" stroke="#4a4a4a" stroke-width="0.9" />
<line x1="428.7" y1="949.4" x2="486.1" y2="949.4" stroke="#4a4a4a" stroke-width="0.9" />
<line x1="230.3" y1="1130.2" x2="280.8" y2="1130.2" stroke="#4a4a4a" stroke-width="0.9" />
<line x1="318.1" y1="1366.8" x2="364.2" y2="1366.8" stroke="#4a4a4a" stroke-width="0.9" />
<line x1="286.0" y1="1447.7" x2="314.4" y2="1447.7" stroke="#4a4a4a" stroke-width="0.9" />
<line x1="686.8" y1="556.8" x2="716.1" y2="556.8" stroke="#4a4a4a" stroke-width="0.9" />
<line x1="724.5" y1="615.1" x2="762.6" y2="615.1" stroke="#4a4a4a" stroke-width="0.9" />
<line x1="754.7" y1="806.6" x2="797.0" y2="794.5" stroke="#4a4a4a" stroke-width="0.9" />
<line x1="866.8" y1="1023.6" x2="832.1" y2="1062.3" stroke="#4a4a4a" stroke-width="0.9" />
<line x1="563.9" y1="1041.7" x2="563.9" y2="1084.9" stroke="#4a4a4a" stroke-width="0.9" />
<line x1="471.5" y1="1097.9" x2="490.6" y2="1202.6" stroke="#4a4a4a" stroke-width="0.9" />
<line x1="951.3" y1="1087.9" x2="943.8" y2="1198.1" stroke="#4a4a4a" stroke-width="0.9" />
<line x1="562.3" y1="1395.4" x2="581.0" y2="1426.1" stroke="#4a4a4a" stroke-width="0.9" />
<line x1="876.9" y1="1401.6" x2="840.4" y2="1424.0" stroke="#4a4a4a" stroke-width="0.9" />
<line x1="666.0" y1="1525.7" x2="687.6" y2="1500.0" stroke="#4a4a4a" stroke-width="0.9" />
<line x1="759.4" y1="1529.0" x2="749.1" y2="1519.9" stroke="#4a4a4a" stroke-width="0.9" />
<line x1="479.6" y1="1142.1" x2="490.6" y2="1202.6" stroke="#e9ecee" stroke-width="1.0" />
<line x1="948.1" y1="1135.2" x2="943.8" y2="1198.1" stroke="#e9ecee" stroke-width="1.0" />
<line x1="563.9" y1="1072.1" x2="563.9" y2="1084.9" stroke="#e9ecee" stroke-width="1.0" />
<line x1="844.1" y1="1048.9" x2="832.1" y2="1062.3" stroke="#e9ecee" stroke-width="1.0" />
<line x1="576.2" y1="306.5" x2="576.2" y2="320.0" stroke="#e9ecee" stroke-width="1.0" />
<line x1="765.3" y1="306.0" x2="790.9" y2="337.5" stroke="#e9ecee" stroke-width="1.0" />
<rect x="353.0" y="221.5" width="30.5" height="30.5" fill="#fff" stroke="#9a9a9a" stroke-width="1"/>
<text x="368.2" y="246.6" font-size="27.4" font-weight="bold" text-anchor="middle" fill="#1a1a1a">E</text>
<rect x="128.5" y="274.0" width="30.5" height="30.5" fill="#fff" stroke="#9a9a9a" stroke-width="1"/>
<text x="143.8" y="299.1" font-size="27.4" font-weight="bold" text-anchor="middle" fill="#1a1a1a">A</text>
<rect x="27.5" y="402.0" width="30.5" height="30.5" fill="#fff" stroke="#9a9a9a" stroke-width="1"/>
<text x="42.8" y="427.1" font-size="27.4" font-weight="bold" text-anchor="middle" fill="#1a1a1a">I</text>
<rect x="79.0" y="401.5" width="30.5" height="30.5" fill="#fff" stroke="#9a9a9a" stroke-width="1"/>
<text x="94.2" y="426.6" font-size="27.4" font-weight="bold" text-anchor="middle" fill="#1a1a1a">H</text>
<rect x="560.0" y="256.0" width="30.5" height="30.5" fill="#fff" stroke="#9a9a9a" stroke-width="1"/>
<text x="575.2" y="281.1" font-size="27.4" font-weight="bold" text-anchor="middle" fill="#1a1a1a">D</text>
<rect x="716.0" y="236.0" width="30.5" height="30.5" fill="#fff" stroke="#9a9a9a" stroke-width="1"/>
<text x="731.2" y="261.1" font-size="27.4" font-weight="bold" text-anchor="middle" fill="#1a1a1a">E</text>
<rect x="915.0" y="97.5" width="30.5" height="30.5" fill="#fff" stroke="#9a9a9a" stroke-width="1"/>
<text x="930.2" y="122.6" font-size="27.4" font-weight="bold" text-anchor="middle" fill="#1a1a1a">E</text>
<rect x="1024.0" y="365.0" width="30.5" height="30.5" fill="#fff" stroke="#9a9a9a" stroke-width="1"/>
<text x="1039.2" y="390.1" font-size="27.4" font-weight="bold" text-anchor="middle" fill="#1a1a1a">J</text>
<rect x="972.5" y="409.0" width="30.5" height="30.5" fill="#fff" stroke="#9a9a9a" stroke-width="1"/>
<text x="987.8" y="434.1" font-size="27.4" font-weight="bold" text-anchor="middle" fill="#1a1a1a">K</text>
<rect x="401.5" y="432.0" width="30.5" height="30.5" fill="#fff" stroke="#9a9a9a" stroke-width="1"/>
<text x="416.8" y="457.1" font-size="27.4" font-weight="bold" text-anchor="middle" fill="#1a1a1a">E</text>
<rect x="456.0" y="432.0" width="30.5" height="30.5" fill="#fff" stroke="#9a9a9a" stroke-width="1"/>
<text x="471.2" y="457.1" font-size="27.4" font-weight="bold" text-anchor="middle" fill="#1a1a1a">F</text>
<rect x="782.0" y="458.5" width="30.5" height="30.5" fill="#fff" stroke="#9a9a9a" stroke-width="1"/>
<text x="797.2" y="483.6" font-size="27.4" font-weight="bold" text-anchor="middle" fill="#1a1a1a">E</text>
<rect x="236.5" y="453.0" width="30.5" height="30.5" fill="#fff" stroke="#9a9a9a" stroke-width="1"/>
<text x="251.8" y="478.1" font-size="27.4" font-weight="bold" text-anchor="middle" fill="#1a1a1a">K</text>
<rect x="330.3" y="445.0" width="30.5" height="30.5" fill="#fff" stroke="#9a9a9a" stroke-width="1"/>
<text x="345.6" y="470.1" font-size="27.4" font-weight="bold" text-anchor="middle" fill="#1a1a1a">J</text>
<rect x="483.5" y="594.0" width="30.5" height="30.5" fill="#fff" stroke="#9a9a9a" stroke-width="1"/>
<text x="498.8" y="619.1" font-size="27.4" font-weight="bold" text-anchor="middle" fill="#1a1a1a">F</text>
<rect x="107.8" y="677.0" width="30.5" height="30.5" fill="#fff" stroke="#9a9a9a" stroke-width="1"/>
<text x="123.0" y="702.1" font-size="27.4" font-weight="bold" text-anchor="middle" fill="#1a1a1a">F</text>
<rect x="486.0" y="934.0" width="30.5" height="30.5" fill="#fff" stroke="#9a9a9a" stroke-width="1"/>
<text x="501.2" y="959.1" font-size="27.4" font-weight="bold" text-anchor="middle" fill="#1a1a1a">F</text>
<rect x="199.8" y="1114.3" width="30.5" height="30.5" fill="#fff" stroke="#9a9a9a" stroke-width="1"/>
<text x="215.1" y="1139.4" font-size="27.4" font-weight="bold" text-anchor="middle" fill="#1a1a1a">F</text>
<rect x="364.2" y="1352.0" width="30.5" height="30.5" fill="#fff" stroke="#9a9a9a" stroke-width="1"/>
<text x="379.4" y="1377.1" font-size="27.4" font-weight="bold" text-anchor="middle" fill="#1a1a1a">H</text>
<rect x="255.9" y="1431.0" width="30.5" height="30.5" fill="#fff" stroke="#9a9a9a" stroke-width="1"/>
<text x="271.1" y="1456.1" font-size="27.4" font-weight="bold" text-anchor="middle" fill="#1a1a1a">I</text>
<rect x="656.6" y="537.5" width="30.5" height="30.5" fill="#fff" stroke="#9a9a9a" stroke-width="1"/>
<text x="671.9" y="562.6" font-size="27.4" font-weight="bold" text-anchor="middle" fill="#1a1a1a">I</text>
<rect x="762.6" y="600.0" width="30.5" height="30.5" fill="#fff" stroke="#9a9a9a" stroke-width="1"/>
<text x="777.9" y="625.1" font-size="27.4" font-weight="bold" text-anchor="middle" fill="#1a1a1a">H</text>
<rect x="797.0" y="779.5" width="30.5" height="30.5" fill="#fff" stroke="#9a9a9a" stroke-width="1"/>
<text x="812.2" y="804.6" font-size="27.4" font-weight="bold" text-anchor="middle" fill="#1a1a1a">E</text>
<rect x="857.0" y="993.0" width="30.5" height="30.5" fill="#fff" stroke="#9a9a9a" stroke-width="1"/>
<text x="872.2" y="1018.1" font-size="27.4" font-weight="bold" text-anchor="middle" fill="#1a1a1a">D</text>
<rect x="548.5" y="1012.0" width="30.5" height="30.5" fill="#fff" stroke="#9a9a9a" stroke-width="1"/>
<text x="563.8" y="1037.1" font-size="27.4" font-weight="bold" text-anchor="middle" fill="#1a1a1a">D</text>
<rect x="538.6" y="1365.9" width="30.5" height="30.5" fill="#fff" stroke="#9a9a9a" stroke-width="1"/>
<text x="553.9" y="1391.0" font-size="27.4" font-weight="bold" text-anchor="middle" fill="#1a1a1a">E</text>
<rect x="876.9" y="1378.4" width="30.5" height="30.5" fill="#fff" stroke="#9a9a9a" stroke-width="1"/>
<text x="892.1" y="1403.5" font-size="27.4" font-weight="bold" text-anchor="middle" fill="#1a1a1a">E</text>
<rect x="641.0" y="1525.5" width="30.5" height="30.5" fill="#fff" stroke="#9a9a9a" stroke-width="1"/>
<text x="656.2" y="1550.6" font-size="27.4" font-weight="bold" text-anchor="middle" fill="#1a1a1a">K</text>
<rect x="754.0" y="1529.0" width="30.5" height="30.5" fill="#fff" stroke="#9a9a9a" stroke-width="1"/>
<text x="769.2" y="1554.1" font-size="27.4" font-weight="bold" text-anchor="middle" fill="#1a1a1a">J</text>
<text x="157.0" y="62.3" font-size="19.1" font-weight="bold" text-anchor="middle" fill="#1a1a1a">62</text>
<text x="340.0" y="79.3" font-size="19.1" font-weight="bold" text-anchor="middle" fill="#1a1a1a">57</text>
<text x="389.0" y="93.8" font-size="19.1" font-weight="bold" text-anchor="middle" fill="#1a1a1a">63</text>
<text x="257.0" y="213.1" font-size="19.1" font-weight="bold" text-anchor="middle" fill="#1a1a1a">59</text>
<text x="332.0" y="212.8" font-size="19.1" font-weight="bold" text-anchor="middle" fill="#1a1a1a">64</text>
<text x="222.0" y="269.3" font-size="19.1" font-weight="bold" text-anchor="middle" fill="#1a1a1a">12</text>
<text x="261.0" y="269.3" font-size="19.1" font-weight="bold" text-anchor="middle" fill="#1a1a1a">61</text>
<text x="301.0" y="269.3" font-size="19.1" font-weight="bold" text-anchor="middle" fill="#1a1a1a">13</text>
<text x="340.5" y="269.3" font-size="19.1" font-weight="bold" text-anchor="middle" fill="#1a1a1a">60</text>
<text x="394.5" y="269.3" font-size="19.1" font-weight="bold" text-anchor="middle" fill="#1a1a1a">62</text>
<text x="195.0" y="294.8" font-size="19.1" font-weight="bold" text-anchor="middle" fill="#1a1a1a">65</text>
<text x="182.5" y="415.8" font-size="19.1" font-weight="bold" text-anchor="middle" fill="#1a1a1a">64</text>
<text x="244.0" y="415.8" font-size="19.1" font-weight="bold" text-anchor="middle" fill="#1a1a1a">58</text>
<text x="291.0" y="415.8" font-size="19.1" font-weight="bold" text-anchor="middle" fill="#1a1a1a">59</text>
<text x="549.0" y="446.8" font-size="19.1" font-weight="bold" text-anchor="middle" fill="#1a1a1a">28</text>
<text x="650.0" y="447.3" font-size="19.1" font-weight="bold" text-anchor="middle" fill="#1a1a1a">27</text>
<text x="691.0" y="447.3" font-size="19.1" font-weight="bold" text-anchor="middle" fill="#1a1a1a">44</text>
<text x="726.0" y="447.3" font-size="19.1" font-weight="bold" text-anchor="middle" fill="#1a1a1a">26</text>
<text x="854.5" y="447.3" font-size="19.1" font-weight="bold" text-anchor="middle" fill="#1a1a1a">14</text>
<text x="925.0" y="447.3" font-size="19.1" font-weight="bold" text-anchor="middle" fill="#1a1a1a">45</text>
<text x="832.0" y="179.8" font-size="19.1" font-weight="bold" text-anchor="middle" fill="#1a1a1a">40</text>
<text x="805.0" y="227.3" font-size="19.1" font-weight="bold" text-anchor="middle" fill="#1a1a1a">66 or 67</text>
<text x="189.0" y="662.0" font-size="19.1" font-weight="bold" text-anchor="middle" fill="#1a1a1a">15</text>
<text x="437.8" y="670.2" font-size="19.1" font-weight="bold" text-anchor="middle" fill="#1a1a1a">15</text>
<text x="88.0" y="925.8" font-size="19.1" font-weight="bold" text-anchor="middle" fill="#1a1a1a">38</text>
<text x="542.0" y="704.8" font-size="19.1" font-weight="bold" text-anchor="middle" fill="#1a1a1a">38</text>
<text x="469.4" y="1094.8" font-size="19.1" font-weight="bold" text-anchor="middle" fill="#1a1a1a">38</text>
<text x="951.3" y="1084.2" font-size="19.1" font-weight="bold" text-anchor="middle" fill="#1a1a1a">38</text>
<text x="825.7" y="189.9" font-size="10.4" font-weight="bold" text-anchor="middle" fill="#1a1a1a">(53 for low vis)</text>
<text x="88.0" y="936.4" font-size="10.4" font-weight="bold" text-anchor="middle" fill="#1a1a1a">(54 for low vis)</text>
<text x="542.0" y="687.4" font-size="10.4" font-weight="bold" text-anchor="middle" fill="#1a1a1a">(54 for low vis)</text>
<text x="469.4" y="1078.4" font-size="10.4" font-weight="bold" text-anchor="middle" fill="#1a1a1a">(54 for low vis)</text>
<text x="951.3" y="1067.2" font-size="10.4" font-weight="bold" text-anchor="middle" fill="#1a1a1a">(54 for low vis)</text>
</g>
</svg></body></html>
